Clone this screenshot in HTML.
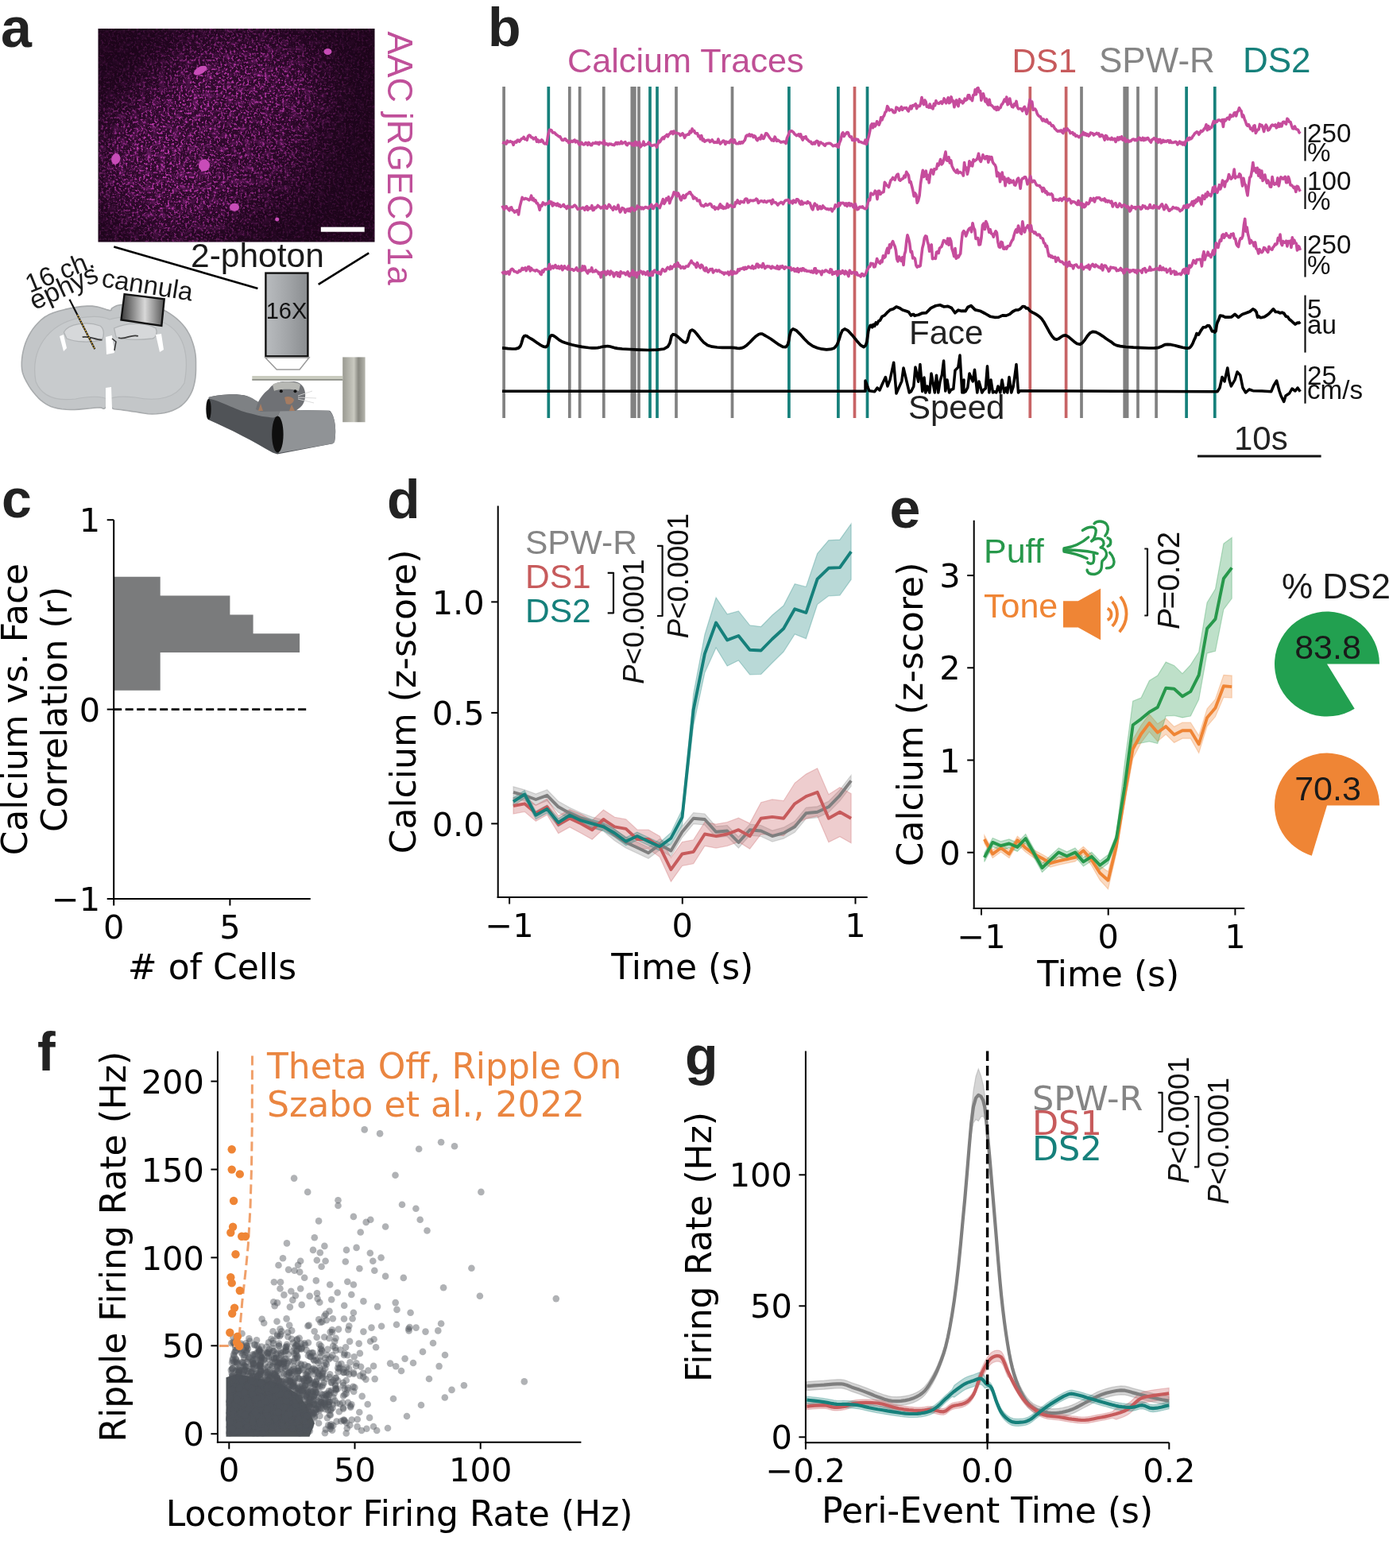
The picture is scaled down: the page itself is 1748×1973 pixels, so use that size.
<!DOCTYPE html>
<html><head><meta charset="utf-8"><meta name="viewport" content="width=1748"><title>Figure</title>
<style>html,body{margin:0;padding:0;background:#fff;width:1748px;height:1973px;overflow:hidden;}svg{display:block;}</style></head>
<body><svg width="1748" height="1973" viewBox="0 0 1748 1973">
<rect width="1748" height="1973" fill="#fff"/>
<text x="1" y="58.8" font-size="70" fill="#222" font-family="'Liberation Sans', Arial, Helvetica, sans-serif" text-anchor="start" font-weight="bold">a</text>
<defs>
<filter id="speck" x="0" y="0" width="100%" height="100%">
<feTurbulence type="fractalNoise" baseFrequency="0.36" numOctaves="3" seed="3" result="n"/>
<feColorMatrix in="n" type="matrix" values="0 0 0 0 0  0 0 0 0 0  0 0 0 0 0  4.5 0 0 0 -2.3" result="a"/>
<feFlood flood-color="#c43cb4" result="c"/>
<feComposite in="c" in2="a" operator="in"/>
</filter>
<filter id="speck2" x="0" y="0" width="100%" height="100%">
<feTurbulence type="fractalNoise" baseFrequency="0.12" numOctaves="2" seed="11" result="n"/>
<feColorMatrix in="n" type="matrix" values="0 0 0 0 0  0 0 0 0 0  0 0 0 0 0  3.0 0 0 0 -1.45" result="a"/>
<feFlood flood-color="#7a2074" result="c"/>
<feComposite in="c" in2="a" operator="in"/>
</filter>
<filter id="mblur" x="-50%" y="-50%" width="200%" height="200%"><feGaussianBlur stdDeviation="28"/></filter>
<clipPath id="imgclip"><rect x="123.5" y="36" width="348" height="268.5"/></clipPath>
<mask id="imgm" maskUnits="userSpaceOnUse" x="123.5" y="36" width="348" height="268.5">
<rect x="123.5" y="36" width="348" height="268.5" fill="#333"/>
<g filter="url(#mblur)"><ellipse cx="225" cy="205" rx="105" ry="95" fill="#fff"/><ellipse cx="300" cy="115" rx="105" ry="70" fill="#fff"/><ellipse cx="330" cy="190" rx="60" ry="60" fill="#ccc"/></g>
</mask>
<linearGradient id="objg" x1="0" x2="1" y1="0" y2="0">
<stop offset="0" stop-color="#b9bcbf"/><stop offset="0.5" stop-color="#a3a6a9"/><stop offset="1" stop-color="#8a8d90"/>
</linearGradient>
<linearGradient id="cang" x1="0" x2="1" y1="0" y2="0">
<stop offset="0" stop-color="#3c3c3c"/><stop offset="0.55" stop-color="#d8d8d8"/><stop offset="1" stop-color="#555"/>
</linearGradient>
<linearGradient id="postg" x1="0" x2="1" y1="0" y2="0">
<stop offset="0" stop-color="#9a9a92"/><stop offset="0.5" stop-color="#c9c9c0"/><stop offset="0.7" stop-color="#888880"/><stop offset="1" stop-color="#b5b5ad"/>
</linearGradient>
</defs>
<rect x="123.5" y="36" width="348" height="268.5" fill="#180316"/>
<g clip-path="url(#imgclip)"><g mask="url(#imgm)"><rect x="123.5" y="36" width="348" height="268.5" fill="#300a2d"/><rect x="123.5" y="36" width="348" height="268.5" filter="url(#speck2)" opacity="0.7"/><rect x="123.5" y="36" width="348" height="268.5" filter="url(#speck)" opacity="0.95"/></g></g>
<ellipse cx="252" cy="88.7" rx="9" ry="4.5" fill="#c84cb8" transform="rotate(-30 252 88.7)"/>
<ellipse cx="145.7" cy="200" rx="5.5" ry="7" fill="#c84cb8" transform="rotate(15 145.7 200)"/>
<ellipse cx="257" cy="208" rx="7" ry="7.5" fill="#c84cb8" transform="rotate(0 257 208)"/>
<ellipse cx="295" cy="260.7" rx="6" ry="5" fill="#c84cb8" transform="rotate(0 295 260.7)"/>
<ellipse cx="412.5" cy="65" rx="5" ry="4" fill="#c84cb8" transform="rotate(0 412.5 65)"/>
<ellipse cx="348.7" cy="276" rx="2.5" ry="2.5" fill="#c84cb8" transform="rotate(0 348.7 276)"/>
<rect x="403.8" y="285.7" width="54.9" height="6" fill="#fff"/>
<text x="0" y="0" font-size="43.5" fill="#c0509a" font-family="'Liberation Sans', Arial, Helvetica, sans-serif" text-anchor="start" font-weight="normal" transform="translate(488,39.5) rotate(90)">AAC jRGECO1a</text>
<line x1="143.3" y1="310.6" x2="324.4" y2="362.9" stroke="#000" stroke-width="2.6"/>
<line x1="464.2" y1="318.3" x2="400.7" y2="357.8" stroke="#000" stroke-width="2.6"/>
<text x="240" y="336.3" font-size="42.5" fill="#1a1a1a" font-family="'Liberation Sans', Arial, Helvetica, sans-serif" text-anchor="start" font-weight="normal">2-photon</text>
<rect x="334.4" y="343.6" width="53" height="104.7" fill="url(#objg)" stroke="#111" stroke-width="2.4"/>
<polygon points="333.9,450 389,450 377.1,465 348.2,465" fill="#fff" stroke="#9a9a9a" stroke-width="1.5"/>
<text x="360.5" y="400.8" font-size="29" fill="#111" font-family="'Liberation Sans', Arial, Helvetica, sans-serif" text-anchor="middle" font-weight="normal">16X</text>
<path d="M138,390.6 L134,389.6 L128.6,387.8 L122.4,386.1 L116.1,385.1 L109.6,385.1 L102.7,385.6 L95.7,386.6 L88.7,387.9 L81.6,389.4 L74.3,391.3 L67.3,393.5 L61.2,396.1 L56.2,399 L51.9,402.3 L48.2,406 L44.7,409.8 L41.4,413.9 L38.5,418.4 L35.9,423 L33.7,427.7 L31.8,432.4 L30.3,437.3 L29.1,442.2 L28.2,446.9 L27.6,451.5 L27.3,456.1 L27.3,460.6 L27.6,464.7 L28.3,468.4 L29.4,471.8 L30.7,475.1 L32.4,478.5 L34.4,482.2 L36.7,486.1 L39.3,490 L42,493.6 L44.9,497 L47.9,500.3 L51.1,503.3 L54.3,505.9 L57.5,508.1 L60.6,509.9 L64,511.5 L68,512.8 L72.7,513.9 L77.9,514.7 L83.4,515.2 L88.7,515.5 L93.9,515.5 L99.2,515.1 L104.4,514.6 L109.2,514.2 L113.9,513.8 L118.4,513.3 L122.4,513 L125.7,512.8 L127.8,513.1 L129.1,513.8 L130.1,514.3 L131.2,514.2 L132.6,513.1 L133.9,511.2 L135.3,509.5 L136.7,508.7 L138,509.4 L139.2,511 L140.5,512.9 L142.2,514.2 L144.1,514.8 L146.1,515 L148.6,515.2 L151.8,515.5 L155.9,516.1 L160.7,516.8 L165.9,517.6 L171,518.3 L176.1,519.1 L181.2,520 L186.4,520.7 L191.6,521 L196.8,520.8 L202.2,520.3 L207.3,519.5 L212.2,518.3 L216.7,516.7 L221,514.8 L225.1,512.6 L228.7,510 L232,507 L234.9,503.7 L237.5,500 L239.7,496.3 L241.6,492.4 L243.1,488.4 L244.2,484.2 L245.2,479.8 L245.9,475.2 L246.3,470.4 L246.5,465.5 L246.5,460.6 L246.5,455.8 L246.4,451.1 L246,446.3 L245.2,441.4 L244,436.3 L242.4,430.9 L240.5,425.7 L238.3,420.8 L235.7,416.3 L232.8,412 L229.5,408 L226,404.3 L222.2,400.8 L218.1,397.6 L213.8,394.6 L209.5,392 L205.2,389.8 L200.8,387.9 L196.3,386.4 L191.6,385.1 L186.6,384.2 L181.5,383.6 L176.2,383.2 L171,383 L165.6,382.9 L160,383 L154.8,383.2 L150.4,383.7 L147.1,384.5 L144.5,385.7 L142.5,386.9 L140.8,387.9 L140.1,388.9 L140.2,389.9 L139.9,390.5 Z" fill="#c3c6c8" stroke="#a8abad" stroke-width="1.6" stroke-linejoin="round"/>
<path d="M45,480 C38,440 60,408 100,400 C118,397 130,398 138,402 C150,398 175,397 195,402 C228,410 240,440 232,482 C222,500 200,506 170,500 C150,498 140,500 137,503 C130,499 115,498 95,502 C70,505 52,498 45,480 Z" fill="#c8cbcd" stroke="#b6b9bb" stroke-width="1.2"/>
<path d="M80.4,418 C86,407 110,404 126,410 C132,414 131,424 128,428 C115,431 95,431 84,426 Z" fill="#d6d8da" stroke="#b0b3b5" stroke-width="1.3"/>
<path d="M143.6,413 C160,405 185,406 196,413 C199,419 196,425 192,426 C175,428 158,428 146,424 Z" fill="#d6d8da" stroke="#b0b3b5" stroke-width="1.3"/>
<path d="M103.7,424.2 C112,422 120,428 128.5,427.7 M149,425 C158,428 165,420 173.8,422.9" fill="none" stroke="#3a3a3a" stroke-width="1.8"/>
<path d="M75,423 L80,421 L84,438 L80,442 Z M196,421 L203,420 L206,440 L201,443 Z M133,424 L141,422 L144,444 L134,446 Z M133,488 L140,487 L141,514 L133,514 Z" fill="#ffffff"/>
<path d="M141,426 L146,430 L144,441" fill="none" stroke="#333" stroke-width="1.5"/>
<line x1="87.5" y1="376.7" x2="119.3" y2="439.3" stroke="#111" stroke-width="2.2"/>
<line x1="97.5" y1="396" x2="119.3" y2="439.3" stroke="#c8a040" stroke-width="1.6" stroke-dasharray="2,1.5"/>
<text x="0" y="0" font-size="33" fill="#1a1a1a" font-family="'Liberation Sans', Arial, Helvetica, sans-serif" text-anchor="start" font-weight="normal" transform="translate(37.5,369) rotate(-22)">16 ch.</text>
<text x="0" y="0" font-size="34" fill="#1a1a1a" font-family="'Liberation Sans', Arial, Helvetica, sans-serif" text-anchor="start" font-weight="normal" transform="translate(43.5,390.5) rotate(-24.5)">ephys</text>
<text x="0" y="0" font-size="33" fill="#1a1a1a" font-family="'Liberation Sans', Arial, Helvetica, sans-serif" text-anchor="start" font-weight="normal" transform="translate(126.7,360.5) rotate(9)">cannula</text>
<polygon points="156.6,370.1 206.7,376.3 203.3,410 152.5,402.4" fill="url(#cang)" stroke="#111" stroke-width="2.4"/>
<path d="M262.6,500 C275,496 300,495 310,498 C322,503 330,511 345,515.5 L415,516.8 C421,522 424,540 421,556 L418.7,558.3 L349,571.5 L343,569.6 C320,556 290,540 262,528 Z" fill="#505357"/>
<path d="M262.6,499.8 C275,496 298,496 306.6,497.3 C314,499 318,501 320.5,503 C327,507 333,511 338,513 L345.6,515.5 L353,515.5 L349.4,523.7 C346,525 344,525.6 343,525.6 C335,524.5 330,524 325.5,523 C318,521 312,519.5 306.6,518 C298,515 292,512 287.8,510.5 C278,506 270,503 263.8,501.7 Z" fill="#7e8184"/>
<path d="M349.4,523.7 L353,515.5 L413.6,516.8 C421,520 424,540 421,556 L418.7,558.3 L351,570 Z" fill="#909396"/>
<ellipse cx="349.4" cy="546.6" rx="7.2" ry="23" fill="#0e0e0e"/>
<ellipse cx="262.5" cy="515" rx="3.2" ry="13" fill="#0e0e0e"/>
<rect x="431.2" y="449.4" width="28.4" height="81.8" fill="url(#postg)"/>
<path d="M322,515 C324,505 330,496 338,490 C342,484 348,481 356,480 L370,480 C378,481 383,486 384,494 C385,503 382,510 376,514 L372,517 L328,518 Z" fill="#6f7175"/>
<path d="M343,484 C350,479 372,479 378,484 L376,492 C370,489 350,489 345,492 Z" fill="#b7b8b4"/>
<circle cx="353.8" cy="492.2" r="2" fill="#111"/><circle cx="371.5" cy="492.2" r="2" fill="#111"/>
<path d="M358,500 C362,498 368,499 370,503 C369,508 364,510 360,508 Z" fill="#a57c62"/>
<path d="M325,517 L328,508 L331,517 Z M364,517 L367,509 L371,517 Z" fill="#a57c62"/>
<path d="M375,498 L393,492 M375,500 L398,501 M375,502 L395,507" stroke="#d8d8d8" stroke-width="0.9"/>
<rect x="317.3" y="473" width="113.9" height="5.4" fill="#c9cbbf"/>
<rect x="317.3" y="477.2" width="113.9" height="1.4" fill="#7d7f78"/>
<text x="614" y="58" font-size="68" fill="#222" font-family="'Liberation Sans', Arial, Helvetica, sans-serif" text-anchor="start" font-weight="bold">b</text>
<text x="714" y="90.5" font-size="43.2" fill="#bf4f95" font-family="'Liberation Sans', Arial, Helvetica, sans-serif" text-anchor="start" font-weight="normal">Calcium Traces</text>
<text x="1273.5" y="91" font-size="42" fill="#c75a5c" font-family="'Liberation Sans', Arial, Helvetica, sans-serif" text-anchor="start" font-weight="normal">DS1</text>
<text x="1383" y="91" font-size="44" fill="#858585" font-family="'Liberation Sans', Arial, Helvetica, sans-serif" text-anchor="start" font-weight="normal">SPW-R</text>
<text x="1564" y="91" font-size="44" fill="#16807b" font-family="'Liberation Sans', Arial, Helvetica, sans-serif" text-anchor="start" font-weight="normal">DS2</text>
<line x1="634.1" y1="109" x2="634.1" y2="526" stroke="#818181" stroke-width="3.7"/>
<line x1="716.8" y1="109" x2="716.8" y2="526" stroke="#818181" stroke-width="3.7"/>
<line x1="729.6" y1="109" x2="729.6" y2="526" stroke="#818181" stroke-width="3.7"/>
<line x1="759.8" y1="109" x2="759.8" y2="526" stroke="#818181" stroke-width="3.7"/>
<line x1="795.3" y1="109" x2="795.3" y2="526" stroke="#818181" stroke-width="3.7"/>
<line x1="798.8" y1="109" x2="798.8" y2="526" stroke="#818181" stroke-width="3.7"/>
<line x1="804" y1="109" x2="804" y2="526" stroke="#818181" stroke-width="3.7"/>
<line x1="851" y1="109" x2="851" y2="526" stroke="#818181" stroke-width="3.7"/>
<line x1="921.5" y1="109" x2="921.5" y2="526" stroke="#818181" stroke-width="3.7"/>
<line x1="1361" y1="109" x2="1361" y2="526" stroke="#818181" stroke-width="3.7"/>
<line x1="1415.2" y1="109" x2="1415.2" y2="526" stroke="#818181" stroke-width="3.7"/>
<line x1="1418.6" y1="109" x2="1418.6" y2="526" stroke="#818181" stroke-width="3.7"/>
<line x1="1432" y1="109" x2="1432" y2="526" stroke="#818181" stroke-width="3.7"/>
<line x1="1455.1" y1="109" x2="1455.1" y2="526" stroke="#818181" stroke-width="3.7"/>
<line x1="690.3" y1="109" x2="690.3" y2="526" stroke="#16807b" stroke-width="3.7"/>
<line x1="818" y1="109" x2="818" y2="526" stroke="#16807b" stroke-width="3.7"/>
<line x1="827" y1="109" x2="827" y2="526" stroke="#16807b" stroke-width="3.7"/>
<line x1="992.9" y1="109" x2="992.9" y2="526" stroke="#16807b" stroke-width="3.7"/>
<line x1="1054.9" y1="109" x2="1054.9" y2="526" stroke="#16807b" stroke-width="3.7"/>
<line x1="1091.5" y1="109" x2="1091.5" y2="526" stroke="#16807b" stroke-width="3.7"/>
<line x1="1493.1" y1="109" x2="1493.1" y2="526" stroke="#16807b" stroke-width="3.7"/>
<line x1="1528.8" y1="109" x2="1528.8" y2="526" stroke="#16807b" stroke-width="3.7"/>
<line x1="1075.5" y1="109" x2="1075.5" y2="526" stroke="#c86466" stroke-width="3.7"/>
<line x1="1296.3" y1="109" x2="1296.3" y2="526" stroke="#c86466" stroke-width="3.7"/>
<line x1="1341.6" y1="109" x2="1341.6" y2="526" stroke="#c86466" stroke-width="3.7"/>
<polyline points="632,179.3 633.3,179.7 634.6,179.4 635.8,179.6 637.1,181 638.4,177.2 639.7,178.8 640.9,178.5 642.2,177.7 643.5,178.6 644.8,178.7 646.1,182.3 647.3,179.1 648.6,178.1 649.9,179.2 651.2,176.2 652.4,176.4 653.7,178 655,176.3 656.4,174.6 657.8,174.3 659.1,172.4 660.5,175.3 661.9,175 663.2,176.3 664.6,171.3 666,170.1 667.4,170.9 668.7,172.9 670.1,173 671.4,174.9 672.8,174.1 674.1,173 675.5,178.2 676.8,176 678,178.7 679.2,177.2 680.5,178.2 681.8,176 683,177.3 684.2,179.9 685.5,181 686.8,180.2 688,181.2 689.8,169.5 691.5,163.4 692.8,163.5 694.1,163.9 695.4,166.9 696.8,166.9 698.1,167.1 699.4,168.8 700.7,169.8 702.1,170.7 703.4,171.9 704.8,171.9 706.2,174.5 707.5,176.4 708.9,176.4 710.3,174.9 711.7,174.9 713,177.1 714.4,177 715.7,179.6 716.9,178.2 718.2,178.6 719.4,177.3 720.7,178.4 721.9,176.8 723.2,176.2 724.4,178.9 725.7,177.3 727,178.1 728.2,180.7 729.5,182.2 730.7,180.2 732,179.4 733.2,181.3 734.5,182 735.7,181.6 737,179.6 738.3,179.9 739.6,182.3 740.8,179.3 742.1,180.7 743.4,182.7 744.7,182.6 746,180 747.3,180.3 748.5,180.4 749.8,179.1 751.1,180.7 752.4,179.5 753.7,181.6 754.9,179.2 756.2,179.7 757.5,179.8 758.8,180.8 760.1,177 761.3,181.9 762.6,180.6 763.9,181 765.2,182.7 766.5,181 767.8,181.5 769,181.1 770.3,182.1 771.6,182 772.9,182.7 774.1,181 775.4,179.4 776.7,181.3 778,179.5 779.2,181 780.5,180.8 781.8,178.1 783,180.6 784.3,179.9 785.6,179.4 786.9,178.7 788.1,182 789.4,182.7 790.7,180.2 792,180.1 793.2,180.5 794.5,180.3 795.8,182.7 797.1,180.5 798.3,183.2 799.6,178.5 800.9,178.9 802.2,182.9 803.5,181.5 804.7,178.8 806,184.9 807.3,183.3 808.6,182.5 809.9,178.2 811.1,182.9 812.4,181.9 813.7,181.6 815,181.2 816.3,179.1 817.5,179.8 818.8,182.3 820.1,183.4 821.4,183 822.7,182.6 823.9,182.2 825.2,182.7 826.5,185.3 827.8,181.2 829.1,177.3 830.3,178.9 831.6,176.8 832.9,174.4 834.2,172.9 835.4,174.7 836.7,171.7 838,171.1 839.3,169.5 840.5,171.8 841.8,169.1 843.1,168.3 844.3,166 845.6,165.6 846.9,168.6 848.1,165.1 849.4,167.3 850.8,167.4 852.1,167.6 853.5,168 854.8,168.2 856.2,170.5 857.6,169.7 858.9,167.8 860.3,169.8 861.6,173.3 863,170 864.3,170 865.7,168.8 867,169.2 868.3,165.1 869.7,166.9 871,162.1 872.3,164.9 873.6,164.5 874.9,167.6 876.2,167.9 877.6,167.7 878.9,171.7 880.2,171.2 881.5,174.9 882.8,170.7 884.2,176.8 885.5,175.2 886.8,178.2 888.2,177.3 889.5,176.5 890.8,176.4 892.2,176.3 893.5,178.5 894.8,177.7 896.2,176 897.5,178.1 898.8,179.4 900,178.9 901.3,179.1 902.6,179.5 903.9,175.1 905.1,178.6 906.4,181 907.7,179.7 909,178.3 910.2,177 911.5,177.6 912.8,181.5 914,178.3 915.3,179.5 916.6,178.7 917.9,179.7 919.1,177 920.4,175.6 921.7,178.2 922.9,179.5 924.2,175.9 925.5,179.5 926.7,180.8 928,180.7 929.3,180.7 930.5,178.8 931.8,180.5 933.2,178.6 934.6,179.8 936,177.7 937.4,176.3 938.8,171.6 940.2,170.1 941.6,170.8 943,169 944.3,171.2 945.5,169.6 946.8,169.9 948.1,172.7 949.4,171 950.6,172 951.9,175.2 953.2,176.7 954.5,174.4 955.7,173.3 957,175 958.4,170.1 959.7,174 961.1,174.4 962.4,171.3 963.8,167.8 965.1,168.1 966.3,169.7 967.6,171.7 968.8,173.6 970.1,175 971.3,176.7 972.6,175.4 973.8,177.2 975.1,172.2 976.3,174.4 977.6,177.5 978.9,176.1 980.1,177.1 981.4,178 982.7,179.1 983.9,178.5 985.2,178.6 986.5,178.1 987.7,179.3 989,180.5 990.5,173.5 992.1,170 993.6,165.2 994.9,165.3 996.2,164.7 997.4,165.6 998.7,166.7 1000,168.8 1001.3,169.5 1002.5,170.7 1003.8,170.1 1005.1,168.9 1006.4,171.6 1007.6,168.8 1008.9,173.7 1010.2,176.1 1011.5,172.7 1012.7,173.6 1014,171.8 1015.3,175.1 1016.5,175.8 1017.8,177.4 1019.1,178.4 1020.4,178.2 1021.6,180.9 1022.9,181.3 1024.2,179.4 1025.4,181 1026.7,178.2 1028,177.4 1029.3,178.1 1030.5,182.9 1031.8,179.3 1033.1,179.1 1034.3,180.4 1035.6,180.8 1036.9,182.3 1038.2,183.3 1039.4,181.3 1040.7,180.8 1042,180.4 1043.3,180.3 1044.5,180.4 1045.8,181.1 1047.1,182.3 1048.4,183.7 1049.7,183.5 1051.1,182.5 1052.4,183.9 1053.7,181.5 1055,185.4 1056.5,179.6 1058,176.2 1059.5,168.8 1060.8,166.8 1062.1,171.6 1063.4,169.3 1064.7,168.1 1066,166.5 1067.3,166.7 1068.6,170.6 1070,172.5 1071.4,172.1 1072.7,176.5 1074.1,175.2 1075.5,177.2 1076.9,175 1078.2,175.4 1079.6,175.5 1080.9,178.5 1082.3,178.4 1083.6,178.7 1085,179.6 1086.3,179.6 1087.7,180.5 1089,176.2 1090.4,181.5 1091.8,176.7 1093.2,172.1 1094.6,165.5 1096,158 1097.3,155.8 1098.5,160.8 1099.8,155.8 1101.1,159 1102.4,157 1103.6,152.8 1104.9,154.7 1106.2,157.2 1107.5,153.8 1108.7,147.7 1110,150.9 1111.3,147.1 1112.7,145.3 1114,141.3 1115.4,139.9 1116.7,133.7 1118,135.8 1119.2,138.9 1120.5,138.4 1121.7,138 1123,138.6 1124.2,141.2 1125.5,141.8 1126.7,141.1 1128,135.2 1129.3,135.6 1130.5,137.2 1131.8,139.1 1133.1,136.3 1134.4,134.5 1135.6,138.2 1136.9,136.3 1138.2,135.7 1139.5,136.3 1140.7,135.6 1142,138.6 1143.3,139.9 1144.6,136.1 1145.9,133.5 1147.1,136.8 1148.4,132.8 1149.7,133.1 1151,131.9 1152.3,130.7 1153.6,136.6 1154.9,133.2 1156.1,133.8 1157.4,133.5 1158.7,129.8 1160,122.6 1161.3,129.8 1162.5,131.5 1163.8,126 1165.1,128 1166.4,134.3 1167.6,133.9 1168.9,135.3 1170.2,131 1171.5,135.5 1172.7,134.3 1174,136.8 1175.3,130.6 1176.6,132.8 1177.9,126.8 1179.1,129.2 1180.4,130 1181.7,130.4 1183,128.9 1184.3,127.8 1185.6,130.3 1186.9,128.1 1188.1,123.9 1189.4,127.9 1190.7,129.8 1192,125.6 1193.3,122.9 1194.5,129.6 1195.8,128.8 1197.1,121.9 1198.4,127.1 1199.6,126.9 1200.9,134.8 1202.2,129.4 1203.5,126 1204.7,131.2 1206,133.6 1207.4,124.8 1208.7,128.4 1210.1,127.1 1211.5,129.9 1212.8,128.3 1214.2,124.2 1215.6,126.1 1217,125 1218.3,119.7 1219.7,119.8 1221,124.5 1222.2,123.9 1223.5,126.6 1224.7,119.8 1226,119.5 1227.2,112.9 1228.5,118.8 1229.7,111.4 1231,110.6 1232.3,115.9 1233.6,114.6 1234.9,126.2 1236.1,119.2 1237.4,117.8 1238.7,122.7 1240,127.9 1241.3,124.3 1242.5,130.4 1243.8,132.1 1245.1,125.3 1246.4,132.1 1247.6,132.3 1248.9,133.6 1250.2,134.9 1251.5,136.8 1252.7,135 1254,138.4 1255.3,134.5 1256.5,138 1257.8,135.9 1259.1,135.5 1260.3,131.7 1261.6,130.7 1262.9,127.9 1264.1,125.2 1265.4,127.6 1266.8,122.2 1268.1,131.7 1269.5,130.3 1270.8,124.1 1272.2,130.7 1273.6,134.4 1274.9,134.8 1276.3,130.9 1277.6,132.6 1279,127.4 1280.3,134.4 1281.6,136.9 1282.9,136.8 1284.2,136.7 1285.4,137.3 1286.7,139.6 1288,136.1 1289.3,134.3 1290.6,137.7 1292,143.4 1293.4,139.5 1294.7,133.6 1296.1,125.3 1297.5,128.6 1298.8,128.2 1300.1,138.3 1301.4,137.2 1302.7,137.1 1304,139.3 1305.3,143.2 1306.6,145.2 1307.9,146.4 1309.3,146.8 1310.6,149.3 1312,151.9 1313.3,150 1314.6,152.1 1316,152.9 1317.3,150.4 1318.7,154.1 1320,155.3 1321.3,154.3 1322.5,156.5 1323.8,158.5 1325.1,157.8 1326.4,159.8 1327.6,162.1 1328.9,163 1330.2,164.7 1331.5,165.3 1332.7,164.5 1334,165.1 1335.3,164 1336.6,166.2 1337.9,167.6 1339.1,162.3 1340.4,164.7 1341.7,163.7 1343,161.8 1344.3,163.8 1345.7,164.4 1347,167.6 1348.4,167 1349.7,166.6 1351.1,169.5 1352.4,168.5 1353.8,171.4 1355.1,170.5 1356.5,171.4 1357.8,172.7 1359.2,171.3 1360.6,170 1361.9,169.5 1363.3,166.4 1364.6,169.7 1366,167.8 1367.3,170.4 1368.6,168.9 1369.9,171.2 1371.2,170 1372.5,167 1373.8,167.7 1375.1,167.8 1376.4,170 1377.7,169 1379,168.4 1380.2,167.5 1381.5,168.9 1382.7,167.9 1384,171.7 1385.2,171.4 1386.5,169.6 1387.7,170.6 1389,172.8 1390.2,176.2 1391.5,170.5 1392.7,171.1 1394,175.2 1395.2,174.2 1396.5,174.7 1397.7,175.6 1399,173.3 1400.2,175.6 1401.5,175.5 1402.7,174.5 1404,178.5 1405.2,175.5 1406.5,173 1407.7,176 1409,172.9 1410.3,174.8 1411.6,171.9 1412.8,176.1 1414.1,176.1 1415.4,173.9 1416.6,178.3 1417.9,176.3 1419.2,176.3 1420.4,178.4 1421.7,177.2 1423,177.7 1424.3,176.1 1425.5,175.2 1426.8,175.1 1428.1,176.6 1429.3,175.3 1430.6,176.7 1431.9,175.4 1433.1,173.3 1434.4,173.5 1435.7,176.2 1437,176.3 1438.2,173.4 1439.5,176.6 1440.8,174.2 1442,175.9 1443.3,173.9 1444.6,173.5 1445.9,175.8 1447.1,177.4 1448.4,179 1449.7,175.7 1451,175.2 1452.2,173.9 1453.5,174.5 1454.8,177.3 1456,174.8 1457.3,179.3 1458.6,175.5 1459.9,175.6 1461.1,179.8 1462.4,179.1 1463.7,176.3 1465,178.4 1466.3,177.4 1467.6,178.3 1468.9,177 1470.2,176.7 1471.5,179.3 1472.8,177 1474.1,179.4 1475.4,179.4 1476.7,179.4 1478,179 1479.3,178.2 1480.6,179 1481.9,182 1483.2,180.2 1484.5,178.1 1485.8,180.6 1487.1,179.1 1488.4,182 1489.7,179.4 1491,182.3 1492.2,177.5 1493.5,177.2 1494.8,173.9 1496,175.9 1497.2,173.3 1498.5,174.9 1499.8,173.9 1501,171.5 1502.2,170.2 1503.5,168 1504.8,167.1 1506,165.9 1507.3,166.5 1508.7,169.3 1510,167.4 1511.3,164.7 1512.7,165.6 1514,164.3 1515.3,162.3 1516.7,160.8 1518,156.8 1519.3,163.8 1520.7,158.5 1522,162.5 1523.4,160.4 1524.7,160.5 1526.1,155.9 1527.4,152.4 1528.8,154.7 1530.2,152.9 1531.5,153.1 1532.9,151.1 1534.2,151.1 1535.6,151.5 1536.9,152.5 1538.1,150.7 1539.4,159.4 1540.6,150.3 1541.9,152 1543.1,150.6 1544.4,148.6 1545.6,148 1546.9,150.2 1548.1,144.6 1549.4,146.9 1550.7,145.3 1551.9,146 1553.2,142 1554.5,141.7 1555.7,145.9 1557,140.9 1558.3,139.6 1559.5,135.8 1560.8,138.2 1562.1,139.6 1563.4,147 1564.7,145 1566.1,149.6 1567.4,152.7 1568.7,156.8 1570,158.4 1571.3,156.6 1572.6,159.1 1573.9,162.3 1575.1,161.4 1576.4,164.6 1577.7,158.8 1579,157.8 1580.3,167.4 1581.6,165 1582.9,163.1 1584.1,163 1585.4,156.4 1586.7,158.1 1588,157.5 1589.3,160.8 1590.6,165.6 1591.9,159.6 1593.2,157.2 1594.5,159.5 1595.8,164 1597.1,163.2 1598.5,160.9 1599.8,158.2 1601.1,157 1602.4,158 1603.7,158.1 1605,156.9 1606.3,160.9 1607.6,159.9 1608.9,155.1 1610.3,159.4 1611.6,155.9 1613,158.9 1614.4,153.7 1615.8,153.2 1617.1,154.6 1618.5,156.1 1619.9,149.3 1621.2,150.6 1622.6,153.5 1624,153.6 1625.3,157.8 1626.7,161.7 1628.1,161.9 1629.4,159 1630.8,162.3 1632.2,162.8 1633.6,163.4 1634.9,166.6 1636.3,168" fill="none" stroke="#c64c9c" stroke-width="3.6" stroke-linejoin="round"/>
<polyline points="632,258.7 633.3,261.6 634.6,263.3 635.9,261 637.1,259.6 638.4,261.9 639.7,263.4 641,264.9 642.3,261.2 643.6,260.9 644.9,264.7 646.2,264.9 647.5,267.1 648.7,266.6 650,264.9 651.3,264.6 652.6,270 654.1,260.4 655.7,254.1 657.2,248.4 658.5,250.4 659.7,250.6 661,249.6 662.3,249.9 663.5,250.4 664.8,251.1 666.1,251.8 667.3,250.1 668.6,246.2 669.9,251.7 671.2,249.6 672.5,252.8 673.9,251.9 675.2,255.7 676.5,255.9 677.8,258.8 679.2,264.2 680.5,258.4 681.9,259.1 683.3,254.9 684.6,256.1 686,257.6 687.4,256 688.8,256.4 690.1,255.6 691.5,253.2 692.8,256.1 694,254.1 695.3,259 696.6,255.5 697.9,257.5 699.1,256.7 700.4,258.6 701.7,256.2 703,259.1 704.2,257.6 705.5,260.1 706.8,259.5 708,258.8 709.3,257.3 710.6,260.2 711.9,260.1 713.1,262.5 714.4,259.3 715.7,260.7 716.9,260.8 718.2,260.5 719.5,260.4 720.8,260.4 722,259.1 723.3,258.2 724.6,259.3 725.8,261.3 727.1,263.2 728.4,262.5 729.7,262.6 730.9,262.2 732.2,262.1 733.5,261.2 734.8,262.2 736,264.2 737.3,260.6 738.6,259.6 739.8,264.2 741.1,261.5 742.3,262.5 743.6,262.3 744.9,258.6 746.1,264.6 747.4,264 748.6,261 749.9,261.7 751.2,260.5 752.4,258.5 753.7,259.7 755,260.6 756.2,262 757.5,261.3 758.7,260 760,262.2 761.3,258.8 762.6,261.4 763.8,262.4 765.1,260.1 766.4,257.4 767.7,258.8 768.9,261.2 770.2,262.1 771.5,264.2 772.8,260 774.1,261.6 775.3,263.1 776.6,261.9 777.9,258 779.2,263.5 780.4,266.9 781.7,265.1 783,261.6 784.3,262.1 785.6,263.2 786.8,267.3 788.1,264.3 789.4,263.1 790.7,265.5 791.9,262.7 793.2,265.9 794.5,261.6 795.8,261.5 797.1,263.6 798.3,265 799.6,263.7 800.9,262.9 802.2,259 803.4,260.5 804.7,260.8 806,260.9 807.3,262.8 808.5,261.1 809.8,262.8 811.1,261.5 812.3,260.5 813.6,261 814.9,261.5 816.1,262.1 817.4,259.6 818.7,259.6 819.9,257.4 821.2,262.4 822.5,262.4 823.7,259.3 825,258.3 826.3,256.7 827.5,258.9 828.8,259 830.2,261.7 831.6,257.7 833,254.7 834.4,250.6 835.8,256.4 837.2,254 838.6,249.7 840,251.7 841.3,247.8 842.7,255.7 844,251.4 845.4,249 846.7,246.6 848.1,241.9 849.4,244.2 850.7,242.6 852,246.9 853.3,243 854.7,245.4 856,250.1 857.3,251.9 858.6,247.6 859.9,245.7 861.1,249.2 862.4,248.8 863.7,244.8 864.9,244.2 866.2,243.5 867.5,241.8 868.7,241.9 870,244.7 871.3,245.8 872.6,250 873.9,248.1 875.1,249.5 876.4,249.7 877.7,252.8 879,252.6 880.3,252 881.6,256.8 883,258.9 884.3,258.5 885.6,259.7 886.9,258.2 888.2,256.7 889.6,258.4 890.9,258.1 892.2,257.1 893.5,256.4 894.9,257.1 896.2,260.2 897.5,261.1 898.8,260 900,263.3 901.3,261.3 902.6,261.7 903.9,262.9 905.1,259.3 906.4,256.8 907.7,261.4 909,259.2 910.2,262.5 911.5,261 912.8,262 914,261.6 915.3,256.4 916.6,260.8 917.9,258.7 919.1,258.3 920.4,258.8 921.7,260.4 923,260.3 924.3,260 925.6,254.6 926.9,255.5 928.2,251.9 929.5,255.1 930.9,256.1 932.2,253.3 933.5,254.3 934.8,253.9 936.1,254.7 937.4,251 938.7,250.1 940,250.2 941.3,254.9 942.6,254.2 943.9,252 945.2,252.5 946.5,252.4 947.9,252.6 949.2,252 950.5,251.8 951.8,250.2 953.1,251.2 954.4,255.5 955.7,254 957,253 958.3,252.7 959.6,253.3 960.9,254.1 962.1,252.6 963.4,254.1 964.7,254.6 966,253 967.3,253 968.6,252.8 969.9,252.9 971.2,256.6 972.5,251.3 973.7,254.8 975,254.7 976.3,254.8 977.6,256.4 978.9,258.1 980.2,256.2 981.6,255.5 982.9,254.4 984.2,254.9 985.5,256.7 986.8,254.3 988.1,252.5 989.5,252 990.8,252 992.1,251.3 993.4,255.5 994.7,254.4 996,253.1 997.4,255.8 998.7,252.1 1000,254.1 1001.3,254.7 1002.5,250.8 1003.8,250.7 1005.1,252.1 1006.4,255.8 1007.6,257.2 1008.9,253.1 1010.2,257 1011.5,255.2 1012.7,255.2 1014,255.2 1015.3,255.9 1016.5,253.6 1017.8,255.1 1019.1,255.2 1020.4,258.6 1021.6,262.1 1022.9,263.8 1024.2,258.8 1025.4,256.1 1026.7,258.5 1028,258 1029.3,263.5 1030.5,261.8 1031.8,259.6 1033.1,262.7 1034.3,262.5 1035.6,258.9 1036.9,260.8 1038.2,261.8 1039.4,262.7 1040.7,263.3 1042,262.8 1043.3,263.9 1044.5,263 1045.8,262.6 1047.2,265.9 1048.5,263.3 1049.9,262.4 1051.3,257.8 1052.7,259.1 1054,260.1 1055.4,255.6 1056.8,258.6 1058.1,255.4 1059.5,255.7 1060.8,255.2 1062.1,256.1 1063.4,258.2 1064.7,255.9 1066,259.5 1067.2,256 1068.5,255.6 1069.8,258.9 1071.1,256.3 1072.4,257.6 1073.7,260.4 1075,261.5 1076.3,256.6 1077.6,260.5 1078.9,263.7 1080.2,263.1 1081.5,260.7 1082.7,260.2 1084,261 1085.3,259.8 1086.6,261.6 1087.9,262.2 1089.2,262.7 1090.6,261.9 1091.9,256.4 1093.3,250.8 1094.6,251.8 1096,243.1 1097.3,244.2 1098.7,244.8 1100,243.4 1101.3,240.1 1102.7,241.9 1104,250.6 1105.3,240.3 1106.7,240.3 1108,244.4 1109.3,242.7 1110.7,242 1112,241.6 1113.3,229.4 1114.6,231 1115.9,233.5 1117.2,233.8 1118.4,235.5 1119.7,231.1 1121,226.7 1122.3,225.9 1123.6,223.5 1124.9,224.8 1126.2,226.3 1127.5,222.3 1128.9,219.8 1130.2,219.1 1131.5,226.1 1132.8,227.2 1134.1,225.9 1135.4,225 1136.7,224.5 1138.1,221 1139.4,222.9 1140.7,216.3 1142,218.6 1143.4,220.5 1144.7,229.5 1146.1,228.7 1147.4,233.7 1148.8,239.5 1150.2,246.9 1151.5,242.9 1152.9,245.2 1154.2,255.3 1155.6,252.4 1157.1,246.2 1158.5,231.4 1160,221.4 1161.3,214.2 1162.6,222.4 1164,217.8 1165.3,215.1 1166.6,225.4 1167.9,220.5 1169.2,229.9 1170.6,218.3 1171.9,213.6 1173.2,214.1 1174.5,219.1 1175.9,212.7 1177.2,213.1 1178.5,212.6 1179.8,206 1181.1,208.1 1182.3,204.8 1183.6,200.5 1184.9,206.9 1186.2,205.6 1187.4,202.1 1188.7,196.9 1190,191.1 1191.3,201.8 1192.7,202.2 1194,197.8 1195.3,205 1196.7,201.8 1198,208.7 1199.3,211.5 1200.7,214.2 1202,215.5 1203.3,217 1204.7,213.7 1206,217.8 1207.3,216.6 1208.5,216.6 1209.8,217.6 1211.1,218.1 1212.3,221 1213.6,204.5 1214.9,213.2 1216.1,210.9 1217.4,219.1 1218.7,213.9 1219.9,202.7 1221.2,208.4 1222.5,204.6 1223.7,209 1225,200.8 1226.3,202.7 1227.5,201.8 1228.8,201 1230.2,198.7 1231.5,193.3 1232.9,201 1234.3,203.4 1235.7,199.2 1237,194.8 1238.4,198.6 1239.8,199.9 1241.1,196.8 1242.5,196.7 1243.8,204.2 1245.2,197.2 1246.5,200.5 1247.9,197.6 1249.2,203.7 1250.6,206 1252,207.3 1253.3,210.3 1254.7,221.8 1256,217.3 1257.3,218.5 1258.6,228.7 1259.9,222.5 1261.2,217 1262.5,225.8 1263.8,223 1265.1,233.8 1266.4,225.4 1267.7,228.4 1269,224.4 1270.2,230.3 1271.5,226.5 1272.8,229.5 1274,228.4 1275.3,227.2 1276.6,232.7 1277.8,233.1 1279.1,229.6 1280.3,225.4 1281.6,224.1 1282.9,228.9 1284.1,237.2 1285.4,227 1286.7,224.6 1287.9,224.5 1289.2,222.7 1290.5,222.8 1291.7,225.5 1293,231.8 1294.3,227.5 1295.5,225.6 1296.8,221.7 1298.1,228.7 1299.3,228.9 1300.6,227.3 1301.9,227.8 1303.1,230.2 1304.4,232.8 1305.7,233.3 1306.9,233.5 1308.2,233.5 1309.4,235.6 1310.7,236.1 1311.9,241 1313.2,236.5 1314.4,238.4 1315.7,242.4 1317,241 1318.2,244.8 1319.5,243.4 1320.7,244.6 1322,244.7 1323.2,243.8 1324.5,245.4 1325.7,252.2 1327,250.9 1328.3,250.8 1329.7,251.6 1331,251.2 1332.3,252.1 1333.7,250.1 1335,250.1 1336.3,252.5 1337.7,250.5 1339,248.7 1340.3,250.7 1341.7,250.5 1343,252.7 1344.3,250.8 1345.6,250.3 1346.8,251.8 1348.1,255.7 1349.4,253.5 1350.7,253.9 1351.9,254 1353.2,254.8 1354.5,256.3 1355.8,257.6 1357.1,252.5 1358.3,257.7 1359.6,256 1360.9,255.6 1362.2,260.7 1363.4,256.9 1364.7,260.6 1366,259.5 1367.3,255 1368.5,256.7 1369.8,256.6 1371.1,254.4 1372.4,249.6 1373.6,252 1374.9,251.9 1376.2,249.5 1377.5,253.9 1378.7,250 1380,248.7 1381.3,249.2 1382.5,248.7 1383.8,249 1385,251 1386.3,251.9 1387.6,250.9 1388.8,251.9 1390.1,250 1391.4,253.7 1392.6,252.1 1393.9,254 1395.1,252.6 1396.4,253.5 1397.7,255.2 1398.9,253.2 1400.2,260 1401.5,256.5 1402.7,256.4 1404,255.6 1405.2,260.1 1406.5,260.5 1407.8,258.9 1409,256.1 1410.3,257.8 1411.6,260.3 1412.8,258.9 1414.1,257.9 1415.3,258.1 1416.6,259.3 1417.9,260.8 1419.1,259.7 1420.4,260.8 1421.7,265.9 1423,264.6 1424.2,259.4 1425.5,261.4 1426.8,261.1 1428.1,260.7 1429.3,262.8 1430.6,260.5 1431.9,260.3 1433.2,260.2 1434.4,260.6 1435.7,263.2 1437,262.5 1438.3,258.6 1439.5,259.9 1440.8,259.4 1442.1,262.2 1443.4,261.4 1444.6,262.6 1445.9,261 1447.2,257.5 1448.5,261.4 1449.7,261.4 1451,261.9 1452.3,258.7 1453.5,261 1454.8,259.9 1456,259.9 1457.3,261.8 1458.6,262.1 1459.8,259.9 1461.1,258.3 1462.4,256.8 1463.6,260.2 1464.9,263.6 1466.1,261.9 1467.4,257.9 1468.7,260.1 1469.9,262.7 1471.2,265.2 1472.5,264.7 1473.7,263.2 1475,262.9 1476.2,260.6 1477.5,261.6 1478.8,261.9 1480,261.3 1481.3,262.8 1482.6,262.2 1483.8,263.5 1485.1,265.7 1486.3,264.7 1487.6,264.1 1488.9,262.1 1490.1,259 1491.4,260.6 1492.7,261.3 1494,257.9 1495.2,261 1496.5,257.8 1497.8,258.1 1499.1,256.2 1500.3,253.7 1501.6,258.8 1502.9,252.8 1504.2,255.3 1505.5,251.2 1506.7,253.3 1508,248.7 1509.3,249 1510.6,253.4 1512,256.9 1513.3,246 1514.6,247.4 1515.9,250.4 1517.2,244 1518.6,247.7 1519.9,241.7 1521.2,245.6 1522.5,244.6 1523.9,246.7 1525.2,243 1526.5,236 1527.8,241.4 1529.2,234.4 1530.5,239.9 1531.8,242.4 1533.2,238.4 1534.5,232.7 1535.8,237.9 1537.2,233.7 1538.5,227.1 1539.8,228.9 1541.2,234.9 1542.5,228.2 1543.8,228.2 1545.2,225.6 1546.5,219.5 1547.8,222.4 1549.2,225.1 1550.5,224 1551.8,221.6 1553.2,213.1 1554.5,224.1 1555.8,222.4 1557.2,222.5 1558.5,222.7 1559.8,218.8 1561.1,220.1 1562.3,226 1563.6,234 1564.9,224.4 1566.2,231.2 1567.4,232.4 1568.7,239.6 1570,246 1571.4,233.8 1572.7,223.6 1574.1,222.1 1575.4,215.4 1576.8,204.6 1578.2,214.6 1579.5,211.6 1580.9,217.1 1582.3,211.3 1583.7,221.1 1585,213.7 1586.4,223.6 1587.8,215 1589.1,227.5 1590.5,223.3 1591.8,220 1593.1,226.1 1594.4,230.3 1595.8,227.2 1597.1,230.2 1598.4,234.9 1599.7,235.1 1601.1,222.5 1602.4,229.7 1603.8,232.2 1605.2,230.6 1606.6,231.6 1607.9,223.9 1609.3,233.9 1610.7,226.9 1612,222.9 1613.4,224 1614.7,225.3 1616,223.7 1617.3,222.3 1618.7,229.8 1620,229.7 1621.3,222.4 1622.6,226.1 1624,233 1625.3,232.9 1626.7,234.2 1628.1,236.3 1629.4,235.3 1630.8,241.3 1632.2,234.3 1633.6,234.9 1634.9,238.4 1636.3,240.9" fill="none" stroke="#c64c9c" stroke-width="3.6" stroke-linejoin="round"/>
<polyline points="632,341.4 633.3,343.9 634.5,342.9 635.8,342.2 637,344.5 638.3,342.8 639.6,341.8 640.8,345.1 642.1,341.1 643.3,339 644.6,338.3 645.9,339.5 647.1,341.5 648.4,341.8 649.6,342.1 650.9,343.1 652.1,342.7 653.4,340.5 654.7,341.3 655.9,339.9 657.2,337.3 658.4,339.3 659.7,337.8 661,336.9 662.2,340.6 663.5,338.5 664.7,335.7 666,335.9 667.3,341 668.5,337.4 669.8,339.4 671.1,339.9 672.4,340.3 673.6,341.1 674.9,339.8 676.2,340.3 677.5,341.5 678.7,341.8 680,344.5 681.3,345.4 682.5,340.5 683.8,342.1 685.1,338.9 686.4,338.5 687.6,338.7 688.9,338.8 690.2,337.2 691.5,332.5 692.7,338.8 694,335.8 695.3,335 696.5,337.3 697.8,335.3 699,333.6 700.3,337 701.6,337.3 702.8,335.1 704.1,337.9 705.4,337.4 706.6,334.7 707.9,339.7 709.1,337.6 710.4,334.8 711.7,337.5 712.9,337.2 714.2,338.8 715.4,334.8 716.7,338.8 718,339.2 719.2,338.9 720.5,338.9 721.8,340.3 723.1,339.6 724.3,338.6 725.6,336.9 726.9,340.4 728.2,340.7 729.4,339.6 730.7,339.4 732,340.6 733.3,334.9 734.5,339.7 735.8,335.2 737.1,339.9 738.4,342 739.6,343.9 740.9,340 742.2,341.4 743.4,340.8 744.7,336.9 746,342.1 747.3,341.4 748.5,341.6 749.8,340 751.1,341.6 752.4,342.2 753.6,344.6 754.9,343.2 756.2,349 757.5,342.6 758.7,342.4 760,343 761.2,341.7 762.5,345.8 763.8,344.7 765,341.2 766.2,343.4 767.5,345.6 768.8,341.2 770,343.6 771.2,343.2 772.5,347.9 773.8,345 775,343.2 776.2,342.8 777.5,347.3 778.8,343.5 780,348.2 781.2,341.7 782.5,343.6 783.8,343.8 785,343 786.2,343.9 787.5,345.7 788.8,343.4 790,341.9 791.2,346.8 792.5,347.6 793.8,343.8 795,345.3 796.2,340.3 797.5,346.4 798.8,342.7 800,343.9 801.2,348.8 802.5,343 803.8,344.7 805,342.8 806.2,341.1 807.5,342.1 808.8,344.8 810,342.1 811.2,343 812.5,345.5 813.8,344 815,341.7 816.2,346.5 817.5,344.4 818.8,346.5 820,342.1 821.2,346.6 822.5,341.4 823.8,340.1 825,342.3 826.2,342.6 827.5,343.7 828.8,342.2 830,344.2 831.3,345 832.6,340.9 833.8,338.7 835.1,339.7 836.4,341.4 837.7,341 838.9,338.3 840.2,336.4 841.5,337.4 842.8,338.7 844,335.2 845.3,338 846.6,335.8 847.9,335.1 849.1,332.8 850.4,335.7 851.7,333 853,330.7 854.3,335.3 855.6,334.1 856.9,337.3 858.1,336.6 859.4,335.6 860.7,337.6 862,337.2 863.3,335 864.7,335 866,335.1 867.3,332.4 868.7,330.5 870,328.1 871.2,330.7 872.5,331.1 873.8,333 875,332.7 876.2,336.5 877.5,330.7 878.8,333.6 880,335.5 881.2,337 882.5,333.3 883.8,334.2 885,337 886.2,339.9 887.5,340.9 888.8,336.9 890,340.1 891.2,342.4 892.5,340.7 893.8,338.7 895,339.3 896.2,338.3 897.5,343 898.8,341 900,340.6 901.2,339.9 902.5,341.3 903.8,340.2 905,340.1 906.2,342 907.5,342 908.8,343.4 910,343.1 911.2,345.1 912.5,343.2 913.8,343.7 915,343.9 916.2,342.2 917.5,345.8 918.8,343.1 920,341.1 921.3,345.6 922.5,344.6 923.8,341.8 925.1,343.9 926.4,343.8 927.6,342.9 928.9,338.9 930.2,340.6 931.5,338.2 932.8,338.3 934,338 935.3,337 936.6,339 937.9,336.4 939.1,338.3 940.4,337.3 941.7,335.4 943,336.2 944.2,336.8 945.5,337.3 946.8,334.7 948.2,338 949.5,336.1 950.8,337.1 952.2,332.4 953.5,332.3 954.8,336.4 956.2,334.1 957.5,335 958.8,336.3 960.2,331.6 961.5,334.5 962.8,337.7 964.1,336.1 965.4,334.8 966.6,335.7 967.9,335 969.2,336.4 970.5,337.7 971.8,335.2 973,336.6 974.3,336.4 975.6,337.4 976.9,337.8 978.2,334.6 979.5,338.5 980.8,338.5 982,335.1 983.3,336.4 984.6,334.6 985.9,336.7 987.2,338.2 988.5,335.8 989.7,336.5 991,336.5 992.3,337 993.6,337.1 994.9,336.7 996.1,339.8 997.4,338.9 998.7,337.9 1000,341.2 1001.2,338.8 1002.5,341.3 1003.8,337.7 1005,342.2 1006.2,339.4 1007.5,338.3 1008.8,340.7 1010,337.8 1011.2,338.1 1012.5,340.6 1013.8,339.6 1015,341.2 1016.2,340.9 1017.5,341.2 1018.8,341 1020,342.1 1021.2,341 1022.5,343 1023.8,343 1025,337.8 1026.2,337.7 1027.5,343.8 1028.8,340.8 1030,341.7 1031.2,341.4 1032.5,342.1 1033.8,345.7 1035,340.9 1036.2,341.9 1037.5,341.9 1038.8,340 1040,340.3 1041.3,341.5 1042.5,342.2 1043.8,343 1045.1,338.9 1046.4,339.3 1047.6,345.3 1048.9,342.6 1050.2,344.3 1051.4,342.2 1052.7,341.6 1054,346.7 1055.2,341.3 1056.5,341.4 1057.8,344.3 1059.1,343.5 1060.3,340.5 1061.6,343.5 1062.9,344.9 1064.1,341.1 1065.4,342.5 1066.7,345.2 1067.9,347.6 1069.2,340.2 1070.5,342.5 1071.8,344.1 1073,342.7 1074.3,342.6 1075.6,343.4 1076.8,345.4 1078.1,342.8 1079.4,346.1 1080.6,346.5 1081.9,346.6 1083.2,348 1084.5,344.5 1085.7,345 1087,347.1 1088.3,346.3 1089.6,344.3 1090.9,340.3 1092.1,338.5 1093.4,335.5 1094.7,335.5 1096,331.3 1097.3,331.9 1098.5,331.7 1099.8,336 1101.1,335.8 1102.4,331.3 1103.6,325.5 1104.9,328.7 1106.2,330.3 1107.5,331.5 1108.7,328.2 1110,329.6 1111.4,321.7 1112.7,324.4 1114.1,323.2 1115.4,316.6 1116.8,312.4 1118.2,318.4 1119.5,307.8 1120.9,311.9 1122.2,306.4 1123.6,303.6 1124.9,307.4 1126.2,310 1127.4,315 1128.7,326.1 1130,328.9 1131.4,323 1132.8,325.7 1134.2,328.4 1135.6,323.8 1137,333.5 1138.2,320.6 1139.5,316 1140.8,303.4 1142,295.8 1143.4,300.2 1144.7,305.9 1146.1,317.1 1147.4,316.3 1148.8,324.9 1150.2,324.1 1151.5,325.5 1152.9,334 1154.2,336.2 1155.6,334.9 1156.9,335.2 1158.2,334.4 1159.5,322.9 1160.8,312.1 1162.1,307.2 1163.4,299.3 1164.7,296.9 1166,297.4 1167.2,303.7 1168.5,308.3 1169.7,316.2 1171,309.5 1172.2,307.9 1173.5,325.7 1174.7,325.3 1176,324.7 1177.3,325.4 1178.5,317.3 1179.8,316.7 1181.1,318.6 1182.4,312.4 1183.6,311.4 1184.9,310.3 1186.2,306.6 1187.5,302.5 1188.7,303 1190,304.2 1191.3,306.6 1192.7,300 1194,308.2 1195.3,300 1196.7,303.3 1198,313.2 1199.3,316.8 1200.7,322.7 1202,312.5 1203.3,325.2 1204.7,321.8 1206,323.8 1207.4,321.2 1208.7,319.1 1210.1,303.4 1211.4,292.9 1212.8,290.6 1214.2,292.2 1215.6,297.1 1217,293.3 1218.4,289.5 1219.8,287.5 1221.2,286.7 1222.6,291.8 1224,280.7 1225.3,286.6 1226.7,289.2 1228,300.4 1229.3,300.1 1230.7,299.5 1232,308 1233.5,307.8 1235,298.9 1236.5,283.2 1238,281.1 1239.4,288.6 1240.7,278.6 1242.1,281.5 1243.5,286.5 1244.8,292.4 1246.2,288.8 1247.6,293.9 1249,294.6 1250.3,298.1 1251.7,293.6 1253.1,290.8 1254.4,292.7 1255.8,304.3 1257.2,310.7 1258.6,311.2 1259.9,304.4 1261.3,305.1 1262.7,313 1264,313.1 1265.4,311.1 1266.7,313 1268.1,309.8 1269.4,309.7 1270.8,309.1 1272.1,305.7 1273.5,302.8 1274.8,301.3 1276.1,296 1277.5,291.4 1278.8,288.8 1280.2,292.3 1281.5,284 1282.8,288.5 1284.2,293 1285.5,294.3 1286.8,278.9 1288.2,287.3 1289.5,292.1 1290.8,287.2 1292.2,286.1 1293.5,283.6 1294.8,286.9 1296.2,290.6 1297.5,283.7 1298.8,291.3 1300.2,291.2 1301.5,293.4 1302.9,292.2 1304.2,294.8 1305.6,295.9 1307,295 1308.3,295.6 1309.7,299.2 1311,299.6 1312.3,300.3 1313.6,305.5 1314.9,306.1 1316.1,310.3 1317.4,309.3 1318.7,316.4 1320,322.3 1321.3,321.1 1322.6,323.5 1323.8,322.1 1325.1,324.2 1326.4,324.2 1327.7,323.3 1328.9,329.3 1330.2,325.1 1331.5,324.4 1332.8,327.5 1334.1,329 1335.3,329.5 1336.6,329.3 1337.9,330.9 1339.2,332.5 1340.4,332.7 1341.7,329.6 1343,335.5 1344.3,333.1 1345.6,329.5 1346.8,334.5 1348.1,333.5 1349.4,334.4 1350.7,337.8 1351.9,333.8 1353.2,333.5 1354.5,333 1355.8,335.3 1357.1,336.6 1358.3,336.5 1359.6,336.3 1360.9,332.4 1362.2,336.6 1363.4,338.7 1364.7,336.2 1366,336.2 1367.3,334.9 1368.6,336.7 1369.9,333.3 1371.2,338.9 1372.5,335.3 1373.8,333.9 1375.1,332.3 1376.4,334.9 1377.7,335.7 1379,333.2 1380.2,334.5 1381.5,335 1382.7,336.5 1384,336.2 1385.2,337.5 1386.5,333.1 1387.7,340 1389,335.3 1390.2,334 1391.5,334.4 1392.8,337 1394,338.1 1395.3,341.4 1396.5,339.8 1397.8,336.2 1399,336.8 1400.3,336.9 1401.5,336.8 1402.8,337.8 1404.1,337.3 1405.3,340.7 1406.6,339.7 1407.8,340.3 1409.1,339.2 1410.3,337.4 1411.6,340.3 1412.8,339.3 1414.1,343.7 1415.3,343 1416.6,338.7 1417.9,338.6 1419.1,339.3 1420.4,339.9 1421.7,342.4 1423,340.2 1424.2,341.1 1425.5,339.7 1426.8,339.7 1428,342.2 1429.3,340.2 1430.6,343.5 1431.9,340.1 1433.1,340.5 1434.4,340.5 1435.7,340.9 1437,343.2 1438.2,338.7 1439.5,338.4 1440.8,337.6 1442,342.4 1443.3,340.4 1444.6,340.2 1445.9,340.1 1447.1,335.9 1448.4,340.1 1449.7,339.3 1451,339.5 1452.2,339.1 1453.5,338.6 1454.8,338.6 1456,337.6 1457.3,338.1 1458.6,339.6 1459.9,334.8 1461.1,339.5 1462.4,339.6 1463.7,336.8 1464.9,339.6 1466.2,339.7 1467.4,338.5 1468.7,342.6 1469.9,340.5 1471.2,340 1472.4,338.1 1473.7,344.3 1474.9,341.7 1476.2,341.8 1477.5,341.1 1478.7,345.4 1480,342.1 1481.2,345.1 1482.5,344.7 1483.7,344.7 1485,344.3 1486.2,345.5 1487.5,343.5 1488.7,340.1 1490,338.8 1491.3,344.1 1492.7,337.7 1494,341.8 1495.3,344.1 1496.7,334.1 1498,336.4 1499.3,335.1 1500.7,331.5 1502,327.6 1503.3,329.3 1504.7,331.4 1506,326.9 1507.3,326.7 1508.6,326.7 1509.8,326.2 1511.1,326.9 1512.4,334.9 1513.7,322.2 1515,316.7 1516.2,326.9 1517.5,321.9 1518.8,321.2 1520.1,317.1 1521.4,321.4 1522.7,320.5 1523.9,323.6 1525.2,320.2 1526.5,315.1 1527.8,320.2 1529.1,316 1530.3,305.8 1531.6,308.9 1532.9,311.5 1534.2,306.1 1535.4,302.1 1536.7,303.2 1538,296 1539.3,294.8 1540.5,299.2 1541.8,296.4 1543.1,293.7 1544.3,296.5 1545.6,296.5 1546.9,298.8 1548.1,298.9 1549.4,294.6 1550.7,295.7 1552,293.9 1553.3,300.1 1554.6,300.2 1555.9,307 1557.2,309.3 1558.5,310.6 1559.9,303.1 1561.3,299.8 1562.6,300.2 1564,296.9 1565.4,283 1566.7,275.4 1567.9,291.2 1569.2,286.1 1570.5,294.5 1571.7,299.3 1573,306.3 1574.3,302.4 1575.5,304.6 1576.8,305.2 1578.2,309.7 1579.6,304.9 1581,312.9 1582.4,313.7 1583.8,319 1585.2,313.7 1586.6,316.8 1588,317.7 1589.3,316.1 1590.6,311.5 1591.8,312.1 1593.1,314.1 1594.4,315.6 1595.7,317.4 1596.9,310.2 1598.2,312.5 1599.5,313.6 1600.8,314.2 1602.1,311.1 1603.3,310.1 1604.6,307.2 1605.9,307.8 1607.2,306.4 1608.4,299.4 1609.7,302.3 1611,295.1 1612.3,306.2 1613.5,308.7 1614.8,303.6 1616.1,305.1 1617.4,305 1618.6,303.2 1619.9,309.9 1621.2,303.5 1622.5,304.8 1623.7,303.2 1625,311.4 1626.3,298.7 1627.5,306.4 1628.8,302.2 1630,305.7 1631.3,306.4 1632.5,314.9 1633.8,309.5 1635,310.7 1636.3,314.9" fill="none" stroke="#c64c9c" stroke-width="3.6" stroke-linejoin="round"/>
<polyline points="632,437.9 635,438.1 639.4,438.6 644.4,439 649,438.9 652.6,437.9 654.8,435.6 656.2,432.1 657.2,428.4 658.2,425 659.5,423 661,422.4 662.5,422.7 664.2,423.7 666.1,425 668.6,426.4 671.9,428.4 675.8,431.2 680,434.1 683.9,436.1 687,436.7 689,435 690.2,431.5 691.1,427.4 692.2,423.8 693.8,421.9 696,422.1 698.5,423.6 701.2,425.8 704.2,428.1 707.5,429.9 711.2,431.2 715.2,432.5 719.5,433.7 723.8,434.7 728,435.6 732.2,436.4 736.5,437 740.7,437.5 744.9,437.8 748.7,437.9 752.2,437.6 755.3,437 758.4,436.3 761.4,435.8 764.7,435.6 767.7,436 770.2,436.7 773.1,437.6 777.1,438.4 783,439 792,439.5 803.6,440.1 815.9,440.5 827.3,440.2 835.7,439 840.5,436.1 843,431.6 844.1,426.8 845.1,422.8 847,420.7 850,421.4 853.4,424 857,427.4 860.2,430.2 863,431 864.9,428.9 866.2,424.8 867.3,420.1 868.8,416.3 871,415 874,416.9 877.5,421 881.5,426.2 885.8,431.1 890.6,434.5 896.1,436.2 902.4,437 909,437.3 915.2,437.3 920.4,437.4 924.4,437.7 927.7,438.1 930.5,438.3 933.3,437.9 936.4,436.7 940,434.2 943.9,430.5 947.8,426.4 951.5,422.9 954.7,420.7 957.2,420 959.2,420.2 961,421.1 963.1,422.4 966,424 970.1,426.5 975,430.1 980.2,433.7 985.1,436.3 989,436.7 991.4,433.7 992.8,428 993.9,421.5 995.4,416.2 998,413.9 1001.9,415.7 1006.7,420.3 1012,426.2 1017.5,431.8 1022.9,435.6 1028.4,437.7 1034.3,439.2 1040.1,439.8 1045.4,439.4 1050,437.9 1053.3,434 1055.7,427.9 1057.7,421.4 1059.9,416.1 1063,413.9 1067.4,416.2 1072.6,421.9 1078.1,428.7 1083.1,434.4 1087,436.7 1089.5,434.5 1091,429.4 1091.9,423 1092.7,416.9 1093.8,412.7 1095.1,409.6 1096.4,409.3 1097.8,411.7 1099.2,408.3 1100.7,410.2 1102.3,406 1103.8,407.8 1105.5,404.2 1107.5,403.1 1110,398.4 1113,396.9 1116.5,393.2 1120.3,389.9 1124.2,388.8 1128,386 1131.8,387.4 1135.8,390 1139.8,391.2 1143.4,392.5 1146.5,397 1148.6,395.5 1149.9,395.7 1151.1,397.3 1152.8,396.7 1155.6,396.2 1160,394.2 1165.5,393.7 1171.5,387.6 1177.5,384.8 1183,383.8 1188,386 1192.9,385.3 1197.5,387.5 1201.9,393.7 1206,390.2 1209.4,391.3 1212.2,391.2 1214.9,391.5 1218,386.5 1222,384.6 1227.2,389.9 1233.2,391.2 1239.7,394.5 1246,398.2 1251.7,399.3 1256.8,399.1 1261.7,396.9 1266.3,397.1 1270.6,395.4 1274.6,392 1278.2,390.1 1281.5,390 1284.4,388.3 1287.1,385.5 1289.5,385.8 1291.5,388 1292.9,387.5 1294.2,388.6 1295.7,390.7 1297.5,392 1299.8,393.4 1302.4,394.7 1305.2,396.3 1308.1,398.4 1311,401.3 1314.1,405.8 1317.3,411.6 1320.6,417.7 1323.9,423 1327,426.4 1329.9,427.1 1332.6,426 1335.2,424 1338,422.3 1341,421.9 1344.4,423.6 1348,426.6 1351.8,429.9 1355.5,432.5 1359,433.3 1362.2,431.4 1365.3,427.6 1368.3,423 1371.5,419.2 1375,417.3 1379,417.9 1383.4,420.1 1387.9,423.1 1392.2,426.3 1396,428.7 1398.7,430.4 1400.6,432 1402.5,433.4 1405.3,434.6 1409.8,435.6 1417,436.5 1426.4,437.2 1436.5,437.7 1445.9,438 1453.3,437.9 1458.2,437.3 1461.4,436.1 1463.7,434.8 1466.1,433.7 1469.3,433.3 1473.7,433.7 1478.7,434.8 1483.7,436.1 1488.4,437.3 1492,437.9 1494.4,438.1 1495.9,438 1497,437.7 1497.9,436.9 1499,435.6 1500.3,433.6 1501.5,430.9 1502.7,427.8 1504.2,424.8 1506,419.6 1508.4,421.1 1511.2,416.1 1514.2,411.8 1517.1,411.7 1519.6,409.7 1521.8,409.8 1523.7,413.1 1525.5,417 1527.2,416.7 1528.8,418.1 1530.1,416.6 1531.1,409.1 1532.2,405.3 1533.5,402.7 1535.6,397 1538.5,397.5 1541.9,399.2 1545.8,399.2 1549.9,398.8 1554,395.5 1558.5,399.4 1563.5,395.4 1568.4,393.8 1573,392 1576.8,388.9 1579.4,390.3 1581.2,392.8 1582.6,399.1 1584.1,398 1586,399.7 1588.5,399.3 1591.2,398.8 1594,396.9 1596.9,394.8 1599.7,391.8 1602.5,388.9 1605.3,392.5 1608.1,392.5 1610.8,393.9 1613.4,393.2 1615.8,394.3 1618.2,398.1 1620.4,398.5 1622.6,401.7 1624.9,403.5 1627.4,405.8 1630,408 1632.6,406.2 1634.8,406.3 1636.3,405" fill="none" stroke="#000" stroke-width="3.7" stroke-linejoin="round"/>
<polyline points="632,492.3 1089,492.3 1089,479 1093.8,491.7 1100.7,492.8 1104,488 1107,491 1110,484 1114.4,474.5 1117,486 1120,478 1124.7,456.2 1128,495 1134.8,479.6 1137,463 1144.3,494 1146.5,492.8 1149.8,486.2 1152,462 1155.7,480.2 1157.9,458.5 1160.8,492.5 1163,475 1164.8,494 1167,486 1169.8,494 1172,470 1176.3,494 1178.5,472.2 1180.8,494 1183,480 1185.4,471.8 1187.6,454 1189.8,492.1 1192,478 1194.6,494 1196.8,490.5 1199.8,489.4 1202,466 1205.8,462.1 1208,447 1210.8,494 1213,478 1212.8,494 1215,492.8 1217.8,487.7 1220,470 1224.3,480 1226.5,465.3 1229.8,494 1232,480 1235.8,494 1238,490.5 1240.3,488.8 1242.5,460.8 1244.8,494 1247,478 1249.5,494 1251.7,492.8 1253.8,494 1256,486 1258.8,494 1261,478 1263.8,494 1266,488 1267.8,494 1270,474.5 1272.8,494 1275,487 1276.8,475 1279,458.5 1281.5,494 1283.7,491.7 1532,492.8 1535,488 1538,474.5 1541,480 1544.8,463 1547,478 1549.4,486 1554,478 1557,468 1560.8,472.2 1564,488 1567.7,494 1572,490 1576.8,491.7 1588,492 1599.7,492.8 1603,485 1606.6,479 1610,492 1612,498 1615.7,505.4 1618,498 1622.6,495 1626,489 1630,492 1633,488 1636.3,492.8" fill="none" stroke="#000" stroke-width="3.5" stroke-linejoin="round"/>
<text x="1144" y="433" font-size="42" fill="#222" font-family="'Liberation Sans', Arial, Helvetica, sans-serif" text-anchor="start" font-weight="normal">Face</text>
<text x="1143" y="527" font-size="42" fill="#222" font-family="'Liberation Sans', Arial, Helvetica, sans-serif" text-anchor="start" font-weight="normal">Speed</text>
<line x1="1642.5" y1="160" x2="1642.5" y2="202.5" stroke="#111" stroke-width="2.2"/>
<text x="1645" y="178.5" font-size="33.2" fill="#111" font-family="'Liberation Sans', Arial, Helvetica, sans-serif" text-anchor="start" font-weight="normal">250</text>
<text x="1645" y="203" font-size="33.2" fill="#111" font-family="'Liberation Sans', Arial, Helvetica, sans-serif" text-anchor="start" font-weight="normal">%</text>
<line x1="1642.5" y1="223" x2="1642.5" y2="263" stroke="#111" stroke-width="2.2"/>
<text x="1645" y="239" font-size="33.2" fill="#111" font-family="'Liberation Sans', Arial, Helvetica, sans-serif" text-anchor="start" font-weight="normal">100</text>
<text x="1645" y="264" font-size="33.2" fill="#111" font-family="'Liberation Sans', Arial, Helvetica, sans-serif" text-anchor="start" font-weight="normal">%</text>
<line x1="1642.5" y1="297" x2="1642.5" y2="348.6" stroke="#111" stroke-width="2.2"/>
<text x="1645" y="319" font-size="33.2" fill="#111" font-family="'Liberation Sans', Arial, Helvetica, sans-serif" text-anchor="start" font-weight="normal">250</text>
<text x="1645" y="345" font-size="33.2" fill="#111" font-family="'Liberation Sans', Arial, Helvetica, sans-serif" text-anchor="start" font-weight="normal">%</text>
<line x1="1642.5" y1="371.5" x2="1642.5" y2="443.6" stroke="#111" stroke-width="2.2"/>
<text x="1645" y="400" font-size="33.2" fill="#111" font-family="'Liberation Sans', Arial, Helvetica, sans-serif" text-anchor="start" font-weight="normal">5</text>
<text x="1645" y="419.6" font-size="33.2" fill="#111" font-family="'Liberation Sans', Arial, Helvetica, sans-serif" text-anchor="start" font-weight="normal">au</text>
<line x1="1642.5" y1="459.6" x2="1642.5" y2="507.7" stroke="#111" stroke-width="2.2"/>
<text x="1645" y="483.7" font-size="33.2" fill="#111" font-family="'Liberation Sans', Arial, Helvetica, sans-serif" text-anchor="start" font-weight="normal">25</text>
<text x="1645" y="502" font-size="33.2" fill="#111" font-family="'Liberation Sans', Arial, Helvetica, sans-serif" text-anchor="start" font-weight="normal">cm/s</text>
<line x1="1507" y1="574" x2="1662.6" y2="574" stroke="#111" stroke-width="2.8"/>
<text x="1553" y="566" font-size="42" fill="#222" font-family="'Liberation Sans', Arial, Helvetica, sans-serif" text-anchor="start" font-weight="normal">10s</text>
<text x="2" y="651" font-size="68" fill="#222" font-family="'Liberation Sans', Arial, Helvetica, sans-serif" text-anchor="start" font-weight="bold">c</text>
<polygon points="143.2,725.7 201.7,725.7 201.7,749.6 289.4,749.6 289.4,773.4 318.6,773.4 318.6,797.2 377.1,797.2 377.1,821.1 201.7,821.1 201.7,844.9 201.7,844.9 201.7,868.8 143.2,868.8" fill="#7a7b7c"/>
<line x1="143.2" y1="892.6" x2="388" y2="892.6" stroke="#000" stroke-width="2.7" stroke-dasharray="10,4.5"/>
<line x1="143.2" y1="654.2" x2="143.2" y2="1132" stroke="#000" stroke-width="2"/>
<line x1="142.2" y1="1131" x2="390.8" y2="1131" stroke="#000" stroke-width="2"/>
<line x1="134.7" y1="654.2" x2="143.2" y2="654.2" stroke="#000" stroke-width="2"/>
<text x="126.2" y="669.3" font-size="41.5" fill="#000" font-family="'DejaVu Sans', 'Liberation Sans', sans-serif" text-anchor="end" font-weight="normal">1</text>
<line x1="134.7" y1="892.6" x2="143.2" y2="892.6" stroke="#000" stroke-width="2"/>
<text x="126.2" y="907.7" font-size="41.5" fill="#000" font-family="'DejaVu Sans', 'Liberation Sans', sans-serif" text-anchor="end" font-weight="normal">0</text>
<line x1="134.7" y1="1131" x2="143.2" y2="1131" stroke="#000" stroke-width="2"/>
<text x="126.2" y="1146.1" font-size="41.5" fill="#000" font-family="'DejaVu Sans', 'Liberation Sans', sans-serif" text-anchor="end" font-weight="normal">−1</text>
<line x1="143.2" y1="1131" x2="143.2" y2="1139.5" stroke="#000" stroke-width="2"/>
<text x="143.2" y="1180.5" font-size="41.5" fill="#000" font-family="'DejaVu Sans', 'Liberation Sans', sans-serif" text-anchor="middle" font-weight="normal">0</text>
<line x1="289.4" y1="1131" x2="289.4" y2="1139.5" stroke="#000" stroke-width="2"/>
<text x="289.4" y="1180.5" font-size="41.5" fill="#000" font-family="'DejaVu Sans', 'Liberation Sans', sans-serif" text-anchor="middle" font-weight="normal">5</text>
<text x="0" y="0" font-size="44" fill="#000" font-family="'DejaVu Sans', 'Liberation Sans', sans-serif" text-anchor="middle" font-weight="normal" transform="translate(33.5,892.6) rotate(-90)">Calcium vs. Face</text>
<text x="0" y="0" font-size="44" fill="#000" font-family="'DejaVu Sans', 'Liberation Sans', sans-serif" text-anchor="middle" font-weight="normal" transform="translate(83.6,892.6) rotate(-90)">Correlation (r)</text>
<text x="267" y="1232" font-size="44" fill="#000" font-family="'DejaVu Sans', 'Liberation Sans', sans-serif" text-anchor="middle" font-weight="normal"># of Cells</text>
<text x="487" y="651.5" font-size="68" fill="#222" font-family="'Liberation Sans', Arial, Helvetica, sans-serif" text-anchor="start" font-weight="bold">d</text>
<polygon points="646,989.8 660.2,993.8 674.3,999 688.5,993.8 702.7,1008.3 716.9,1016.2 731,1022.7 745.2,1028 759.4,1031.9 773.5,1043.8 787.7,1053 801.9,1059.6 816,1066.2 830.2,1055.6 844.4,1063.5 858.5,1039.8 872.7,1022.7 886.9,1024 901.1,1039.8 915.2,1038.5 929.4,1053 943.6,1037.2 957.7,1038.5 971.9,1045.1 986.1,1041.2 1000.2,1033.3 1014.4,1016.2 1028.6,1014.8 1042.8,1008.3 1056.9,993.8 1071.1,975.4 1071.1,989.4 1056.9,1007.8 1042.8,1022.3 1028.6,1028.8 1014.4,1030.2 1000.2,1047.3 986.1,1055.2 971.9,1059.1 957.7,1052.5 943.6,1051.2 929.4,1067 915.2,1052.5 901.1,1053.8 886.9,1038 872.7,1036.7 858.5,1053.8 844.4,1077.5 830.2,1069.6 816,1080.2 801.9,1073.6 787.7,1067 773.5,1057.8 759.4,1045.9 745.2,1042 731,1036.7 716.9,1030.2 702.7,1022.3 688.5,1007.8 674.3,1013 660.2,1007.8 646,1003.8" fill="#888888" fill-opacity="0.3" stroke="#888888" stroke-opacity="0.3" stroke-width="1.2"/>
<polygon points="646,1004 660.2,1001.3 674.3,1013.2 688.5,1005.3 702.7,1026.6 716.9,1018.7 731,1024.3 745.2,1032.2 759.4,1019 773.5,1028.3 787.7,1030.9 801.9,1044 816,1044 830.2,1052.3 844.4,1079.2 858.5,1059.5 872.7,1056.8 886.9,1034.5 901.1,1037.1 915.2,1034.5 929.4,1029.2 943.6,1036.1 957.7,1009.7 971.9,1005.9 986.1,1007.7 1000.2,985.3 1014.4,974.1 1028.6,966.8 1042.8,999.7 1056.9,990.8 1071.1,998.7 1071.1,1060.7 1056.9,1052.8 1042.8,1059.7 1028.6,1026.8 1014.4,1030.1 1000.2,1037.3 986.1,1051.7 971.9,1049.9 957.7,1049.7 943.6,1068.1 929.4,1059.2 915.2,1064.5 901.1,1067.1 886.9,1064.5 872.7,1086.8 858.5,1089.5 844.4,1109.2 830.2,1078.3 816,1068 801.9,1068 787.7,1054.9 773.5,1052.3 759.4,1043 745.2,1056.2 731,1048.3 716.9,1040.7 702.7,1048.6 688.5,1025.3 674.3,1033.2 660.2,1021.3 646,1024" fill="#c75b5c" fill-opacity="0.3" stroke="#c75b5c" stroke-opacity="0.3" stroke-width="1.2"/>
<polygon points="646,1003.7 660.2,994.5 674.3,1020.8 688.5,1012.9 702.7,1030 716.9,1020.8 731,1027.4 745.2,1031.3 759.4,1035.3 773.5,1043.2 787.7,1053.7 801.9,1047.1 816,1053.7 830.2,1060.3 844.4,1047.7 858.5,1018.4 872.7,873 886.9,798.6 901.1,752 915.2,772.8 929.4,769 943.6,786.8 957.7,788.5 971.9,774 986.1,762 1000.2,734.7 1014.4,738.4 1028.6,696.6 1042.8,679.8 1056.9,679.1 1071.1,659.2 1071.1,729.2 1056.9,749.1 1042.8,749.8 1028.6,760.6 1014.4,803.6 1000.2,797.9 986.1,820 971.9,834 957.7,848.5 943.6,848.8 929.4,831 915.2,838 901.1,815 886.9,846.6 872.7,913 858.5,1038.4 844.4,1061.7 830.2,1070.3 816,1063.7 801.9,1057.1 787.7,1063.7 773.5,1053.2 759.4,1045.3 745.2,1041.3 731,1037.4 716.9,1030.8 702.7,1040 688.5,1022.9 674.3,1030.8 660.2,1004.5 646,1013.7" fill="#16807b" fill-opacity="0.3" stroke="#16807b" stroke-opacity="0.3" stroke-width="1.2"/>
<polyline points="646,996.8 660.2,1000.8 674.3,1006 688.5,1000.8 702.7,1015.3 716.9,1023.2 731,1029.7 745.2,1035 759.4,1038.9 773.5,1050.8 787.7,1060 801.9,1066.6 816,1073.2 830.2,1062.6 844.4,1070.5 858.5,1046.8 872.7,1029.7 886.9,1031 901.1,1046.8 915.2,1045.5 929.4,1060 943.6,1044.2 957.7,1045.5 971.9,1052.1 986.1,1048.2 1000.2,1040.3 1014.4,1023.2 1028.6,1021.8 1042.8,1015.3 1056.9,1000.8 1071.1,982.4" fill="none" stroke="#7f7f7f" stroke-width="3.9" stroke-linejoin="round"/>
<polyline points="646,1014 660.2,1011.3 674.3,1023.2 688.5,1015.3 702.7,1037.6 716.9,1029.7 731,1036.3 745.2,1044.2 759.4,1031 773.5,1040.3 787.7,1042.9 801.9,1056 816,1056 830.2,1065.3 844.4,1094.2 858.5,1074.5 872.7,1071.8 886.9,1049.5 901.1,1052.1 915.2,1049.5 929.4,1044.2 943.6,1052.1 957.7,1029.7 971.9,1027.9 986.1,1029.7 1000.2,1011.3 1014.4,1002.1 1028.6,996.8 1042.8,1029.7 1056.9,1021.8 1071.1,1029.7" fill="none" stroke="#c75b5c" stroke-width="3.9" stroke-linejoin="round"/>
<polyline points="646,1008.7 660.2,999.5 674.3,1025.8 688.5,1017.9 702.7,1035 716.9,1025.8 731,1032.4 745.2,1036.3 759.4,1040.3 773.5,1048.2 787.7,1058.7 801.9,1052.1 816,1058.7 830.2,1065.3 844.4,1054.7 858.5,1028.4 872.7,893 886.9,822.6 901.1,783.5 915.2,805.4 929.4,800 943.6,817.8 957.7,818.5 971.9,804 986.1,791 1000.2,766.3 1014.4,771 1028.6,728.6 1042.8,714.8 1056.9,714.1 1071.1,694.2" fill="none" stroke="#16807b" stroke-width="3.9" stroke-linejoin="round"/>
<line x1="626.7" y1="636.6" x2="626.7" y2="1130" stroke="#000" stroke-width="2"/>
<line x1="625.7" y1="1129" x2="1091.7" y2="1129" stroke="#000" stroke-width="2"/>
<line x1="618.2" y1="757.4" x2="626.7" y2="757.4" stroke="#000" stroke-width="2"/>
<text x="609.7" y="772.5" font-size="41.5" fill="#000" font-family="'DejaVu Sans', 'Liberation Sans', sans-serif" text-anchor="end" font-weight="normal">1.0</text>
<line x1="618.2" y1="896.9" x2="626.7" y2="896.9" stroke="#000" stroke-width="2"/>
<text x="609.7" y="912" font-size="41.5" fill="#000" font-family="'DejaVu Sans', 'Liberation Sans', sans-serif" text-anchor="end" font-weight="normal">0.5</text>
<line x1="618.2" y1="1036.4" x2="626.7" y2="1036.4" stroke="#000" stroke-width="2"/>
<text x="609.7" y="1051.5" font-size="41.5" fill="#000" font-family="'DejaVu Sans', 'Liberation Sans', sans-serif" text-anchor="end" font-weight="normal">0.0</text>
<line x1="641.1" y1="1129" x2="641.1" y2="1137.5" stroke="#000" stroke-width="2"/>
<text x="641.1" y="1178.5" font-size="41.5" fill="#000" font-family="'DejaVu Sans', 'Liberation Sans', sans-serif" text-anchor="middle" font-weight="normal">−1</text>
<line x1="858.8" y1="1129" x2="858.8" y2="1137.5" stroke="#000" stroke-width="2"/>
<text x="858.8" y="1178.5" font-size="41.5" fill="#000" font-family="'DejaVu Sans', 'Liberation Sans', sans-serif" text-anchor="middle" font-weight="normal">0</text>
<line x1="1076.5" y1="1129" x2="1076.5" y2="1137.5" stroke="#000" stroke-width="2"/>
<text x="1076.5" y="1178.5" font-size="41.5" fill="#000" font-family="'DejaVu Sans', 'Liberation Sans', sans-serif" text-anchor="middle" font-weight="normal">1</text>
<text x="0" y="0" font-size="44" fill="#000" font-family="'DejaVu Sans', 'Liberation Sans', sans-serif" text-anchor="middle" font-weight="normal" transform="translate(522.8,883) rotate(-90)">Calcium (z-score)</text>
<text x="858.8" y="1231.6" font-size="44" fill="#000" font-family="'DejaVu Sans', 'Liberation Sans', sans-serif" text-anchor="middle" font-weight="normal">Time (s)</text>
<text x="661" y="697" font-size="42.5" fill="#858585" font-family="'Liberation Sans', Arial, Helvetica, sans-serif" text-anchor="start" font-weight="normal">SPW-R</text>
<text x="661" y="740" font-size="42.5" fill="#c75b5c" font-family="'Liberation Sans', Arial, Helvetica, sans-serif" text-anchor="start" font-weight="normal">DS1</text>
<text x="661" y="783" font-size="42.5" fill="#16807b" font-family="'Liberation Sans', Arial, Helvetica, sans-serif" text-anchor="start" font-weight="normal">DS2</text>
<polyline points="764.7,720.8 772,720.8 772,771.3 764.7,771.3" fill="none" stroke="#111" stroke-width="2.2" stroke-linejoin="round"/>
<polyline points="827,686.8 833.6,686.8 833.6,775 827,775" fill="none" stroke="#111" stroke-width="2.2" stroke-linejoin="round"/>
<text x="0" y="0" font-size="36.5" fill="#111" font-family="'Liberation Sans', Arial, Helvetica, sans-serif" text-anchor="middle" font-weight="normal" transform="translate(810,782) rotate(-90)"><tspan font-style="italic">P</tspan>&lt;0.0001</text>
<text x="0" y="0" font-size="36.5" fill="#111" font-family="'Liberation Sans', Arial, Helvetica, sans-serif" text-anchor="middle" font-weight="normal" transform="translate(865.5,724.5) rotate(-90)"><tspan font-style="italic">P</tspan>&lt;0.0001</text>
<text x="1119.5" y="663.8" font-size="70" fill="#222" font-family="'Liberation Sans', Arial, Helvetica, sans-serif" text-anchor="start" font-weight="bold">e</text>
<polygon points="1238.8,1051 1249.2,1069.6 1259.6,1062 1270,1069.6 1280.4,1052.2 1290.7,1062 1301.1,1069.6 1311.5,1075 1321.9,1081 1332.3,1078.3 1342.6,1076.1 1353,1073.9 1363.4,1065.2 1373.8,1075.2 1384.2,1089.5 1394.5,1096.7 1404.9,1055.8 1415.3,988 1425.7,930.5 1436.1,912.5 1446.4,898.8 1456.8,910.8 1467.2,904.1 1477.6,914.4 1488,909.2 1498.3,909.2 1508.7,925.5 1519.1,891.9 1529.5,879.8 1539.9,849.3 1550.2,850.1 1550.2,878.1 1539.9,877.3 1529.5,901.8 1519.1,913.9 1508.7,947.5 1498.3,929.2 1488,929.2 1477.6,934.4 1467.2,924.1 1456.8,932.8 1446.4,920.8 1436.1,934.5 1425.7,954.5 1415.3,1012 1404.9,1073.8 1394.5,1118.7 1384.2,1107.5 1373.8,1089.2 1363.4,1075.2 1353,1083.9 1342.6,1086.1 1332.3,1088.3 1321.9,1091 1311.5,1085 1301.1,1079.6 1290.7,1072 1280.4,1062.2 1270,1079.6 1259.6,1072 1249.2,1079.6 1238.8,1061" fill="#ef8535" fill-opacity="0.3" stroke="#ef8535" stroke-opacity="0.3" stroke-width="1.2"/>
<polygon points="1238.8,1073.4 1249.2,1054.4 1259.6,1058.7 1270,1056 1280.4,1060.4 1290.7,1049.5 1301.1,1068 1311.5,1086.5 1321.9,1076.7 1332.3,1066.9 1342.6,1071.8 1353,1066.9 1363.4,1078.9 1373.8,1072.3 1384.2,1083.2 1394.5,1075.6 1404.9,1049.5 1415.3,960 1425.7,882.2 1436.1,878 1446.4,856.4 1456.8,850 1467.2,833.1 1477.6,837.4 1488,847.7 1498.3,836.6 1508.7,820.2 1519.1,758.2 1529.5,741 1539.9,684.1 1550.2,676.4 1550.2,753 1539.9,766.8 1529.5,819.3 1519.1,821.9 1508.7,880 1498.3,901 1488,902.9 1477.6,900.3 1467.2,901 1456.8,935.6 1446.4,933 1436.1,935 1425.7,937.3 1415.3,1010 1404.9,1060.5 1394.5,1086.6 1384.2,1094.2 1373.8,1083.3 1363.4,1089.9 1353,1077.9 1342.6,1082.8 1332.3,1077.9 1321.9,1087.7 1311.5,1097.5 1301.1,1079 1290.7,1060.5 1280.4,1071.4 1270,1067 1259.6,1069.7 1249.2,1065.4 1238.8,1084.4" fill="#27984b" fill-opacity="0.3" stroke="#27984b" stroke-opacity="0.3" stroke-width="1.2"/>
<polyline points="1238.8,1056 1249.2,1074.6 1259.6,1067 1270,1074.6 1280.4,1057.2 1290.7,1067 1301.1,1074.6 1311.5,1080 1321.9,1086 1332.3,1083.3 1342.6,1081.1 1353,1078.9 1363.4,1070.2 1373.8,1082.2 1384.2,1098.5 1394.5,1107.7 1404.9,1064.8 1415.3,1000 1425.7,942.5 1436.1,923.5 1446.4,909.8 1456.8,921.8 1467.2,914.1 1477.6,924.4 1488,919.2 1498.3,919.2 1508.7,936.5 1519.1,902.9 1529.5,890.8 1539.9,863.3 1550.2,864.1" fill="none" stroke="#ef8535" stroke-width="3.9" stroke-linejoin="round"/>
<polyline points="1238.8,1078.9 1249.2,1059.9 1259.6,1064.2 1270,1061.5 1280.4,1065.9 1290.7,1055 1301.1,1073.5 1311.5,1092 1321.9,1082.2 1332.3,1072.4 1342.6,1077.3 1353,1072.4 1363.4,1084.4 1373.8,1077.8 1384.2,1088.7 1394.5,1081.1 1404.9,1055 1415.3,990 1425.7,912.3 1436.1,904.6 1446.4,896 1456.8,890 1467.2,865.8 1477.6,866.7 1488,876.2 1498.3,870.1 1508.7,849.5 1519.1,790.9 1529.5,778.9 1539.9,728 1550.2,714.3" fill="none" stroke="#27984b" stroke-width="3.9" stroke-linejoin="round"/>
<line x1="1225.7" y1="654.8" x2="1225.7" y2="1144.1" stroke="#000" stroke-width="2"/>
<line x1="1224.7" y1="1143.1" x2="1566.2" y2="1143.1" stroke="#000" stroke-width="2"/>
<line x1="1217.2" y1="724.1" x2="1225.7" y2="724.1" stroke="#000" stroke-width="2"/>
<text x="1208.7" y="739.2" font-size="41.5" fill="#000" font-family="'DejaVu Sans', 'Liberation Sans', sans-serif" text-anchor="end" font-weight="normal">3</text>
<line x1="1217.2" y1="840.3" x2="1225.7" y2="840.3" stroke="#000" stroke-width="2"/>
<text x="1208.7" y="855.4" font-size="41.5" fill="#000" font-family="'DejaVu Sans', 'Liberation Sans', sans-serif" text-anchor="end" font-weight="normal">2</text>
<line x1="1217.2" y1="956.5" x2="1225.7" y2="956.5" stroke="#000" stroke-width="2"/>
<text x="1208.7" y="971.6" font-size="41.5" fill="#000" font-family="'DejaVu Sans', 'Liberation Sans', sans-serif" text-anchor="end" font-weight="normal">1</text>
<line x1="1217.2" y1="1072.7" x2="1225.7" y2="1072.7" stroke="#000" stroke-width="2"/>
<text x="1208.7" y="1087.8" font-size="41.5" fill="#000" font-family="'DejaVu Sans', 'Liberation Sans', sans-serif" text-anchor="end" font-weight="normal">0</text>
<line x1="1235" y1="1143.1" x2="1235" y2="1151.6" stroke="#000" stroke-width="2"/>
<text x="1235" y="1192.6" font-size="41.5" fill="#000" font-family="'DejaVu Sans', 'Liberation Sans', sans-serif" text-anchor="middle" font-weight="normal">−1</text>
<line x1="1394.7" y1="1143.1" x2="1394.7" y2="1151.6" stroke="#000" stroke-width="2"/>
<text x="1394.7" y="1192.6" font-size="41.5" fill="#000" font-family="'DejaVu Sans', 'Liberation Sans', sans-serif" text-anchor="middle" font-weight="normal">0</text>
<line x1="1554.4" y1="1143.1" x2="1554.4" y2="1151.6" stroke="#000" stroke-width="2"/>
<text x="1554.4" y="1192.6" font-size="41.5" fill="#000" font-family="'DejaVu Sans', 'Liberation Sans', sans-serif" text-anchor="middle" font-weight="normal">1</text>
<text x="0" y="0" font-size="44" fill="#000" font-family="'DejaVu Sans', 'Liberation Sans', sans-serif" text-anchor="middle" font-weight="normal" transform="translate(1160.8,899) rotate(-90)">Calcium (z-score)</text>
<text x="1394.7" y="1240.6" font-size="44" fill="#000" font-family="'DejaVu Sans', 'Liberation Sans', sans-serif" text-anchor="middle" font-weight="normal">Time (s)</text>
<text x="1238" y="707.7" font-size="43" fill="#27984b" font-family="'Liberation Sans', Arial, Helvetica, sans-serif" text-anchor="start" font-weight="normal">Puff</text>
<text x="1238" y="777" font-size="43" fill="#ef8535" font-family="'Liberation Sans', Arial, Helvetica, sans-serif" text-anchor="start" font-weight="normal">Tone</text>
<polyline points="1440.3,690.5 1444,690.5 1444,774.5 1440.3,774.5" fill="none" stroke="#111" stroke-width="2.2" stroke-linejoin="round"/>
<text x="0" y="0" font-size="38.5" fill="#111" font-family="'Liberation Sans', Arial, Helvetica, sans-serif" text-anchor="middle" font-weight="normal" transform="translate(1483.5,730.4) rotate(-90)"><tspan font-style="italic">P</tspan>=0.02</text>
<path d="M1338,756.2 L1356.8,756.2 L1385.1,740.4 L1385.1,805.3 L1356.8,789.5 L1338,789.5 Z" fill="#ef8535"/>
<g fill="none" stroke="#ef8535" stroke-width="3.8" stroke-linecap="butt"><path d="M1393.6,765.8 A7.6,7.6 0 0 1 1393.6,780"/><path d="M1399.7,757 A22.1,22.1 0 0 1 1399.7,787.9"/><path d="M1409.9,750.6 A34.4,34.4 0 0 1 1408.7,795.2"/></g>
<g fill="none" stroke="#27984b" stroke-width="3.4" stroke-linecap="round" stroke-linejoin="round"><path d="M1369.7,676 C1362,683 1352,688 1339,690 L1339,694 C1352,696 1360,699 1368.1,702.7"/><path d="M1339,692 C1355,692 1370,693 1381.1,696.6"/><path d="M1362.4,667.4 C1370,662 1381,661 1379,670 C1378,676 1376,679 1373.8,680.8"/><path d="M1377,659 C1380,655 1388,655 1392,659 C1396,664 1394,670 1390.8,674.3"/><path d="M1394,676.8 C1399,678 1399,686 1394,687.3"/><path d="M1373.8,680.8 C1378,677 1386,676 1388.5,681 C1390,685 1388,688 1385.1,688.9 C1390,690 1393,694 1392.4,698.7 C1392,702 1389,704 1387,706 C1386,710 1387,714 1385.5,717 C1383,722 1376,724 1370.6,721.4 C1369,720 1368,718 1368.1,717.3"/><path d="M1396.5,695.4 C1401,700 1403,706 1401.5,710 C1400,714 1396,715 1392.4,714.9"/><path d="M1376.2,697.8 C1377,702 1377,706 1375.4,708.4 C1373,710 1370,709 1368.9,707.6"/></g>
<text x="1613" y="753" font-size="44" fill="#1a1a1a" font-family="'Liberation Sans', Arial, Helvetica, sans-serif" text-anchor="start" font-weight="normal">% DS2</text>
<path d="M1670,835.5 L1704.7,891.7 A66,66 0 1 1 1736,835.5 Z" fill="#22a050"/>
<text x="1671" y="829.3" font-size="43" fill="#1a1a1a" font-family="'Liberation Sans', Arial, Helvetica, sans-serif" text-anchor="middle" font-weight="normal">83.8</text>
<path d="M1670,1013.6 L1650.8,1076.7 A66,66 0 1 1 1736,1013.6 Z" fill="#ef8535"/>
<text x="1671" y="1007.4" font-size="43" fill="#1a1a1a" font-family="'Liberation Sans', Arial, Helvetica, sans-serif" text-anchor="middle" font-weight="normal">70.3</text>
<text x="47" y="1347" font-size="68" fill="#222" font-family="'Liberation Sans', Arial, Helvetica, sans-serif" text-anchor="start" font-weight="bold">f</text>
<polygon points="284.5,1807.7 389.5,1807.7 395.9,1790.9 386.4,1768.7 373.7,1753.2 351.6,1739.9 319.9,1733.2 297.8,1728.8 284.5,1733.2" fill="#4f5458"/>
<g fill="#50555a" fill-opacity="0.45">
<circle cx="303.8" cy="1759.6" r="4.3"/>
<circle cx="313" cy="1790.9" r="4.3"/>
<circle cx="290.7" cy="1772.8" r="4.3"/>
<circle cx="300.9" cy="1746.9" r="4.3"/>
<circle cx="307.6" cy="1745.2" r="4.3"/>
<circle cx="322.5" cy="1783" r="4.3"/>
<circle cx="382.7" cy="1775.9" r="4.3"/>
<circle cx="293.8" cy="1798.8" r="4.3"/>
<circle cx="334" cy="1780.9" r="4.3"/>
<circle cx="303.4" cy="1770.3" r="4.3"/>
<circle cx="298.4" cy="1795.8" r="4.3"/>
<circle cx="324.6" cy="1731.1" r="4.3"/>
<circle cx="306.1" cy="1792.6" r="4.3"/>
<circle cx="336.9" cy="1784.3" r="4.3"/>
<circle cx="325" cy="1771.1" r="4.3"/>
<circle cx="311.4" cy="1794.8" r="4.3"/>
<circle cx="367.7" cy="1784.5" r="4.3"/>
<circle cx="289.6" cy="1769.7" r="4.3"/>
<circle cx="303.4" cy="1796.4" r="4.3"/>
<circle cx="315.4" cy="1778.5" r="4.3"/>
<circle cx="305.2" cy="1773.4" r="4.3"/>
<circle cx="358.7" cy="1740.8" r="4.3"/>
<circle cx="288.5" cy="1802.9" r="4.3"/>
<circle cx="413.4" cy="1766.6" r="4.3"/>
<circle cx="412.9" cy="1774.3" r="4.3"/>
<circle cx="293.2" cy="1784.6" r="4.3"/>
<circle cx="303.3" cy="1785" r="4.3"/>
<circle cx="322.8" cy="1789.4" r="4.3"/>
<circle cx="314.2" cy="1793.8" r="4.3"/>
<circle cx="307.5" cy="1791.7" r="4.3"/>
<circle cx="293.3" cy="1794.7" r="4.3"/>
<circle cx="301.8" cy="1793.4" r="4.3"/>
<circle cx="316.9" cy="1794.1" r="4.3"/>
<circle cx="313.1" cy="1758.8" r="4.3"/>
<circle cx="311.6" cy="1792.1" r="4.3"/>
<circle cx="313" cy="1789.8" r="4.3"/>
<circle cx="314.5" cy="1775.7" r="4.3"/>
<circle cx="317.9" cy="1782.9" r="4.3"/>
<circle cx="310.1" cy="1789.9" r="4.3"/>
<circle cx="315.5" cy="1775.1" r="4.3"/>
<circle cx="297.6" cy="1779.7" r="4.3"/>
<circle cx="292.6" cy="1783.2" r="4.3"/>
<circle cx="297.7" cy="1798.7" r="4.3"/>
<circle cx="328.8" cy="1787" r="4.3"/>
<circle cx="328.7" cy="1779.8" r="4.3"/>
<circle cx="321.2" cy="1789.6" r="4.3"/>
<circle cx="301.9" cy="1768.2" r="4.3"/>
<circle cx="306.2" cy="1797.1" r="4.3"/>
<circle cx="293.4" cy="1793.4" r="4.3"/>
<circle cx="415.2" cy="1763.8" r="4.3"/>
<circle cx="384.8" cy="1756.4" r="4.3"/>
<circle cx="338.1" cy="1788.4" r="4.3"/>
<circle cx="295.2" cy="1792.8" r="4.3"/>
<circle cx="348" cy="1762.2" r="4.3"/>
<circle cx="318.2" cy="1781.9" r="4.3"/>
<circle cx="288.9" cy="1774.4" r="4.3"/>
<circle cx="353.2" cy="1774.3" r="4.3"/>
<circle cx="293.5" cy="1797.3" r="4.3"/>
<circle cx="305.7" cy="1748.2" r="4.3"/>
<circle cx="302.5" cy="1752.3" r="4.3"/>
<circle cx="311.9" cy="1793.2" r="4.3"/>
<circle cx="402.8" cy="1724.3" r="4.3"/>
<circle cx="290.6" cy="1791.5" r="4.3"/>
<circle cx="371.3" cy="1709.1" r="4.3"/>
<circle cx="301" cy="1783.7" r="4.3"/>
<circle cx="290.5" cy="1791.7" r="4.3"/>
<circle cx="334.8" cy="1789.9" r="4.3"/>
<circle cx="350.3" cy="1764.1" r="4.3"/>
<circle cx="310.5" cy="1790.2" r="4.3"/>
<circle cx="288.6" cy="1781.9" r="4.3"/>
<circle cx="353.4" cy="1777" r="4.3"/>
<circle cx="338.3" cy="1782.2" r="4.3"/>
<circle cx="348.4" cy="1780.2" r="4.3"/>
<circle cx="311.6" cy="1794.2" r="4.3"/>
<circle cx="305.3" cy="1784.3" r="4.3"/>
<circle cx="336.8" cy="1777.1" r="4.3"/>
<circle cx="316.9" cy="1794.5" r="4.3"/>
<circle cx="333.6" cy="1736.8" r="4.3"/>
<circle cx="339.7" cy="1784.4" r="4.3"/>
<circle cx="312.5" cy="1791.8" r="4.3"/>
<circle cx="318.7" cy="1754.2" r="4.3"/>
<circle cx="295.2" cy="1796.1" r="4.3"/>
<circle cx="320.8" cy="1788.2" r="4.3"/>
<circle cx="315.6" cy="1765.8" r="4.3"/>
<circle cx="328.8" cy="1756.8" r="4.3"/>
<circle cx="317" cy="1789.1" r="4.3"/>
<circle cx="359.6" cy="1760.4" r="4.3"/>
<circle cx="293.7" cy="1793.1" r="4.3"/>
<circle cx="322.9" cy="1788.4" r="4.3"/>
<circle cx="312" cy="1783.5" r="4.3"/>
<circle cx="312.9" cy="1773.7" r="4.3"/>
<circle cx="397.6" cy="1768.3" r="4.3"/>
<circle cx="395.5" cy="1765.8" r="4.3"/>
<circle cx="323.5" cy="1788.6" r="4.3"/>
<circle cx="314" cy="1786.5" r="4.3"/>
<circle cx="311.8" cy="1781.1" r="4.3"/>
<circle cx="311.1" cy="1797.8" r="4.3"/>
<circle cx="296.6" cy="1799.9" r="4.3"/>
<circle cx="300.5" cy="1756.3" r="4.3"/>
<circle cx="355.9" cy="1780.7" r="4.3"/>
<circle cx="290.2" cy="1772.9" r="4.3"/>
<circle cx="336.4" cy="1789" r="4.3"/>
<circle cx="325.3" cy="1760.1" r="4.3"/>
<circle cx="298.2" cy="1744" r="4.3"/>
<circle cx="305.9" cy="1765.3" r="4.3"/>
<circle cx="294.9" cy="1797.9" r="4.3"/>
<circle cx="313.5" cy="1778.6" r="4.3"/>
<circle cx="393.2" cy="1777.7" r="4.3"/>
<circle cx="334" cy="1757.3" r="4.3"/>
<circle cx="351.5" cy="1781" r="4.3"/>
<circle cx="322.7" cy="1780.4" r="4.3"/>
<circle cx="303.5" cy="1782.9" r="4.3"/>
<circle cx="310.1" cy="1791.7" r="4.3"/>
<circle cx="307.6" cy="1763.7" r="4.3"/>
<circle cx="289.5" cy="1800.2" r="4.3"/>
<circle cx="318.2" cy="1762.7" r="4.3"/>
<circle cx="318.4" cy="1793.9" r="4.3"/>
<circle cx="342.9" cy="1767.5" r="4.3"/>
<circle cx="322" cy="1754.4" r="4.3"/>
<circle cx="345" cy="1783" r="4.3"/>
<circle cx="299.5" cy="1779.7" r="4.3"/>
<circle cx="299.1" cy="1782.8" r="4.3"/>
<circle cx="304.3" cy="1793.5" r="4.3"/>
<circle cx="322.3" cy="1778.7" r="4.3"/>
<circle cx="293.5" cy="1800.5" r="4.3"/>
<circle cx="325.2" cy="1750.6" r="4.3"/>
<circle cx="321.2" cy="1780.3" r="4.3"/>
<circle cx="332" cy="1753.2" r="4.3"/>
<circle cx="300.3" cy="1769.7" r="4.3"/>
<circle cx="288.8" cy="1778" r="4.3"/>
<circle cx="301.5" cy="1764.7" r="4.3"/>
<circle cx="342.2" cy="1742.4" r="4.3"/>
<circle cx="337.8" cy="1777.7" r="4.3"/>
<circle cx="335.7" cy="1787.9" r="4.3"/>
<circle cx="355.1" cy="1779.6" r="4.3"/>
<circle cx="342.4" cy="1773.2" r="4.3"/>
<circle cx="291.6" cy="1791.7" r="4.3"/>
<circle cx="339.6" cy="1791.3" r="4.3"/>
<circle cx="316.7" cy="1772.8" r="4.3"/>
<circle cx="318.4" cy="1785.1" r="4.3"/>
<circle cx="339.2" cy="1781.4" r="4.3"/>
<circle cx="304.6" cy="1744.2" r="4.3"/>
<circle cx="315.4" cy="1786.7" r="4.3"/>
<circle cx="311.7" cy="1776.7" r="4.3"/>
<circle cx="299.2" cy="1757.4" r="4.3"/>
<circle cx="323.8" cy="1780" r="4.3"/>
<circle cx="295.9" cy="1775.3" r="4.3"/>
<circle cx="297.8" cy="1779.1" r="4.3"/>
<circle cx="316" cy="1759.9" r="4.3"/>
<circle cx="303.8" cy="1777.9" r="4.3"/>
<circle cx="413.9" cy="1767.7" r="4.3"/>
<circle cx="312.5" cy="1778.7" r="4.3"/>
<circle cx="304.3" cy="1775.2" r="4.3"/>
<circle cx="318.3" cy="1775.6" r="4.3"/>
<circle cx="324" cy="1779.1" r="4.3"/>
<circle cx="299.3" cy="1777.4" r="4.3"/>
<circle cx="354.1" cy="1758.1" r="4.3"/>
<circle cx="291.4" cy="1777.7" r="4.3"/>
<circle cx="321.5" cy="1758" r="4.3"/>
<circle cx="336.8" cy="1775.7" r="4.3"/>
<circle cx="307.5" cy="1769.3" r="4.3"/>
<circle cx="394.9" cy="1767.7" r="4.3"/>
<circle cx="348.2" cy="1788.5" r="4.3"/>
<circle cx="463.4" cy="1724.5" r="4.3"/>
<circle cx="294.7" cy="1767.2" r="4.3"/>
<circle cx="291.9" cy="1792.7" r="4.3"/>
<circle cx="297.1" cy="1778.3" r="4.3"/>
<circle cx="302" cy="1795.7" r="4.3"/>
<circle cx="302.7" cy="1800.4" r="4.3"/>
<circle cx="297.7" cy="1789.5" r="4.3"/>
<circle cx="334.5" cy="1785.3" r="4.3"/>
<circle cx="299.8" cy="1782.7" r="4.3"/>
<circle cx="326.2" cy="1786.2" r="4.3"/>
<circle cx="341.9" cy="1790.5" r="4.3"/>
<circle cx="318.9" cy="1787.3" r="4.3"/>
<circle cx="330.3" cy="1765.7" r="4.3"/>
<circle cx="340.5" cy="1761.4" r="4.3"/>
<circle cx="333" cy="1764.2" r="4.3"/>
<circle cx="314.4" cy="1787.9" r="4.3"/>
<circle cx="298.6" cy="1779.7" r="4.3"/>
<circle cx="322" cy="1742.4" r="4.3"/>
<circle cx="307.5" cy="1760.6" r="4.3"/>
<circle cx="309.2" cy="1798.8" r="4.3"/>
<circle cx="315.4" cy="1765.3" r="4.3"/>
<circle cx="379.5" cy="1780.5" r="4.3"/>
<circle cx="290.6" cy="1779.9" r="4.3"/>
<circle cx="380.1" cy="1773.8" r="4.3"/>
<circle cx="296.8" cy="1791.3" r="4.3"/>
<circle cx="294.7" cy="1797.5" r="4.3"/>
<circle cx="339.3" cy="1777.8" r="4.3"/>
<circle cx="318.2" cy="1784.2" r="4.3"/>
<circle cx="294.8" cy="1780.2" r="4.3"/>
<circle cx="308.8" cy="1792.7" r="4.3"/>
<circle cx="338" cy="1788.7" r="4.3"/>
<circle cx="293.2" cy="1795.4" r="4.3"/>
<circle cx="297.2" cy="1802" r="4.3"/>
<circle cx="297.1" cy="1793.2" r="4.3"/>
<circle cx="289.9" cy="1795.1" r="4.3"/>
<circle cx="353.3" cy="1747.8" r="4.3"/>
<circle cx="363.2" cy="1783.9" r="4.3"/>
<circle cx="364.8" cy="1766.9" r="4.3"/>
<circle cx="317.4" cy="1763.4" r="4.3"/>
<circle cx="293.8" cy="1800" r="4.3"/>
<circle cx="333.7" cy="1782.7" r="4.3"/>
<circle cx="321.9" cy="1770.1" r="4.3"/>
<circle cx="344.8" cy="1761.3" r="4.3"/>
<circle cx="348.6" cy="1774.1" r="4.3"/>
<circle cx="307.5" cy="1784.5" r="4.3"/>
<circle cx="313.3" cy="1785.1" r="4.3"/>
<circle cx="294.6" cy="1746.8" r="4.3"/>
<circle cx="327.8" cy="1783.8" r="4.3"/>
<circle cx="308.4" cy="1756.5" r="4.3"/>
<circle cx="348.7" cy="1764.9" r="4.3"/>
<circle cx="326.8" cy="1764.5" r="4.3"/>
<circle cx="295.2" cy="1789.1" r="4.3"/>
<circle cx="326.4" cy="1729.9" r="4.3"/>
<circle cx="377.8" cy="1775.6" r="4.3"/>
<circle cx="345" cy="1777.3" r="4.3"/>
<circle cx="312.8" cy="1785.3" r="4.3"/>
<circle cx="362.8" cy="1782.4" r="4.3"/>
<circle cx="339.9" cy="1761.3" r="4.3"/>
<circle cx="314.5" cy="1782.3" r="4.3"/>
<circle cx="340.6" cy="1778.4" r="4.3"/>
<circle cx="289.3" cy="1796.1" r="4.3"/>
<circle cx="302.8" cy="1800.5" r="4.3"/>
<circle cx="298.6" cy="1765.2" r="4.3"/>
<circle cx="384.6" cy="1780.7" r="4.3"/>
<circle cx="326.6" cy="1758.6" r="4.3"/>
<circle cx="306.7" cy="1772.3" r="4.3"/>
<circle cx="328.1" cy="1781" r="4.3"/>
<circle cx="307.6" cy="1793.7" r="4.3"/>
<circle cx="295.5" cy="1762.7" r="4.3"/>
<circle cx="297.2" cy="1775.6" r="4.3"/>
<circle cx="336.9" cy="1746.5" r="4.3"/>
<circle cx="356.5" cy="1772.6" r="4.3"/>
<circle cx="325.4" cy="1767.8" r="4.3"/>
<circle cx="332.9" cy="1791.7" r="4.3"/>
<circle cx="305.4" cy="1797.9" r="4.3"/>
<circle cx="305.8" cy="1797.8" r="4.3"/>
<circle cx="293.6" cy="1782.7" r="4.3"/>
<circle cx="324.3" cy="1741" r="4.3"/>
<circle cx="306.5" cy="1796" r="4.3"/>
<circle cx="307.8" cy="1779.9" r="4.3"/>
<circle cx="302.4" cy="1784.4" r="4.3"/>
<circle cx="297.8" cy="1791.9" r="4.3"/>
<circle cx="307.5" cy="1749.4" r="4.3"/>
<circle cx="340.6" cy="1753.8" r="4.3"/>
<circle cx="307.2" cy="1794.6" r="4.3"/>
<circle cx="310.9" cy="1785.5" r="4.3"/>
<circle cx="375.6" cy="1724.9" r="4.3"/>
<circle cx="341.8" cy="1762.4" r="4.3"/>
<circle cx="309" cy="1793" r="4.3"/>
<circle cx="301.2" cy="1798" r="4.3"/>
<circle cx="294.9" cy="1739.9" r="4.3"/>
<circle cx="291.4" cy="1789.6" r="4.3"/>
<circle cx="383.6" cy="1767.4" r="4.3"/>
<circle cx="340.3" cy="1776.2" r="4.3"/>
<circle cx="355" cy="1768.2" r="4.3"/>
<circle cx="316" cy="1784.2" r="4.3"/>
<circle cx="302.5" cy="1796.9" r="4.3"/>
<circle cx="314.1" cy="1790.5" r="4.3"/>
<circle cx="292.3" cy="1794.7" r="4.3"/>
<circle cx="309.8" cy="1768.8" r="4.3"/>
<circle cx="296.7" cy="1741.2" r="4.3"/>
<circle cx="296.8" cy="1785.2" r="4.3"/>
<circle cx="293.7" cy="1763.1" r="4.3"/>
<circle cx="295.4" cy="1791.7" r="4.3"/>
<circle cx="312.8" cy="1781.4" r="4.3"/>
<circle cx="290" cy="1794.9" r="4.3"/>
<circle cx="313.5" cy="1790" r="4.3"/>
<circle cx="321.5" cy="1782.6" r="4.3"/>
<circle cx="334" cy="1753.8" r="4.3"/>
<circle cx="361.2" cy="1776.7" r="4.3"/>
<circle cx="323.4" cy="1790.1" r="4.3"/>
<circle cx="316.2" cy="1769.1" r="4.3"/>
<circle cx="292.9" cy="1785.5" r="4.3"/>
<circle cx="291.8" cy="1801.3" r="4.3"/>
<circle cx="320.5" cy="1774.9" r="4.3"/>
<circle cx="308.6" cy="1794.9" r="4.3"/>
<circle cx="318.9" cy="1776.7" r="4.3"/>
<circle cx="329.7" cy="1772.8" r="4.3"/>
<circle cx="293.8" cy="1791.8" r="4.3"/>
<circle cx="313.3" cy="1786" r="4.3"/>
<circle cx="293.5" cy="1789.7" r="4.3"/>
<circle cx="340.8" cy="1787.5" r="4.3"/>
<circle cx="293.1" cy="1789.6" r="4.3"/>
<circle cx="325.7" cy="1762.4" r="4.3"/>
<circle cx="309.6" cy="1775.1" r="4.3"/>
<circle cx="311.3" cy="1790.2" r="4.3"/>
<circle cx="351.9" cy="1776.4" r="4.3"/>
<circle cx="303.1" cy="1783.9" r="4.3"/>
<circle cx="304.4" cy="1781.3" r="4.3"/>
<circle cx="294.2" cy="1790.2" r="4.3"/>
<circle cx="323.1" cy="1728.3" r="4.3"/>
<circle cx="368.3" cy="1782.5" r="4.3"/>
<circle cx="296.8" cy="1800.9" r="4.3"/>
<circle cx="309.4" cy="1776.6" r="4.3"/>
<circle cx="294.1" cy="1781.5" r="4.3"/>
<circle cx="315.1" cy="1785.9" r="4.3"/>
<circle cx="363.9" cy="1781.4" r="4.3"/>
<circle cx="313.8" cy="1792.9" r="4.3"/>
<circle cx="306.6" cy="1787.6" r="4.3"/>
<circle cx="302.5" cy="1778.1" r="4.3"/>
<circle cx="305.4" cy="1780.5" r="4.3"/>
<circle cx="337.4" cy="1766.9" r="4.3"/>
<circle cx="325.3" cy="1766.3" r="4.3"/>
<circle cx="336.3" cy="1778.4" r="4.3"/>
<circle cx="319" cy="1787.2" r="4.3"/>
<circle cx="317.7" cy="1763.4" r="4.3"/>
<circle cx="314.3" cy="1791.1" r="4.3"/>
<circle cx="306" cy="1759.5" r="4.3"/>
<circle cx="309.5" cy="1788.1" r="4.3"/>
<circle cx="303.4" cy="1796.9" r="4.3"/>
<circle cx="310.4" cy="1790.4" r="4.3"/>
<circle cx="297.8" cy="1777.3" r="4.3"/>
<circle cx="358.9" cy="1768.6" r="4.3"/>
<circle cx="308.4" cy="1780.3" r="4.3"/>
<circle cx="336.7" cy="1771.9" r="4.3"/>
<circle cx="313.6" cy="1758.9" r="4.3"/>
<circle cx="309.2" cy="1775.4" r="4.3"/>
<circle cx="324.2" cy="1776.5" r="4.3"/>
<circle cx="304.1" cy="1766.8" r="4.3"/>
<circle cx="299.8" cy="1781.8" r="4.3"/>
<circle cx="296.7" cy="1783.9" r="4.3"/>
<circle cx="330.2" cy="1783.4" r="4.3"/>
<circle cx="298" cy="1760.4" r="4.3"/>
<circle cx="307.4" cy="1778.3" r="4.3"/>
<circle cx="305.2" cy="1787" r="4.3"/>
<circle cx="369.4" cy="1768.6" r="4.3"/>
<circle cx="364.7" cy="1763.2" r="4.3"/>
<circle cx="327.5" cy="1767" r="4.3"/>
<circle cx="290.2" cy="1797.9" r="4.3"/>
<circle cx="312.2" cy="1793.7" r="4.3"/>
<circle cx="306.7" cy="1778.9" r="4.3"/>
<circle cx="298.5" cy="1789.5" r="4.3"/>
<circle cx="361.4" cy="1758.5" r="4.3"/>
<circle cx="330.6" cy="1786.2" r="4.3"/>
<circle cx="301.2" cy="1790.6" r="4.3"/>
<circle cx="300.2" cy="1790.1" r="4.3"/>
<circle cx="303.8" cy="1767.3" r="4.3"/>
<circle cx="304.7" cy="1762.6" r="4.3"/>
<circle cx="314.5" cy="1779.9" r="4.3"/>
<circle cx="322.7" cy="1769.1" r="4.3"/>
<circle cx="302.1" cy="1779.5" r="4.3"/>
<circle cx="292.3" cy="1780.3" r="4.3"/>
<circle cx="311.9" cy="1791.8" r="4.3"/>
<circle cx="306.5" cy="1775.7" r="4.3"/>
<circle cx="349.1" cy="1679.5" r="4.3"/>
<circle cx="311.3" cy="1798.6" r="4.3"/>
<circle cx="295.2" cy="1792.3" r="4.3"/>
<circle cx="323.2" cy="1778.6" r="4.3"/>
<circle cx="295.5" cy="1784.9" r="4.3"/>
<circle cx="299.2" cy="1750.8" r="4.3"/>
<circle cx="397.2" cy="1777.5" r="4.3"/>
<circle cx="299.1" cy="1790.1" r="4.3"/>
<circle cx="303.1" cy="1757.1" r="4.3"/>
<circle cx="305.4" cy="1799.8" r="4.3"/>
<circle cx="295.8" cy="1787.4" r="4.3"/>
<circle cx="305.9" cy="1772.7" r="4.3"/>
<circle cx="296.5" cy="1759.4" r="4.3"/>
<circle cx="312.6" cy="1780.7" r="4.3"/>
<circle cx="338.3" cy="1784.6" r="4.3"/>
<circle cx="314.8" cy="1795.1" r="4.3"/>
<circle cx="292.8" cy="1783" r="4.3"/>
<circle cx="297.3" cy="1781.2" r="4.3"/>
<circle cx="300.2" cy="1797.8" r="4.3"/>
<circle cx="320.3" cy="1794.7" r="4.3"/>
<circle cx="373.1" cy="1771.6" r="4.3"/>
<circle cx="354.3" cy="1788" r="4.3"/>
<circle cx="292.9" cy="1787.8" r="4.3"/>
<circle cx="359.6" cy="1758.7" r="4.3"/>
<circle cx="406.3" cy="1765.4" r="4.3"/>
<circle cx="337.9" cy="1762.5" r="4.3"/>
<circle cx="298.8" cy="1780.3" r="4.3"/>
<circle cx="290.5" cy="1770.4" r="4.3"/>
<circle cx="322.1" cy="1788" r="4.3"/>
<circle cx="303.9" cy="1754.7" r="4.3"/>
<circle cx="289.9" cy="1777.4" r="4.3"/>
<circle cx="292.1" cy="1788.3" r="4.3"/>
<circle cx="300.8" cy="1798.9" r="4.3"/>
<circle cx="304.6" cy="1760.2" r="4.3"/>
<circle cx="329.1" cy="1783.9" r="4.3"/>
<circle cx="297" cy="1794.2" r="4.3"/>
<circle cx="292.8" cy="1721.7" r="4.3"/>
<circle cx="332.7" cy="1775.1" r="4.3"/>
<circle cx="312.6" cy="1785.1" r="4.3"/>
<circle cx="316.9" cy="1787.2" r="4.3"/>
<circle cx="372.7" cy="1762.6" r="4.3"/>
<circle cx="324.6" cy="1787.6" r="4.3"/>
<circle cx="335.6" cy="1784.4" r="4.3"/>
<circle cx="329.7" cy="1788.4" r="4.3"/>
<circle cx="349.4" cy="1772.5" r="4.3"/>
<circle cx="307.2" cy="1799.2" r="4.3"/>
<circle cx="302.1" cy="1793.7" r="4.3"/>
<circle cx="324.1" cy="1782.5" r="4.3"/>
<circle cx="308.8" cy="1779.2" r="4.3"/>
<circle cx="294.8" cy="1784.5" r="4.3"/>
<circle cx="312.4" cy="1790.9" r="4.3"/>
<circle cx="303.1" cy="1776.1" r="4.3"/>
<circle cx="297.5" cy="1788.2" r="4.3"/>
<circle cx="319.1" cy="1763.2" r="4.3"/>
<circle cx="379.1" cy="1755" r="4.3"/>
<circle cx="298.3" cy="1795.6" r="4.3"/>
<circle cx="318.1" cy="1775.4" r="4.3"/>
<circle cx="391.6" cy="1749.7" r="4.3"/>
<circle cx="312.3" cy="1790.6" r="4.3"/>
<circle cx="289.4" cy="1790.1" r="4.3"/>
<circle cx="338.7" cy="1774.6" r="4.3"/>
<circle cx="289.2" cy="1803.1" r="4.3"/>
<circle cx="303.8" cy="1799.8" r="4.3"/>
<circle cx="339.9" cy="1789.3" r="4.3"/>
<circle cx="299.5" cy="1787" r="4.3"/>
<circle cx="311.9" cy="1764.8" r="4.3"/>
<circle cx="336.7" cy="1779.9" r="4.3"/>
<circle cx="298.4" cy="1785.5" r="4.3"/>
<circle cx="325.5" cy="1792.3" r="4.3"/>
<circle cx="291.7" cy="1727.8" r="4.3"/>
<circle cx="317.1" cy="1794.8" r="4.3"/>
<circle cx="291.1" cy="1792.1" r="4.3"/>
<circle cx="327.9" cy="1757.9" r="4.3"/>
<circle cx="293.6" cy="1794.2" r="4.3"/>
<circle cx="310.7" cy="1787.3" r="4.3"/>
<circle cx="296.8" cy="1762.9" r="4.3"/>
<circle cx="314.1" cy="1786.3" r="4.3"/>
<circle cx="303.8" cy="1781.5" r="4.3"/>
<circle cx="340.8" cy="1789.4" r="4.3"/>
<circle cx="369.8" cy="1783.4" r="4.3"/>
<circle cx="346.7" cy="1750.1" r="4.3"/>
<circle cx="305.7" cy="1790.7" r="4.3"/>
<circle cx="299.2" cy="1778.6" r="4.3"/>
<circle cx="290.7" cy="1799.7" r="4.3"/>
<circle cx="306.7" cy="1789.7" r="4.3"/>
<circle cx="294" cy="1704.6" r="4.3"/>
<circle cx="326.2" cy="1782.1" r="4.3"/>
<circle cx="305.3" cy="1797.7" r="4.3"/>
<circle cx="312.9" cy="1795.6" r="4.3"/>
<circle cx="302.3" cy="1775.1" r="4.3"/>
<circle cx="295.2" cy="1774.5" r="4.3"/>
<circle cx="307" cy="1743.2" r="4.3"/>
<circle cx="306.4" cy="1792.9" r="4.3"/>
<circle cx="304.8" cy="1781.3" r="4.3"/>
<circle cx="302.1" cy="1796.6" r="4.3"/>
<circle cx="328.5" cy="1761.5" r="4.3"/>
<circle cx="346.1" cy="1781.4" r="4.3"/>
<circle cx="378" cy="1769.9" r="4.3"/>
<circle cx="333.7" cy="1762.9" r="4.3"/>
<circle cx="311.5" cy="1776.7" r="4.3"/>
<circle cx="308.8" cy="1777.7" r="4.3"/>
<circle cx="294" cy="1771.3" r="4.3"/>
<circle cx="311.4" cy="1798.5" r="4.3"/>
<circle cx="320.1" cy="1772.4" r="4.3"/>
<circle cx="314.7" cy="1751.3" r="4.3"/>
<circle cx="319.2" cy="1782" r="4.3"/>
<circle cx="295.6" cy="1797.1" r="4.3"/>
<circle cx="315.5" cy="1779.5" r="4.3"/>
<circle cx="314.2" cy="1787.1" r="4.3"/>
<circle cx="340.4" cy="1786.6" r="4.3"/>
<circle cx="324.9" cy="1788" r="4.3"/>
<circle cx="299.1" cy="1785.5" r="4.3"/>
<circle cx="331.1" cy="1769.2" r="4.3"/>
<circle cx="345.4" cy="1748.4" r="4.3"/>
<circle cx="306.8" cy="1790.7" r="4.3"/>
<circle cx="321.7" cy="1770.8" r="4.3"/>
<circle cx="327.9" cy="1739.3" r="4.3"/>
<circle cx="305.1" cy="1797" r="4.3"/>
<circle cx="295.7" cy="1795.7" r="4.3"/>
<circle cx="320.1" cy="1792" r="4.3"/>
<circle cx="299.1" cy="1766.4" r="4.3"/>
<circle cx="318.3" cy="1786.4" r="4.3"/>
<circle cx="292.4" cy="1746.3" r="4.3"/>
<circle cx="319.6" cy="1763.1" r="4.3"/>
<circle cx="303.8" cy="1794.5" r="4.3"/>
<circle cx="353.5" cy="1767.5" r="4.3"/>
<circle cx="295.5" cy="1763.9" r="4.3"/>
<circle cx="383" cy="1773.4" r="4.3"/>
<circle cx="315" cy="1789.8" r="4.3"/>
<circle cx="328" cy="1758.2" r="4.3"/>
<circle cx="298.2" cy="1794.4" r="4.3"/>
<circle cx="292.7" cy="1793" r="4.3"/>
<circle cx="306.6" cy="1789.8" r="4.3"/>
<circle cx="346.7" cy="1746.6" r="4.3"/>
<circle cx="318.2" cy="1788.1" r="4.3"/>
<circle cx="315.2" cy="1777.7" r="4.3"/>
<circle cx="288.7" cy="1763.4" r="4.3"/>
<circle cx="315.7" cy="1785.2" r="4.3"/>
<circle cx="322.3" cy="1780.7" r="4.3"/>
<circle cx="303.5" cy="1788.6" r="4.3"/>
<circle cx="325.5" cy="1783.7" r="4.3"/>
<circle cx="365" cy="1783" r="4.3"/>
<circle cx="342.4" cy="1761.9" r="4.3"/>
<circle cx="336.8" cy="1780.2" r="4.3"/>
<circle cx="298.1" cy="1791" r="4.3"/>
<circle cx="301.6" cy="1782.7" r="4.3"/>
<circle cx="301.2" cy="1800.7" r="4.3"/>
<circle cx="377.2" cy="1769.5" r="4.3"/>
<circle cx="293.3" cy="1791.7" r="4.3"/>
<circle cx="296.7" cy="1780.7" r="4.3"/>
<circle cx="336.1" cy="1754.9" r="4.3"/>
<circle cx="297.4" cy="1767.5" r="4.3"/>
<circle cx="356" cy="1775.7" r="4.3"/>
<circle cx="306.1" cy="1790.3" r="4.3"/>
<circle cx="324.2" cy="1769.5" r="4.3"/>
<circle cx="342.7" cy="1761" r="4.3"/>
<circle cx="320.7" cy="1754.3" r="4.3"/>
<circle cx="292.4" cy="1798.7" r="4.3"/>
<circle cx="328.7" cy="1782.2" r="4.3"/>
<circle cx="358.7" cy="1786.3" r="4.3"/>
<circle cx="366.8" cy="1758.7" r="4.3"/>
<circle cx="312.5" cy="1795.5" r="4.3"/>
<circle cx="331.4" cy="1783.8" r="4.3"/>
<circle cx="300" cy="1779.6" r="4.3"/>
<circle cx="333.8" cy="1758.4" r="4.3"/>
<circle cx="294.1" cy="1785.5" r="4.3"/>
<circle cx="305.8" cy="1763.2" r="4.3"/>
<circle cx="298" cy="1780.8" r="4.3"/>
<circle cx="296.2" cy="1792.7" r="4.3"/>
<circle cx="292.9" cy="1778.4" r="4.3"/>
<circle cx="315.5" cy="1778.5" r="4.3"/>
<circle cx="309.3" cy="1795.5" r="4.3"/>
<circle cx="349" cy="1771" r="4.3"/>
<circle cx="316.8" cy="1792.4" r="4.3"/>
<circle cx="312.8" cy="1783.3" r="4.3"/>
<circle cx="303.6" cy="1787.2" r="4.3"/>
<circle cx="372.1" cy="1768.5" r="4.3"/>
<circle cx="324.2" cy="1789.1" r="4.3"/>
<circle cx="305.5" cy="1782.6" r="4.3"/>
<circle cx="318.6" cy="1790.5" r="4.3"/>
<circle cx="289.2" cy="1795.4" r="4.3"/>
<circle cx="387.7" cy="1751.7" r="4.3"/>
<circle cx="321.9" cy="1777.6" r="4.3"/>
<circle cx="294.5" cy="1766.5" r="4.3"/>
<circle cx="294.6" cy="1778.7" r="4.3"/>
<circle cx="303.1" cy="1747.7" r="4.3"/>
<circle cx="351.8" cy="1780.9" r="4.3"/>
<circle cx="300" cy="1776.3" r="4.3"/>
<circle cx="298.1" cy="1786.9" r="4.3"/>
<circle cx="305.7" cy="1795.7" r="4.3"/>
<circle cx="341.9" cy="1789" r="4.3"/>
<circle cx="308.6" cy="1766.2" r="4.3"/>
<circle cx="311.8" cy="1781.3" r="4.3"/>
<circle cx="383.1" cy="1779" r="4.3"/>
<circle cx="309.6" cy="1769.3" r="4.3"/>
<circle cx="303" cy="1796" r="4.3"/>
<circle cx="291.7" cy="1797" r="4.3"/>
<circle cx="290.9" cy="1797.1" r="4.3"/>
<circle cx="299.2" cy="1773.8" r="4.3"/>
<circle cx="305" cy="1777.6" r="4.3"/>
<circle cx="304.1" cy="1793.4" r="4.3"/>
<circle cx="321.5" cy="1743.5" r="4.3"/>
<circle cx="308.8" cy="1780.8" r="4.3"/>
<circle cx="319.4" cy="1790.8" r="4.3"/>
<circle cx="300.9" cy="1755.2" r="4.3"/>
<circle cx="337.1" cy="1736.6" r="4.3"/>
<circle cx="292.5" cy="1795.2" r="4.3"/>
<circle cx="387.5" cy="1776.6" r="4.3"/>
<circle cx="372.8" cy="1750" r="4.3"/>
<circle cx="325.3" cy="1789.3" r="4.3"/>
<circle cx="305.8" cy="1796.6" r="4.3"/>
<circle cx="300.8" cy="1801.4" r="4.3"/>
<circle cx="299.9" cy="1763.2" r="4.3"/>
<circle cx="290.4" cy="1737" r="4.3"/>
<circle cx="294.9" cy="1797.4" r="4.3"/>
<circle cx="298.6" cy="1766.5" r="4.3"/>
<circle cx="328.1" cy="1784.6" r="4.3"/>
<circle cx="296.2" cy="1787.9" r="4.3"/>
<circle cx="329.7" cy="1771.4" r="4.3"/>
<circle cx="296.9" cy="1793.6" r="4.3"/>
<circle cx="298.2" cy="1798.3" r="4.3"/>
<circle cx="334.5" cy="1777.3" r="4.3"/>
<circle cx="302.5" cy="1791.8" r="4.3"/>
<circle cx="288.6" cy="1763.4" r="4.3"/>
<circle cx="310" cy="1795.4" r="4.3"/>
<circle cx="342.1" cy="1789.5" r="4.3"/>
<circle cx="305" cy="1794.2" r="4.3"/>
<circle cx="351.1" cy="1764.9" r="4.3"/>
<circle cx="317.7" cy="1793.8" r="4.3"/>
<circle cx="299.4" cy="1762.7" r="4.3"/>
<circle cx="303.3" cy="1776.6" r="4.3"/>
<circle cx="297.5" cy="1786" r="4.3"/>
<circle cx="337.9" cy="1787.2" r="4.3"/>
<circle cx="293.9" cy="1791.7" r="4.3"/>
<circle cx="318.2" cy="1794" r="4.3"/>
<circle cx="299.1" cy="1788.3" r="4.3"/>
<circle cx="303.2" cy="1792.7" r="4.3"/>
<circle cx="292.8" cy="1790.6" r="4.3"/>
<circle cx="324.2" cy="1774.6" r="4.3"/>
<circle cx="317" cy="1779.5" r="4.3"/>
<circle cx="319.3" cy="1744.4" r="4.3"/>
<circle cx="331.9" cy="1779" r="4.3"/>
<circle cx="314" cy="1770" r="4.3"/>
<circle cx="302.9" cy="1786.7" r="4.3"/>
<circle cx="306.8" cy="1782.6" r="4.3"/>
<circle cx="365.9" cy="1766.6" r="4.3"/>
<circle cx="312.5" cy="1773.5" r="4.3"/>
<circle cx="325.2" cy="1786" r="4.3"/>
<circle cx="307.8" cy="1785.8" r="4.3"/>
<circle cx="330.5" cy="1785.3" r="4.3"/>
<circle cx="330.5" cy="1793.3" r="4.3"/>
<circle cx="307.1" cy="1757.5" r="4.3"/>
<circle cx="304.1" cy="1785.1" r="4.3"/>
<circle cx="299.3" cy="1742.4" r="4.3"/>
<circle cx="357.9" cy="1783.4" r="4.3"/>
<circle cx="319.7" cy="1729" r="4.3"/>
<circle cx="290.9" cy="1741.5" r="4.3"/>
<circle cx="302.5" cy="1791.2" r="4.3"/>
<circle cx="319.6" cy="1783.8" r="4.3"/>
<circle cx="298.7" cy="1776.4" r="4.3"/>
<circle cx="298" cy="1758.9" r="4.3"/>
<circle cx="304.4" cy="1794.5" r="4.3"/>
<circle cx="335.7" cy="1784.4" r="4.3"/>
<circle cx="290.3" cy="1794.5" r="4.3"/>
<circle cx="305.6" cy="1770.3" r="4.3"/>
<circle cx="309.9" cy="1790.4" r="4.3"/>
<circle cx="340.4" cy="1778.4" r="4.3"/>
<circle cx="320.2" cy="1766.8" r="4.3"/>
<circle cx="305.2" cy="1797.7" r="4.3"/>
<circle cx="334.7" cy="1784.9" r="4.3"/>
<circle cx="297.3" cy="1748.5" r="4.3"/>
<circle cx="337.7" cy="1754.7" r="4.3"/>
<circle cx="312.8" cy="1797.1" r="4.3"/>
<circle cx="326.2" cy="1756.4" r="4.3"/>
<circle cx="322.3" cy="1776.7" r="4.3"/>
<circle cx="388.3" cy="1776.3" r="4.3"/>
<circle cx="296.2" cy="1747.3" r="4.3"/>
<circle cx="299" cy="1789.6" r="4.3"/>
<circle cx="308.5" cy="1788.7" r="4.3"/>
<circle cx="307.1" cy="1789.5" r="4.3"/>
<circle cx="316.7" cy="1772.9" r="4.3"/>
<circle cx="293.3" cy="1783.2" r="4.3"/>
<circle cx="310.2" cy="1796.9" r="4.3"/>
<circle cx="296.7" cy="1787" r="4.3"/>
<circle cx="306.2" cy="1751.8" r="4.3"/>
<circle cx="333.4" cy="1784.7" r="4.3"/>
<circle cx="298.3" cy="1782.7" r="4.3"/>
<circle cx="294.2" cy="1773.6" r="4.3"/>
<circle cx="291.4" cy="1791.7" r="4.3"/>
<circle cx="299.4" cy="1773.1" r="4.3"/>
<circle cx="343.3" cy="1787.5" r="4.3"/>
<circle cx="328" cy="1785.2" r="4.3"/>
<circle cx="329" cy="1709.4" r="4.3"/>
<circle cx="307.8" cy="1786.8" r="4.3"/>
<circle cx="311.7" cy="1758.4" r="4.3"/>
<circle cx="298.3" cy="1780.1" r="4.3"/>
<circle cx="342.6" cy="1778.7" r="4.3"/>
<circle cx="317" cy="1762.4" r="4.3"/>
<circle cx="305.3" cy="1768.5" r="4.3"/>
<circle cx="330.1" cy="1788" r="4.3"/>
<circle cx="303.2" cy="1793.5" r="4.3"/>
<circle cx="318.8" cy="1797.5" r="4.3"/>
<circle cx="339" cy="1789.6" r="4.3"/>
<circle cx="302.8" cy="1783.1" r="4.3"/>
<circle cx="304.7" cy="1789.3" r="4.3"/>
<circle cx="294.6" cy="1800.5" r="4.3"/>
<circle cx="338.1" cy="1780.5" r="4.3"/>
<circle cx="332.1" cy="1791" r="4.3"/>
<circle cx="299" cy="1787.6" r="4.3"/>
<circle cx="370.5" cy="1771.2" r="4.3"/>
<circle cx="371.3" cy="1779.9" r="4.3"/>
<circle cx="308.7" cy="1765.4" r="4.3"/>
<circle cx="312.2" cy="1789.6" r="4.3"/>
<circle cx="345.3" cy="1745.8" r="4.3"/>
<circle cx="325.4" cy="1763.5" r="4.3"/>
<circle cx="321.2" cy="1793.2" r="4.3"/>
<circle cx="302.4" cy="1767.6" r="4.3"/>
<circle cx="335.1" cy="1726.7" r="4.3"/>
<circle cx="318.4" cy="1789.6" r="4.3"/>
<circle cx="311.7" cy="1781.5" r="4.3"/>
<circle cx="314.9" cy="1781.4" r="4.3"/>
<circle cx="318.9" cy="1793.5" r="4.3"/>
<circle cx="294.4" cy="1774.8" r="4.3"/>
<circle cx="319.9" cy="1764.5" r="4.3"/>
<circle cx="309" cy="1791.6" r="4.3"/>
<circle cx="324.9" cy="1778" r="4.3"/>
<circle cx="307.7" cy="1778.9" r="4.3"/>
<circle cx="291.9" cy="1797.9" r="4.3"/>
<circle cx="330.7" cy="1777.6" r="4.3"/>
<circle cx="312.5" cy="1751.8" r="4.3"/>
<circle cx="337.4" cy="1788.5" r="4.3"/>
<circle cx="321.9" cy="1778.1" r="4.3"/>
<circle cx="326.9" cy="1790.9" r="4.3"/>
<circle cx="329.5" cy="1775.3" r="4.3"/>
<circle cx="315.3" cy="1783" r="4.3"/>
<circle cx="355" cy="1753.7" r="4.3"/>
<circle cx="346.8" cy="1762.6" r="4.3"/>
<circle cx="332.5" cy="1782.2" r="4.3"/>
<circle cx="343.4" cy="1787.9" r="4.3"/>
<circle cx="317.5" cy="1765.4" r="4.3"/>
<circle cx="354.8" cy="1779.8" r="4.3"/>
<circle cx="373.6" cy="1753.3" r="4.3"/>
<circle cx="304.5" cy="1736.5" r="4.3"/>
<circle cx="305" cy="1798.9" r="4.3"/>
<circle cx="295" cy="1761.1" r="4.3"/>
<circle cx="353.5" cy="1781.7" r="4.3"/>
<circle cx="338.3" cy="1779.2" r="4.3"/>
<circle cx="324.1" cy="1787.5" r="4.3"/>
<circle cx="364.1" cy="1727" r="4.3"/>
<circle cx="345.3" cy="1747.9" r="4.3"/>
<circle cx="329.8" cy="1788.7" r="4.3"/>
<circle cx="299.2" cy="1781.1" r="4.3"/>
<circle cx="313.5" cy="1793.7" r="4.3"/>
<circle cx="302.8" cy="1795.2" r="4.3"/>
<circle cx="292.2" cy="1775.5" r="4.3"/>
<circle cx="318.3" cy="1784.7" r="4.3"/>
<circle cx="306.3" cy="1780.2" r="4.3"/>
<circle cx="322.6" cy="1788.8" r="4.3"/>
<circle cx="307.1" cy="1792.1" r="4.3"/>
<circle cx="321.9" cy="1737.8" r="4.3"/>
<circle cx="289.4" cy="1786.9" r="4.3"/>
<circle cx="331.1" cy="1783.4" r="4.3"/>
<circle cx="322.9" cy="1783" r="4.3"/>
<circle cx="314.7" cy="1777.9" r="4.3"/>
<circle cx="298.2" cy="1779.9" r="4.3"/>
<circle cx="293" cy="1755.6" r="4.3"/>
<circle cx="313.2" cy="1776.8" r="4.3"/>
<circle cx="335.6" cy="1776.5" r="4.3"/>
<circle cx="368.5" cy="1762.6" r="4.3"/>
<circle cx="303" cy="1772" r="4.3"/>
<circle cx="290" cy="1781.8" r="4.3"/>
<circle cx="331.7" cy="1769.6" r="4.3"/>
<circle cx="293.4" cy="1798.7" r="4.3"/>
<circle cx="305.3" cy="1754.6" r="4.3"/>
<circle cx="311.1" cy="1780.9" r="4.3"/>
<circle cx="296.7" cy="1749.8" r="4.3"/>
<circle cx="340.4" cy="1741.2" r="4.3"/>
<circle cx="309.7" cy="1776.5" r="4.3"/>
<circle cx="329" cy="1752.5" r="4.3"/>
<circle cx="307.8" cy="1769.6" r="4.3"/>
<circle cx="297.9" cy="1795.3" r="4.3"/>
<circle cx="315.9" cy="1787.8" r="4.3"/>
<circle cx="294.7" cy="1783.6" r="4.3"/>
<circle cx="296.3" cy="1798.3" r="4.3"/>
<circle cx="315.1" cy="1787.4" r="4.3"/>
<circle cx="325.5" cy="1784.8" r="4.3"/>
<circle cx="289" cy="1795.8" r="4.3"/>
<circle cx="314" cy="1793.4" r="4.3"/>
<circle cx="308.8" cy="1776.8" r="4.3"/>
<circle cx="330.2" cy="1773.1" r="4.3"/>
<circle cx="319.8" cy="1772.4" r="4.3"/>
<circle cx="328.2" cy="1772.7" r="4.3"/>
<circle cx="362.3" cy="1780.4" r="4.3"/>
<circle cx="351.4" cy="1772.9" r="4.3"/>
<circle cx="311.2" cy="1767.2" r="4.3"/>
<circle cx="373" cy="1780" r="4.3"/>
<circle cx="314.8" cy="1779.6" r="4.3"/>
<circle cx="300.8" cy="1798.6" r="4.3"/>
<circle cx="291.7" cy="1785.2" r="4.3"/>
<circle cx="291.9" cy="1791.6" r="4.3"/>
<circle cx="321.1" cy="1774.7" r="4.3"/>
<circle cx="336.6" cy="1762.8" r="4.3"/>
<circle cx="320.6" cy="1784.4" r="4.3"/>
<circle cx="318" cy="1771" r="4.3"/>
<circle cx="296.8" cy="1799" r="4.3"/>
<circle cx="300.5" cy="1788.3" r="4.3"/>
<circle cx="295.8" cy="1746.7" r="4.3"/>
<circle cx="317.6" cy="1790.2" r="4.3"/>
<circle cx="291.7" cy="1797.3" r="4.3"/>
<circle cx="291.5" cy="1800.8" r="4.3"/>
<circle cx="298.9" cy="1775.4" r="4.3"/>
<circle cx="290.2" cy="1771.7" r="4.3"/>
<circle cx="294.1" cy="1796.5" r="4.3"/>
<circle cx="329.5" cy="1763.7" r="4.3"/>
<circle cx="349.3" cy="1773.9" r="4.3"/>
<circle cx="301.4" cy="1796.9" r="4.3"/>
<circle cx="312.8" cy="1794.9" r="4.3"/>
<circle cx="331.2" cy="1745.5" r="4.3"/>
<circle cx="295.7" cy="1797.4" r="4.3"/>
<circle cx="381.8" cy="1736.7" r="4.3"/>
<circle cx="321.1" cy="1795.1" r="4.3"/>
<circle cx="301.4" cy="1775.7" r="4.3"/>
<circle cx="358.4" cy="1785.3" r="4.3"/>
<circle cx="317.2" cy="1791" r="4.3"/>
<circle cx="366.8" cy="1756.3" r="4.3"/>
<circle cx="306.2" cy="1794.4" r="4.3"/>
<circle cx="302.7" cy="1785.1" r="4.3"/>
<circle cx="303.9" cy="1756.7" r="4.3"/>
<circle cx="365" cy="1774.4" r="4.3"/>
<circle cx="302.7" cy="1788.5" r="4.3"/>
<circle cx="351.9" cy="1759" r="4.3"/>
<circle cx="314.8" cy="1792.4" r="4.3"/>
<circle cx="311.5" cy="1776.3" r="4.3"/>
<circle cx="345.8" cy="1788.2" r="4.3"/>
<circle cx="292.9" cy="1788.9" r="4.3"/>
<circle cx="331.1" cy="1757.4" r="4.3"/>
<circle cx="334.7" cy="1786.9" r="4.3"/>
<circle cx="291.2" cy="1782.7" r="4.3"/>
<circle cx="297.7" cy="1787.4" r="4.3"/>
<circle cx="320.7" cy="1787" r="4.3"/>
<circle cx="330.2" cy="1785.8" r="4.3"/>
<circle cx="304.9" cy="1746.8" r="4.3"/>
<circle cx="411.3" cy="1753.6" r="4.3"/>
<circle cx="360.8" cy="1771.1" r="4.3"/>
<circle cx="293.1" cy="1794.7" r="4.3"/>
<circle cx="289.5" cy="1794.8" r="4.3"/>
<circle cx="339.8" cy="1790" r="4.3"/>
<circle cx="317.2" cy="1790.6" r="4.3"/>
<circle cx="300" cy="1773.6" r="4.3"/>
<circle cx="295.2" cy="1769.2" r="4.3"/>
<circle cx="331.1" cy="1772.7" r="4.3"/>
<circle cx="317.6" cy="1778.5" r="4.3"/>
<circle cx="318.4" cy="1789.7" r="4.3"/>
<circle cx="292.4" cy="1784.6" r="4.3"/>
<circle cx="319.4" cy="1762.9" r="4.3"/>
<circle cx="315.8" cy="1797.5" r="4.3"/>
<circle cx="327.2" cy="1768.4" r="4.3"/>
<circle cx="323.7" cy="1778.3" r="4.3"/>
<circle cx="309.2" cy="1792" r="4.3"/>
<circle cx="309.6" cy="1789.5" r="4.3"/>
<circle cx="296.4" cy="1794.1" r="4.3"/>
<circle cx="303.6" cy="1784.5" r="4.3"/>
<circle cx="297.1" cy="1796.5" r="4.3"/>
<circle cx="298.7" cy="1781.1" r="4.3"/>
<circle cx="325.1" cy="1781.5" r="4.3"/>
<circle cx="292.7" cy="1784.6" r="4.3"/>
<circle cx="315.1" cy="1785.2" r="4.3"/>
<circle cx="404.7" cy="1772.3" r="4.3"/>
<circle cx="336" cy="1760.9" r="4.3"/>
<circle cx="352.1" cy="1776.6" r="4.3"/>
<circle cx="333.5" cy="1788.3" r="4.3"/>
<circle cx="307.4" cy="1775.7" r="4.3"/>
<circle cx="293.3" cy="1794.7" r="4.3"/>
<circle cx="304.8" cy="1770.3" r="4.3"/>
<circle cx="314.7" cy="1785.2" r="4.3"/>
<circle cx="350.1" cy="1787.6" r="4.3"/>
<circle cx="290.7" cy="1794.1" r="4.3"/>
<circle cx="336.8" cy="1782.7" r="4.3"/>
<circle cx="304.4" cy="1795.6" r="4.3"/>
<circle cx="290.8" cy="1785" r="4.3"/>
<circle cx="322.9" cy="1779.9" r="4.3"/>
<circle cx="344" cy="1766.1" r="4.3"/>
<circle cx="334.1" cy="1773.2" r="4.3"/>
<circle cx="305.8" cy="1778.2" r="4.3"/>
<circle cx="314.5" cy="1789.2" r="4.3"/>
<circle cx="288.3" cy="1785.9" r="4.3"/>
<circle cx="317.2" cy="1781.7" r="4.3"/>
<circle cx="309.7" cy="1776" r="4.3"/>
<circle cx="298" cy="1787.6" r="4.3"/>
<circle cx="303.2" cy="1792.2" r="4.3"/>
<circle cx="341.7" cy="1750.7" r="4.3"/>
<circle cx="312.4" cy="1792.2" r="4.3"/>
<circle cx="334.2" cy="1784.6" r="4.3"/>
<circle cx="292.1" cy="1796.4" r="4.3"/>
<circle cx="303.5" cy="1761.1" r="4.3"/>
<circle cx="297.4" cy="1789.7" r="4.3"/>
<circle cx="370.3" cy="1768.9" r="4.3"/>
<circle cx="307" cy="1781.9" r="4.3"/>
<circle cx="388.8" cy="1735.9" r="4.3"/>
<circle cx="315.9" cy="1777.2" r="4.3"/>
<circle cx="316.9" cy="1786.8" r="4.3"/>
<circle cx="302.7" cy="1793.7" r="4.3"/>
<circle cx="295.5" cy="1790.8" r="4.3"/>
<circle cx="303.9" cy="1798.7" r="4.3"/>
<circle cx="317.1" cy="1784.4" r="4.3"/>
<circle cx="331.7" cy="1792.2" r="4.3"/>
<circle cx="344.7" cy="1787.3" r="4.3"/>
<circle cx="357.1" cy="1773" r="4.3"/>
<circle cx="342.5" cy="1787.4" r="4.3"/>
<circle cx="317.9" cy="1787.2" r="4.3"/>
<circle cx="299.4" cy="1789.1" r="4.3"/>
<circle cx="303.9" cy="1797.8" r="4.3"/>
<circle cx="305" cy="1770.9" r="4.3"/>
<circle cx="397.6" cy="1772.4" r="4.3"/>
<circle cx="337.3" cy="1779.4" r="4.3"/>
<circle cx="318.9" cy="1770.1" r="4.3"/>
<circle cx="334.8" cy="1773.1" r="4.3"/>
<circle cx="317.9" cy="1773.5" r="4.3"/>
<circle cx="337.3" cy="1757.4" r="4.3"/>
<circle cx="309.2" cy="1796.6" r="4.3"/>
<circle cx="300.3" cy="1778.1" r="4.3"/>
<circle cx="312.6" cy="1761.7" r="4.3"/>
<circle cx="293.3" cy="1799" r="4.3"/>
<circle cx="322" cy="1775.6" r="4.3"/>
<circle cx="332.6" cy="1751.6" r="4.3"/>
<circle cx="295.1" cy="1789.6" r="4.3"/>
<circle cx="338.4" cy="1787.3" r="4.3"/>
<circle cx="311.6" cy="1793.2" r="4.3"/>
<circle cx="314.5" cy="1787.2" r="4.3"/>
<circle cx="306.7" cy="1754.5" r="4.3"/>
<circle cx="349.7" cy="1767.4" r="4.3"/>
<circle cx="359.6" cy="1779.9" r="4.3"/>
<circle cx="314.9" cy="1758.8" r="4.3"/>
<circle cx="328.9" cy="1784.7" r="4.3"/>
<circle cx="379.3" cy="1775" r="4.3"/>
<circle cx="324.5" cy="1783.5" r="4.3"/>
<circle cx="309.3" cy="1791.2" r="4.3"/>
<circle cx="294.4" cy="1763.5" r="4.3"/>
<circle cx="298.5" cy="1767" r="4.3"/>
<circle cx="305.3" cy="1775.8" r="4.3"/>
<circle cx="292.5" cy="1790.5" r="4.3"/>
<circle cx="312.6" cy="1767.9" r="4.3"/>
<circle cx="289.6" cy="1789.7" r="4.3"/>
<circle cx="291.6" cy="1797.7" r="4.3"/>
<circle cx="351" cy="1773.9" r="4.3"/>
<circle cx="319.6" cy="1787" r="4.3"/>
<circle cx="326.1" cy="1781.3" r="4.3"/>
<circle cx="319.3" cy="1792.5" r="4.3"/>
<circle cx="324.8" cy="1765.4" r="4.3"/>
<circle cx="331.4" cy="1786.1" r="4.3"/>
<circle cx="339.5" cy="1780.6" r="4.3"/>
<circle cx="328.7" cy="1784.6" r="4.3"/>
<circle cx="331.4" cy="1778.2" r="4.3"/>
<circle cx="291.8" cy="1796" r="4.3"/>
<circle cx="357.4" cy="1713.7" r="4.3"/>
<circle cx="289.8" cy="1799.3" r="4.3"/>
<circle cx="290.5" cy="1781.5" r="4.3"/>
<circle cx="321.2" cy="1778.2" r="4.3"/>
<circle cx="296.9" cy="1801.2" r="4.3"/>
<circle cx="298.4" cy="1751.3" r="4.3"/>
<circle cx="292.3" cy="1802.7" r="4.3"/>
<circle cx="303.6" cy="1769.1" r="4.3"/>
<circle cx="290.2" cy="1772.9" r="4.3"/>
<circle cx="310.2" cy="1795.4" r="4.3"/>
<circle cx="299.2" cy="1784.2" r="4.3"/>
<circle cx="290.4" cy="1782.1" r="4.3"/>
<circle cx="311" cy="1786.7" r="4.3"/>
<circle cx="332.6" cy="1738.7" r="4.3"/>
<circle cx="413.4" cy="1754.6" r="4.3"/>
<circle cx="297.4" cy="1770.7" r="4.3"/>
<circle cx="310.3" cy="1772" r="4.3"/>
<circle cx="301.3" cy="1795.5" r="4.3"/>
<circle cx="323.1" cy="1791.4" r="4.3"/>
<circle cx="370.6" cy="1775.6" r="4.3"/>
<circle cx="321.3" cy="1791.6" r="4.3"/>
<circle cx="324.6" cy="1791.7" r="4.3"/>
<circle cx="359.5" cy="1773.6" r="4.3"/>
<circle cx="314.5" cy="1708.4" r="4.3"/>
<circle cx="303.8" cy="1796.5" r="4.3"/>
<circle cx="358.7" cy="1779.6" r="4.3"/>
<circle cx="301.5" cy="1766.6" r="4.3"/>
<circle cx="342.3" cy="1772.8" r="4.3"/>
<circle cx="346.8" cy="1786.4" r="4.3"/>
<circle cx="291.1" cy="1802.6" r="4.3"/>
<circle cx="312.4" cy="1796.1" r="4.3"/>
<circle cx="318.3" cy="1780.2" r="4.3"/>
<circle cx="311.8" cy="1758.1" r="4.3"/>
<circle cx="306" cy="1758.3" r="4.3"/>
<circle cx="321.4" cy="1747" r="4.3"/>
<circle cx="315.2" cy="1796.3" r="4.3"/>
<circle cx="320.8" cy="1756.3" r="4.3"/>
<circle cx="320.6" cy="1794.9" r="4.3"/>
<circle cx="311.3" cy="1783.4" r="4.3"/>
<circle cx="292.4" cy="1797.7" r="4.3"/>
<circle cx="315.2" cy="1793.9" r="4.3"/>
<circle cx="296.6" cy="1785.1" r="4.3"/>
<circle cx="328.2" cy="1788.2" r="4.3"/>
<circle cx="302.5" cy="1796.5" r="4.3"/>
<circle cx="309" cy="1785.5" r="4.3"/>
<circle cx="320.2" cy="1783.4" r="4.3"/>
<circle cx="360.3" cy="1765" r="4.3"/>
<circle cx="297.4" cy="1795.5" r="4.3"/>
<circle cx="312.8" cy="1752.4" r="4.3"/>
<circle cx="332.8" cy="1789.6" r="4.3"/>
<circle cx="332.2" cy="1777.2" r="4.3"/>
<circle cx="323.2" cy="1771.1" r="4.3"/>
<circle cx="312.2" cy="1772.6" r="4.3"/>
<circle cx="323.6" cy="1773.3" r="4.3"/>
<circle cx="292.1" cy="1787.7" r="4.3"/>
<circle cx="339.5" cy="1758.1" r="4.3"/>
<circle cx="315.5" cy="1787.5" r="4.3"/>
<circle cx="310.1" cy="1783.4" r="4.3"/>
<circle cx="304.8" cy="1765" r="4.3"/>
<circle cx="321.6" cy="1761.4" r="4.3"/>
<circle cx="295.3" cy="1773.7" r="4.3"/>
<circle cx="304.5" cy="1789.2" r="4.3"/>
<circle cx="296.3" cy="1781.4" r="4.3"/>
<circle cx="318.5" cy="1770.5" r="4.3"/>
<circle cx="290.5" cy="1798.9" r="4.3"/>
<circle cx="370.4" cy="1771.3" r="4.3"/>
<circle cx="324.9" cy="1795.7" r="4.3"/>
<circle cx="304.2" cy="1789.6" r="4.3"/>
<circle cx="341.9" cy="1753.4" r="4.3"/>
<circle cx="290.9" cy="1791.5" r="4.3"/>
<circle cx="339.6" cy="1740.8" r="4.3"/>
<circle cx="317.6" cy="1785.7" r="4.3"/>
<circle cx="312.4" cy="1759.5" r="4.3"/>
<circle cx="322.5" cy="1762.4" r="4.3"/>
<circle cx="291" cy="1774.9" r="4.3"/>
<circle cx="326.1" cy="1770" r="4.3"/>
<circle cx="355.8" cy="1774.4" r="4.3"/>
<circle cx="301.8" cy="1790.3" r="4.3"/>
<circle cx="365.4" cy="1786.5" r="4.3"/>
<circle cx="319.2" cy="1776.4" r="4.3"/>
<circle cx="297" cy="1743.4" r="4.3"/>
<circle cx="340.3" cy="1753.7" r="4.3"/>
<circle cx="347.1" cy="1791.4" r="4.3"/>
<circle cx="342.1" cy="1789.1" r="4.3"/>
<circle cx="291.9" cy="1771.6" r="4.3"/>
<circle cx="326.8" cy="1788.9" r="4.3"/>
<circle cx="306.4" cy="1795.6" r="4.3"/>
<circle cx="332.3" cy="1787.2" r="4.3"/>
<circle cx="306.3" cy="1763.5" r="4.3"/>
<circle cx="302.2" cy="1773.6" r="4.3"/>
<circle cx="314.6" cy="1780.3" r="4.3"/>
<circle cx="313.3" cy="1772.7" r="4.3"/>
<circle cx="386" cy="1755.7" r="4.3"/>
<circle cx="377.3" cy="1752.4" r="4.3"/>
<circle cx="316.3" cy="1741.9" r="4.3"/>
<circle cx="316.5" cy="1763.8" r="4.3"/>
<circle cx="316.3" cy="1790" r="4.3"/>
<circle cx="331.5" cy="1780.5" r="4.3"/>
<circle cx="338.4" cy="1791.9" r="4.3"/>
<circle cx="308.3" cy="1793.5" r="4.3"/>
<circle cx="329.9" cy="1791.1" r="4.3"/>
<circle cx="336" cy="1772.3" r="4.3"/>
<circle cx="312.4" cy="1776.3" r="4.3"/>
<circle cx="310.4" cy="1742.9" r="4.3"/>
<circle cx="365.2" cy="1737.7" r="4.3"/>
<circle cx="301.8" cy="1797.9" r="4.3"/>
<circle cx="326.4" cy="1770.2" r="4.3"/>
<circle cx="324.4" cy="1789.9" r="4.3"/>
<circle cx="375.9" cy="1771.7" r="4.3"/>
<circle cx="337.6" cy="1736.3" r="4.3"/>
<circle cx="297.3" cy="1787.8" r="4.3"/>
<circle cx="299.7" cy="1790.2" r="4.3"/>
<circle cx="296.2" cy="1788.9" r="4.3"/>
<circle cx="292.3" cy="1730.8" r="4.3"/>
<circle cx="301.7" cy="1786.6" r="4.3"/>
<circle cx="310.3" cy="1776.9" r="4.3"/>
<circle cx="317" cy="1783.8" r="4.3"/>
<circle cx="290" cy="1784.6" r="4.3"/>
<circle cx="335" cy="1776.8" r="4.3"/>
<circle cx="329.9" cy="1788.6" r="4.3"/>
<circle cx="324.1" cy="1783.6" r="4.3"/>
<circle cx="330" cy="1775.4" r="4.3"/>
<circle cx="323.5" cy="1777.9" r="4.3"/>
<circle cx="297" cy="1753.8" r="4.3"/>
<circle cx="293.7" cy="1799.2" r="4.3"/>
<circle cx="353.3" cy="1787" r="4.3"/>
<circle cx="292.3" cy="1754.8" r="4.3"/>
<circle cx="320.3" cy="1756.6" r="4.3"/>
<circle cx="350" cy="1788.3" r="4.3"/>
<circle cx="332.5" cy="1791.3" r="4.3"/>
<circle cx="296.5" cy="1797.9" r="4.3"/>
<circle cx="328.4" cy="1778.6" r="4.3"/>
<circle cx="303.1" cy="1782" r="4.3"/>
<circle cx="294" cy="1783.3" r="4.3"/>
<circle cx="314.3" cy="1790.9" r="4.3"/>
<circle cx="307.9" cy="1793.6" r="4.3"/>
<circle cx="305.3" cy="1756.8" r="4.3"/>
<circle cx="310.1" cy="1781" r="4.3"/>
<circle cx="340.6" cy="1780.9" r="4.3"/>
<circle cx="294.7" cy="1788.2" r="4.3"/>
<circle cx="355.2" cy="1764.4" r="4.3"/>
<circle cx="307.4" cy="1793.3" r="4.3"/>
<circle cx="339.7" cy="1789" r="4.3"/>
<circle cx="300.9" cy="1797.6" r="4.3"/>
<circle cx="337.1" cy="1762.4" r="4.3"/>
<circle cx="325.5" cy="1787.1" r="4.3"/>
<circle cx="313.4" cy="1750.7" r="4.3"/>
<circle cx="307.2" cy="1783.4" r="4.3"/>
<circle cx="298.8" cy="1796.3" r="4.3"/>
<circle cx="300.8" cy="1777.1" r="4.3"/>
<circle cx="314.8" cy="1792.8" r="4.3"/>
<circle cx="303.4" cy="1780.2" r="4.3"/>
<circle cx="318.3" cy="1732" r="4.3"/>
<circle cx="365.5" cy="1787.6" r="4.3"/>
<circle cx="325.7" cy="1783.1" r="4.3"/>
<circle cx="311.5" cy="1777.3" r="4.3"/>
<circle cx="293.8" cy="1756.8" r="4.3"/>
<circle cx="310.4" cy="1763.7" r="4.3"/>
<circle cx="333.3" cy="1791" r="4.3"/>
<circle cx="299.5" cy="1775.8" r="4.3"/>
<circle cx="292.9" cy="1792" r="4.3"/>
<circle cx="292.5" cy="1748.4" r="4.3"/>
<circle cx="315.7" cy="1773.4" r="4.3"/>
<circle cx="336.7" cy="1782.8" r="4.3"/>
<circle cx="315.5" cy="1772.6" r="4.3"/>
<circle cx="295.1" cy="1746.7" r="4.3"/>
<circle cx="340.6" cy="1787.8" r="4.3"/>
<circle cx="368.1" cy="1761.4" r="4.3"/>
<circle cx="295.9" cy="1786.9" r="4.3"/>
<circle cx="324.2" cy="1792.4" r="4.3"/>
<circle cx="330.9" cy="1794.2" r="4.3"/>
<circle cx="294.3" cy="1747.9" r="4.3"/>
<circle cx="343" cy="1762.7" r="4.3"/>
<circle cx="312.3" cy="1771.7" r="4.3"/>
<circle cx="298.9" cy="1801.5" r="4.3"/>
<circle cx="295.7" cy="1798.6" r="4.3"/>
<circle cx="358.3" cy="1781.3" r="4.3"/>
<circle cx="337.5" cy="1786.6" r="4.3"/>
<circle cx="341.8" cy="1774.4" r="4.3"/>
<circle cx="335.3" cy="1777.7" r="4.3"/>
<circle cx="372.4" cy="1784.3" r="4.3"/>
<circle cx="365.5" cy="1783.2" r="4.3"/>
<circle cx="348.8" cy="1779.5" r="4.3"/>
<circle cx="340.3" cy="1789.1" r="4.3"/>
<circle cx="300.9" cy="1782.4" r="4.3"/>
<circle cx="297.1" cy="1784.8" r="4.3"/>
<circle cx="296.7" cy="1773.2" r="4.3"/>
<circle cx="300" cy="1796.3" r="4.3"/>
<circle cx="315.7" cy="1785.8" r="4.3"/>
<circle cx="329.8" cy="1765.7" r="4.3"/>
<circle cx="298.4" cy="1761.8" r="4.3"/>
<circle cx="302.3" cy="1776.2" r="4.3"/>
<circle cx="328.4" cy="1777.4" r="4.3"/>
<circle cx="291.2" cy="1784.8" r="4.3"/>
<circle cx="302" cy="1800.4" r="4.3"/>
<circle cx="305" cy="1796.8" r="4.3"/>
<circle cx="305.5" cy="1729.4" r="4.3"/>
<circle cx="290.6" cy="1756.5" r="4.3"/>
<circle cx="311.8" cy="1785.5" r="4.3"/>
<circle cx="333.7" cy="1791.4" r="4.3"/>
<circle cx="313.3" cy="1747" r="4.3"/>
<circle cx="293.8" cy="1789.5" r="4.3"/>
<circle cx="309.2" cy="1776.2" r="4.3"/>
<circle cx="346.3" cy="1787.3" r="4.3"/>
<circle cx="308.4" cy="1765.9" r="4.3"/>
<circle cx="292.9" cy="1784" r="4.3"/>
<circle cx="296" cy="1768.8" r="4.3"/>
<circle cx="304.8" cy="1747.5" r="4.3"/>
<circle cx="373.8" cy="1783.2" r="4.3"/>
<circle cx="315.7" cy="1788.4" r="4.3"/>
<circle cx="318.8" cy="1776.6" r="4.3"/>
<circle cx="304.9" cy="1778.3" r="4.3"/>
<circle cx="308" cy="1769.6" r="4.3"/>
<circle cx="292.9" cy="1794.7" r="4.3"/>
<circle cx="335.3" cy="1781.7" r="4.3"/>
<circle cx="306.8" cy="1764.4" r="4.3"/>
<circle cx="314.7" cy="1793.4" r="4.3"/>
<circle cx="298.4" cy="1783" r="4.3"/>
<circle cx="308.4" cy="1793.6" r="4.3"/>
<circle cx="346.8" cy="1756.4" r="4.3"/>
<circle cx="297.5" cy="1800.1" r="4.3"/>
<circle cx="296.2" cy="1795.6" r="4.3"/>
<circle cx="291.2" cy="1790.9" r="4.3"/>
<circle cx="322.8" cy="1785.9" r="4.3"/>
<circle cx="311.8" cy="1793.6" r="4.3"/>
<circle cx="352.6" cy="1778.5" r="4.3"/>
<circle cx="317" cy="1773.5" r="4.3"/>
<circle cx="325.4" cy="1779.5" r="4.3"/>
<circle cx="351" cy="1785.5" r="4.3"/>
<circle cx="305.7" cy="1770.4" r="4.3"/>
<circle cx="301" cy="1779.3" r="4.3"/>
<circle cx="320.2" cy="1785.9" r="4.3"/>
<circle cx="308.9" cy="1786" r="4.3"/>
<circle cx="308.3" cy="1760" r="4.3"/>
<circle cx="304.6" cy="1775.2" r="4.3"/>
<circle cx="300.3" cy="1726.3" r="4.3"/>
<circle cx="293" cy="1787.8" r="4.3"/>
<circle cx="312.5" cy="1761.5" r="4.3"/>
<circle cx="296.7" cy="1788.2" r="4.3"/>
<circle cx="291.7" cy="1779.9" r="4.3"/>
<circle cx="303.2" cy="1769.8" r="4.3"/>
<circle cx="312.7" cy="1764.2" r="4.3"/>
<circle cx="295.8" cy="1759.9" r="4.3"/>
<circle cx="325.5" cy="1767.5" r="4.3"/>
<circle cx="320.3" cy="1794.7" r="4.3"/>
<circle cx="298" cy="1786.3" r="4.3"/>
<circle cx="308.6" cy="1778.2" r="4.3"/>
<circle cx="320.4" cy="1790.5" r="4.3"/>
<circle cx="356.1" cy="1712.2" r="4.3"/>
<circle cx="341.7" cy="1758.3" r="4.3"/>
<circle cx="294.6" cy="1781.9" r="4.3"/>
<circle cx="317.9" cy="1792" r="4.3"/>
<circle cx="299.3" cy="1774.2" r="4.3"/>
<circle cx="321.5" cy="1774.1" r="4.3"/>
<circle cx="295.5" cy="1799.3" r="4.3"/>
<circle cx="305.9" cy="1743" r="4.3"/>
<circle cx="329.1" cy="1783" r="4.3"/>
<circle cx="290.9" cy="1795.4" r="4.3"/>
<circle cx="297" cy="1797.3" r="4.3"/>
<circle cx="293.7" cy="1755.3" r="4.3"/>
<circle cx="368.1" cy="1778.1" r="4.3"/>
<circle cx="338.8" cy="1744.2" r="4.3"/>
<circle cx="300.2" cy="1794.7" r="4.3"/>
<circle cx="294.3" cy="1790.1" r="4.3"/>
<circle cx="319.2" cy="1788.8" r="4.3"/>
<circle cx="294.8" cy="1801.9" r="4.3"/>
<circle cx="299.4" cy="1793.9" r="4.3"/>
<circle cx="346" cy="1766.3" r="4.3"/>
<circle cx="308.5" cy="1792" r="4.3"/>
<circle cx="295.5" cy="1797.7" r="4.3"/>
<circle cx="296.6" cy="1765.5" r="4.3"/>
<circle cx="291.6" cy="1798.8" r="4.3"/>
<circle cx="329.4" cy="1772.3" r="4.3"/>
<circle cx="293.2" cy="1784.5" r="4.3"/>
<circle cx="298.8" cy="1782.5" r="4.3"/>
<circle cx="314.2" cy="1795" r="4.3"/>
<circle cx="311.5" cy="1795" r="4.3"/>
<circle cx="328.8" cy="1790.7" r="4.3"/>
<circle cx="349.6" cy="1753.3" r="4.3"/>
<circle cx="303.7" cy="1770.6" r="4.3"/>
<circle cx="317.1" cy="1783" r="4.3"/>
<circle cx="304.1" cy="1796.4" r="4.3"/>
<circle cx="318.9" cy="1764" r="4.3"/>
<circle cx="310.3" cy="1793.6" r="4.3"/>
<circle cx="355.8" cy="1757.9" r="4.3"/>
<circle cx="303.1" cy="1784.7" r="4.3"/>
<circle cx="310.4" cy="1785.6" r="4.3"/>
<circle cx="291.1" cy="1766.5" r="4.3"/>
<circle cx="296.6" cy="1783.2" r="4.3"/>
<circle cx="340" cy="1758.7" r="4.3"/>
<circle cx="317.1" cy="1777.8" r="4.3"/>
<circle cx="318.7" cy="1769.8" r="4.3"/>
<circle cx="294.7" cy="1789.7" r="4.3"/>
<circle cx="337.8" cy="1763" r="4.3"/>
<circle cx="305.5" cy="1799.3" r="4.3"/>
<circle cx="315.9" cy="1774.2" r="4.3"/>
<circle cx="303.4" cy="1775.4" r="4.3"/>
<circle cx="310" cy="1775.1" r="4.3"/>
<circle cx="294.8" cy="1790.5" r="4.3"/>
<circle cx="359.3" cy="1761.5" r="4.3"/>
<circle cx="314" cy="1731.7" r="4.3"/>
<circle cx="301.2" cy="1797.5" r="4.3"/>
<circle cx="294.6" cy="1799.8" r="4.3"/>
<circle cx="317.1" cy="1746" r="4.3"/>
<circle cx="305.4" cy="1784.1" r="4.3"/>
<circle cx="299.9" cy="1773.1" r="4.3"/>
<circle cx="290.2" cy="1795.9" r="4.3"/>
<circle cx="353.5" cy="1762.7" r="4.3"/>
<circle cx="313.8" cy="1770" r="4.3"/>
<circle cx="309.1" cy="1794" r="4.3"/>
<circle cx="305.3" cy="1789" r="4.3"/>
<circle cx="293" cy="1787.7" r="4.3"/>
<circle cx="335.5" cy="1767.6" r="4.3"/>
<circle cx="295.5" cy="1793.7" r="4.3"/>
<circle cx="316.2" cy="1781.7" r="4.3"/>
<circle cx="291.4" cy="1798.1" r="4.3"/>
<circle cx="371.8" cy="1779.9" r="4.3"/>
<circle cx="290.3" cy="1800.1" r="4.3"/>
<circle cx="404.6" cy="1764.5" r="4.3"/>
<circle cx="337.2" cy="1788.4" r="4.3"/>
<circle cx="351.6" cy="1769.6" r="4.3"/>
<circle cx="302.6" cy="1792.4" r="4.3"/>
<circle cx="327.5" cy="1779.9" r="4.3"/>
<circle cx="298.6" cy="1785.2" r="4.3"/>
<circle cx="328.1" cy="1781.9" r="4.3"/>
<circle cx="306.2" cy="1766.1" r="4.3"/>
<circle cx="414" cy="1764.3" r="4.3"/>
<circle cx="388.7" cy="1759.9" r="4.3"/>
<circle cx="404.4" cy="1765.3" r="4.3"/>
<circle cx="311" cy="1790.1" r="4.3"/>
<circle cx="300.4" cy="1786.4" r="4.3"/>
<circle cx="404" cy="1764.3" r="4.3"/>
<circle cx="347.9" cy="1733.3" r="4.3"/>
<circle cx="344.2" cy="1779.5" r="4.3"/>
<circle cx="375.7" cy="1768.3" r="4.3"/>
<circle cx="292.3" cy="1774.3" r="4.3"/>
<circle cx="296.7" cy="1773.5" r="4.3"/>
<circle cx="293.9" cy="1782.1" r="4.3"/>
<circle cx="383.3" cy="1717.3" r="4.3"/>
<circle cx="317.3" cy="1788.5" r="4.3"/>
<circle cx="381.5" cy="1777.2" r="4.3"/>
<circle cx="299" cy="1793.7" r="4.3"/>
<circle cx="332.8" cy="1758.3" r="4.3"/>
<circle cx="311.5" cy="1789.8" r="4.3"/>
<circle cx="309.3" cy="1795" r="4.3"/>
<circle cx="314" cy="1781.3" r="4.3"/>
<circle cx="295.8" cy="1795.5" r="4.3"/>
<circle cx="318.6" cy="1764.1" r="4.3"/>
<circle cx="312" cy="1788.6" r="4.3"/>
<circle cx="331.6" cy="1781.4" r="4.3"/>
<circle cx="315.7" cy="1793.1" r="4.3"/>
<circle cx="343.2" cy="1754.6" r="4.3"/>
<circle cx="352" cy="1778.6" r="4.3"/>
<circle cx="444.3" cy="1744.9" r="4.3"/>
<circle cx="291.9" cy="1775.3" r="4.3"/>
<circle cx="311.1" cy="1774.3" r="4.3"/>
<circle cx="319.5" cy="1786" r="4.3"/>
<circle cx="296.9" cy="1725" r="4.3"/>
<circle cx="354.8" cy="1779.9" r="4.3"/>
<circle cx="331" cy="1785.6" r="4.3"/>
<circle cx="297.4" cy="1770.6" r="4.3"/>
<circle cx="292.3" cy="1793.8" r="4.3"/>
<circle cx="314" cy="1785.6" r="4.3"/>
<circle cx="317.9" cy="1731.5" r="4.3"/>
<circle cx="298.3" cy="1792.1" r="4.3"/>
<circle cx="327.7" cy="1771.5" r="4.3"/>
<circle cx="293.6" cy="1769.4" r="4.3"/>
<circle cx="290.7" cy="1769.6" r="4.3"/>
<circle cx="328.2" cy="1792.2" r="4.3"/>
<circle cx="337.5" cy="1793.3" r="4.3"/>
<circle cx="337" cy="1782.1" r="4.3"/>
<circle cx="351.6" cy="1766.6" r="4.3"/>
<circle cx="292.1" cy="1791.6" r="4.3"/>
<circle cx="293.3" cy="1789" r="4.3"/>
<circle cx="298.8" cy="1758.2" r="4.3"/>
<circle cx="295.9" cy="1786.1" r="4.3"/>
<circle cx="305.8" cy="1795.3" r="4.3"/>
<circle cx="318.3" cy="1779.2" r="4.3"/>
<circle cx="313.1" cy="1743.1" r="4.3"/>
<circle cx="313.9" cy="1796.7" r="4.3"/>
<circle cx="316.1" cy="1763.6" r="4.3"/>
<circle cx="318.7" cy="1776.4" r="4.3"/>
<circle cx="314.1" cy="1780" r="4.3"/>
<circle cx="296.2" cy="1798.1" r="4.3"/>
<circle cx="294.5" cy="1778.6" r="4.3"/>
<circle cx="302.7" cy="1781" r="4.3"/>
<circle cx="337.9" cy="1786.9" r="4.3"/>
<circle cx="294" cy="1792.1" r="4.3"/>
<circle cx="315.5" cy="1769.9" r="4.3"/>
<circle cx="299.2" cy="1759" r="4.3"/>
<circle cx="322.3" cy="1792.3" r="4.3"/>
<circle cx="317.2" cy="1722.1" r="4.3"/>
<circle cx="329.6" cy="1767.4" r="4.3"/>
<circle cx="308.9" cy="1764.7" r="4.3"/>
<circle cx="305.4" cy="1799.5" r="4.3"/>
<circle cx="335.9" cy="1777.6" r="4.3"/>
<circle cx="305.3" cy="1782.1" r="4.3"/>
<circle cx="298.2" cy="1765.5" r="4.3"/>
<circle cx="316.8" cy="1772.8" r="4.3"/>
<circle cx="325.9" cy="1767.2" r="4.3"/>
<circle cx="352.2" cy="1767.5" r="4.3"/>
<circle cx="318.1" cy="1772" r="4.3"/>
<circle cx="340.6" cy="1773.9" r="4.3"/>
<circle cx="321.7" cy="1785.6" r="4.3"/>
<circle cx="316.9" cy="1787.7" r="4.3"/>
<circle cx="307.8" cy="1791.9" r="4.3"/>
<circle cx="307.5" cy="1734.8" r="4.3"/>
<circle cx="296.4" cy="1764.7" r="4.3"/>
<circle cx="384.4" cy="1743" r="4.3"/>
<circle cx="370.4" cy="1758.6" r="4.3"/>
<circle cx="355.2" cy="1785" r="4.3"/>
<circle cx="330.1" cy="1779.7" r="4.3"/>
<circle cx="305.5" cy="1794.5" r="4.3"/>
<circle cx="292.9" cy="1775.2" r="4.3"/>
<circle cx="301.1" cy="1789" r="4.3"/>
<circle cx="292" cy="1793.6" r="4.3"/>
<circle cx="342.6" cy="1759.9" r="4.3"/>
<circle cx="315.6" cy="1771" r="4.3"/>
<circle cx="333.2" cy="1784.1" r="4.3"/>
<circle cx="319.7" cy="1793.4" r="4.3"/>
<circle cx="307.3" cy="1784.5" r="4.3"/>
<circle cx="302.2" cy="1788.7" r="4.3"/>
<circle cx="294.1" cy="1758.8" r="4.3"/>
<circle cx="338.4" cy="1749.7" r="4.3"/>
<circle cx="301.3" cy="1785.9" r="4.3"/>
<circle cx="315.7" cy="1797.7" r="4.3"/>
<circle cx="306.1" cy="1755.5" r="4.3"/>
<circle cx="334.8" cy="1791.6" r="4.3"/>
<circle cx="347.1" cy="1770.7" r="4.3"/>
<circle cx="311.6" cy="1776.1" r="4.3"/>
<circle cx="353.6" cy="1789.8" r="4.3"/>
<circle cx="321.7" cy="1760.8" r="4.3"/>
<circle cx="300.1" cy="1751.1" r="4.3"/>
<circle cx="344" cy="1743.3" r="4.3"/>
<circle cx="299.7" cy="1799.8" r="4.3"/>
<circle cx="349.5" cy="1786.2" r="4.3"/>
<circle cx="304.3" cy="1777.7" r="4.3"/>
<circle cx="290.8" cy="1777.7" r="4.3"/>
<circle cx="362" cy="1785.8" r="4.3"/>
<circle cx="332.8" cy="1792.4" r="4.3"/>
<circle cx="296.1" cy="1761.2" r="4.3"/>
<circle cx="322.2" cy="1784.2" r="4.3"/>
<circle cx="365.3" cy="1754.8" r="4.3"/>
<circle cx="320.9" cy="1785.3" r="4.3"/>
<circle cx="294.7" cy="1799.9" r="4.3"/>
<circle cx="317.1" cy="1784.5" r="4.3"/>
<circle cx="328" cy="1781.1" r="4.3"/>
<circle cx="319" cy="1780.9" r="4.3"/>
<circle cx="318.2" cy="1792.8" r="4.3"/>
<circle cx="296.3" cy="1794.6" r="4.3"/>
<circle cx="354.5" cy="1776.6" r="4.3"/>
<circle cx="329.6" cy="1790.6" r="4.3"/>
<circle cx="291.6" cy="1789.7" r="4.3"/>
<circle cx="305.4" cy="1774.8" r="4.3"/>
<circle cx="427.9" cy="1766.8" r="4.3"/>
<circle cx="318.2" cy="1785.1" r="4.3"/>
<circle cx="312.7" cy="1775" r="4.3"/>
<circle cx="364.2" cy="1749.3" r="4.3"/>
<circle cx="358.5" cy="1771.6" r="4.3"/>
<circle cx="315" cy="1786.7" r="4.3"/>
<circle cx="338.3" cy="1785.1" r="4.3"/>
<circle cx="323" cy="1766.4" r="4.3"/>
<circle cx="345.9" cy="1739.8" r="4.3"/>
<circle cx="325" cy="1772.9" r="4.3"/>
<circle cx="331.7" cy="1792.5" r="4.3"/>
<circle cx="299.3" cy="1800.7" r="4.3"/>
<circle cx="302.2" cy="1746.4" r="4.3"/>
<circle cx="311.6" cy="1782.6" r="4.3"/>
<circle cx="302.9" cy="1796.9" r="4.3"/>
<circle cx="297" cy="1798.5" r="4.3"/>
<circle cx="312" cy="1771.5" r="4.3"/>
<circle cx="310.8" cy="1783.9" r="4.3"/>
<circle cx="309.8" cy="1794.8" r="4.3"/>
<circle cx="355.9" cy="1770.4" r="4.3"/>
<circle cx="310.5" cy="1796.7" r="4.3"/>
<circle cx="311.9" cy="1783.9" r="4.3"/>
<circle cx="302.3" cy="1786" r="4.3"/>
<circle cx="334" cy="1772.4" r="4.3"/>
<circle cx="288.5" cy="1777.7" r="4.3"/>
<circle cx="310.1" cy="1770.3" r="4.3"/>
<circle cx="320.1" cy="1755.8" r="4.3"/>
<circle cx="305.3" cy="1795.7" r="4.3"/>
<circle cx="324.5" cy="1780.1" r="4.3"/>
<circle cx="341.2" cy="1783.5" r="4.3"/>
<circle cx="315.3" cy="1780.7" r="4.3"/>
<circle cx="290" cy="1785.2" r="4.3"/>
<circle cx="339.6" cy="1747.9" r="4.3"/>
<circle cx="366.1" cy="1725.9" r="4.3"/>
<circle cx="339.6" cy="1737" r="4.3"/>
<circle cx="308.7" cy="1753.4" r="4.3"/>
<circle cx="289.4" cy="1793.7" r="4.3"/>
<circle cx="308.7" cy="1772.2" r="4.3"/>
<circle cx="348" cy="1772" r="4.3"/>
<circle cx="304.2" cy="1763.7" r="4.3"/>
<circle cx="299.7" cy="1787" r="4.3"/>
<circle cx="325.9" cy="1773.2" r="4.3"/>
<circle cx="325.5" cy="1772.4" r="4.3"/>
<circle cx="303" cy="1792.7" r="4.3"/>
<circle cx="340.5" cy="1757.7" r="4.3"/>
<circle cx="302.6" cy="1783.7" r="4.3"/>
<circle cx="334.8" cy="1791.9" r="4.3"/>
<circle cx="313.8" cy="1788.8" r="4.3"/>
<circle cx="316.4" cy="1753.4" r="4.3"/>
<circle cx="301.1" cy="1785.6" r="4.3"/>
<circle cx="293.9" cy="1801.5" r="4.3"/>
<circle cx="293.5" cy="1796.8" r="4.3"/>
<circle cx="332.7" cy="1776" r="4.3"/>
<circle cx="328.5" cy="1783.5" r="4.3"/>
<circle cx="295.2" cy="1790.2" r="4.3"/>
<circle cx="307.2" cy="1772" r="4.3"/>
<circle cx="332.6" cy="1793" r="4.3"/>
<circle cx="296.2" cy="1785.6" r="4.3"/>
<circle cx="332.7" cy="1761.1" r="4.3"/>
<circle cx="305" cy="1796.6" r="4.3"/>
<circle cx="301.6" cy="1787.1" r="4.3"/>
<circle cx="307.6" cy="1750.7" r="4.3"/>
<circle cx="306.9" cy="1796" r="4.3"/>
<circle cx="293.1" cy="1795.9" r="4.3"/>
<circle cx="334.3" cy="1778.6" r="4.3"/>
<circle cx="314.7" cy="1787.3" r="4.3"/>
<circle cx="305.9" cy="1789.2" r="4.3"/>
<circle cx="327.8" cy="1793.1" r="4.3"/>
<circle cx="385.5" cy="1767.8" r="4.3"/>
<circle cx="299.9" cy="1769" r="4.3"/>
<circle cx="307.1" cy="1784.4" r="4.3"/>
<circle cx="315.4" cy="1796.3" r="4.3"/>
<circle cx="288.9" cy="1795.6" r="4.3"/>
<circle cx="301.9" cy="1794.4" r="4.3"/>
<circle cx="309" cy="1789.2" r="4.3"/>
<circle cx="327.7" cy="1788.5" r="4.3"/>
<circle cx="307.6" cy="1734.7" r="4.3"/>
<circle cx="290.3" cy="1789.7" r="4.3"/>
<circle cx="295.4" cy="1791.6" r="4.3"/>
<circle cx="374.1" cy="1780.5" r="4.3"/>
<circle cx="310" cy="1773.1" r="4.3"/>
<circle cx="331.4" cy="1773.1" r="4.3"/>
<circle cx="306.9" cy="1748.1" r="4.3"/>
<circle cx="394.4" cy="1778.3" r="4.3"/>
<circle cx="319.9" cy="1767.1" r="4.3"/>
<circle cx="319" cy="1786" r="4.3"/>
<circle cx="343.4" cy="1772.9" r="4.3"/>
<circle cx="311.5" cy="1773.9" r="4.3"/>
<circle cx="300.9" cy="1790.4" r="4.3"/>
<circle cx="326.1" cy="1782.4" r="4.3"/>
<circle cx="314.7" cy="1773.3" r="4.3"/>
<circle cx="332.1" cy="1776.8" r="4.3"/>
<circle cx="310.3" cy="1791" r="4.3"/>
<circle cx="308.8" cy="1769.6" r="4.3"/>
<circle cx="299.9" cy="1789.7" r="4.3"/>
<circle cx="376.6" cy="1775.6" r="4.3"/>
<circle cx="356" cy="1779" r="4.3"/>
<circle cx="364.8" cy="1772.9" r="4.3"/>
<circle cx="336.9" cy="1773.3" r="4.3"/>
<circle cx="297.3" cy="1793.9" r="4.3"/>
<circle cx="317" cy="1748.1" r="4.3"/>
<circle cx="349" cy="1784.3" r="4.3"/>
<circle cx="344.1" cy="1775.2" r="4.3"/>
<circle cx="309.8" cy="1794.5" r="4.3"/>
<circle cx="289.5" cy="1788.1" r="4.3"/>
<circle cx="311.7" cy="1777.1" r="4.3"/>
<circle cx="290.5" cy="1774.7" r="4.3"/>
<circle cx="330.4" cy="1780.8" r="4.3"/>
<circle cx="299.3" cy="1777.6" r="4.3"/>
<circle cx="295" cy="1801" r="4.3"/>
<circle cx="318.2" cy="1794.7" r="4.3"/>
<circle cx="304.3" cy="1798.1" r="4.3"/>
<circle cx="298.4" cy="1786.6" r="4.3"/>
<circle cx="295.4" cy="1783.9" r="4.3"/>
<circle cx="296.3" cy="1786" r="4.3"/>
<circle cx="317" cy="1778.1" r="4.3"/>
<circle cx="311.4" cy="1777.9" r="4.3"/>
<circle cx="326.6" cy="1785.6" r="4.3"/>
<circle cx="315.6" cy="1760.7" r="4.3"/>
<circle cx="331" cy="1788.5" r="4.3"/>
<circle cx="315.7" cy="1791.5" r="4.3"/>
<circle cx="311" cy="1790.6" r="4.3"/>
<circle cx="303.8" cy="1790.3" r="4.3"/>
<circle cx="344.1" cy="1784.4" r="4.3"/>
<circle cx="295.1" cy="1790.8" r="4.3"/>
<circle cx="302.6" cy="1783.3" r="4.3"/>
<circle cx="343.4" cy="1778.4" r="4.3"/>
<circle cx="355.1" cy="1787" r="4.3"/>
<circle cx="302.1" cy="1795.8" r="4.3"/>
<circle cx="304.9" cy="1786.1" r="4.3"/>
<circle cx="359" cy="1783.4" r="4.3"/>
<circle cx="340" cy="1757.4" r="4.3"/>
<circle cx="374.9" cy="1747.5" r="4.3"/>
<circle cx="310.8" cy="1752.1" r="4.3"/>
<circle cx="301.9" cy="1785.4" r="4.3"/>
<circle cx="307.4" cy="1767.4" r="4.3"/>
<circle cx="298.2" cy="1797.6" r="4.3"/>
<circle cx="325.1" cy="1788.7" r="4.3"/>
<circle cx="300.6" cy="1795" r="4.3"/>
<circle cx="306.2" cy="1782.7" r="4.3"/>
<circle cx="376.4" cy="1772" r="4.3"/>
<circle cx="309.5" cy="1775.4" r="4.3"/>
<circle cx="345.3" cy="1758.3" r="4.3"/>
<circle cx="348" cy="1723" r="4.3"/>
<circle cx="376.6" cy="1734.8" r="4.3"/>
<circle cx="292.7" cy="1711.6" r="4.3"/>
<circle cx="412.7" cy="1761.3" r="4.3"/>
<circle cx="394.9" cy="1756.3" r="4.3"/>
<circle cx="293.9" cy="1746.8" r="4.3"/>
<circle cx="318.1" cy="1711.9" r="4.3"/>
<circle cx="328.1" cy="1780.2" r="4.3"/>
<circle cx="341.9" cy="1747.9" r="4.3"/>
<circle cx="342.9" cy="1789.5" r="4.3"/>
<circle cx="322.5" cy="1766.3" r="4.3"/>
<circle cx="338" cy="1745.1" r="4.3"/>
<circle cx="292.1" cy="1714.6" r="4.3"/>
<circle cx="367.1" cy="1729.4" r="4.3"/>
<circle cx="356" cy="1769.9" r="4.3"/>
<circle cx="326.8" cy="1782" r="4.3"/>
<circle cx="321.7" cy="1710.5" r="4.3"/>
<circle cx="311.2" cy="1769.8" r="4.3"/>
<circle cx="327.2" cy="1779.1" r="4.3"/>
<circle cx="328.4" cy="1707.2" r="4.3"/>
<circle cx="290.1" cy="1757.5" r="4.3"/>
<circle cx="370.6" cy="1740.1" r="4.3"/>
<circle cx="305.5" cy="1739.6" r="4.3"/>
<circle cx="377.5" cy="1793.6" r="4.3"/>
<circle cx="353.6" cy="1790.9" r="4.3"/>
<circle cx="395.8" cy="1782.5" r="4.3"/>
<circle cx="310.1" cy="1719.8" r="4.3"/>
<circle cx="311" cy="1693.9" r="4.3"/>
<circle cx="345.9" cy="1740.8" r="4.3"/>
<circle cx="317.3" cy="1769.6" r="4.3"/>
<circle cx="348.8" cy="1717.9" r="4.3"/>
<circle cx="363.8" cy="1726.9" r="4.3"/>
<circle cx="336.1" cy="1760.6" r="4.3"/>
<circle cx="354.8" cy="1737.8" r="4.3"/>
<circle cx="347.5" cy="1750.3" r="4.3"/>
<circle cx="318.8" cy="1761.8" r="4.3"/>
<circle cx="389.5" cy="1702.7" r="4.3"/>
<circle cx="327.7" cy="1724.3" r="4.3"/>
<circle cx="340.9" cy="1742.8" r="4.3"/>
<circle cx="308" cy="1798.5" r="4.3"/>
<circle cx="356" cy="1745.3" r="4.3"/>
<circle cx="363.7" cy="1766.5" r="4.3"/>
<circle cx="295.9" cy="1800.7" r="4.3"/>
<circle cx="422.1" cy="1743.9" r="4.3"/>
<circle cx="295.8" cy="1767" r="4.3"/>
<circle cx="316.3" cy="1756.4" r="4.3"/>
<circle cx="312.1" cy="1779.1" r="4.3"/>
<circle cx="326.5" cy="1711" r="4.3"/>
<circle cx="325.9" cy="1750.8" r="4.3"/>
<circle cx="300" cy="1744" r="4.3"/>
<circle cx="433.6" cy="1788" r="4.3"/>
<circle cx="401.4" cy="1766.6" r="4.3"/>
<circle cx="342.9" cy="1695.7" r="4.3"/>
<circle cx="313" cy="1770.9" r="4.3"/>
<circle cx="375.4" cy="1773.5" r="4.3"/>
<circle cx="440.5" cy="1714.2" r="4.3"/>
<circle cx="308" cy="1748.1" r="4.3"/>
<circle cx="334.6" cy="1763" r="4.3"/>
<circle cx="322.1" cy="1775.5" r="4.3"/>
<circle cx="317" cy="1775.8" r="4.3"/>
<circle cx="354" cy="1758.4" r="4.3"/>
<circle cx="373" cy="1794" r="4.3"/>
<circle cx="346.3" cy="1713.9" r="4.3"/>
<circle cx="310.2" cy="1777.9" r="4.3"/>
<circle cx="337.1" cy="1766.6" r="4.3"/>
<circle cx="391.9" cy="1771" r="4.3"/>
<circle cx="346.4" cy="1785.1" r="4.3"/>
<circle cx="354" cy="1800.6" r="4.3"/>
<circle cx="307.7" cy="1777.7" r="4.3"/>
<circle cx="356.8" cy="1715.9" r="4.3"/>
<circle cx="371.7" cy="1781.6" r="4.3"/>
<circle cx="308.8" cy="1773.3" r="4.3"/>
<circle cx="440.3" cy="1793.2" r="4.3"/>
<circle cx="337.4" cy="1754.1" r="4.3"/>
<circle cx="383" cy="1737.4" r="4.3"/>
<circle cx="324.4" cy="1788.4" r="4.3"/>
<circle cx="315.2" cy="1735.4" r="4.3"/>
<circle cx="327.7" cy="1729.3" r="4.3"/>
<circle cx="323.4" cy="1784" r="4.3"/>
<circle cx="415.6" cy="1798" r="4.3"/>
<circle cx="416.8" cy="1749.8" r="4.3"/>
<circle cx="291.7" cy="1741.4" r="4.3"/>
<circle cx="362.2" cy="1748" r="4.3"/>
<circle cx="350.6" cy="1716.9" r="4.3"/>
<circle cx="416.7" cy="1795.1" r="4.3"/>
<circle cx="315.1" cy="1759.2" r="4.3"/>
<circle cx="359.9" cy="1698.2" r="4.3"/>
<circle cx="374.9" cy="1721.7" r="4.3"/>
<circle cx="437.4" cy="1705.1" r="4.3"/>
<circle cx="380.7" cy="1743.8" r="4.3"/>
<circle cx="326.3" cy="1700.1" r="4.3"/>
<circle cx="368.8" cy="1744" r="4.3"/>
<circle cx="348.7" cy="1719.7" r="4.3"/>
<circle cx="386.2" cy="1770.5" r="4.3"/>
<circle cx="321" cy="1787.1" r="4.3"/>
<circle cx="313.4" cy="1684.4" r="4.3"/>
<circle cx="312.3" cy="1728.1" r="4.3"/>
<circle cx="379.6" cy="1759.3" r="4.3"/>
<circle cx="348.4" cy="1731.5" r="4.3"/>
<circle cx="325.7" cy="1751.1" r="4.3"/>
<circle cx="384.6" cy="1788.9" r="4.3"/>
<circle cx="304.5" cy="1793.3" r="4.3"/>
<circle cx="293.3" cy="1682.5" r="4.3"/>
<circle cx="396.1" cy="1742.3" r="4.3"/>
<circle cx="317.5" cy="1785.8" r="4.3"/>
<circle cx="289.6" cy="1763.6" r="4.3"/>
<circle cx="306" cy="1791.9" r="4.3"/>
<circle cx="307.5" cy="1786.9" r="4.3"/>
<circle cx="303.2" cy="1799.1" r="4.3"/>
<circle cx="428.3" cy="1698.5" r="4.3"/>
<circle cx="335.4" cy="1694.9" r="4.3"/>
<circle cx="352.9" cy="1770.9" r="4.3"/>
<circle cx="293" cy="1709.5" r="4.3"/>
<circle cx="337.9" cy="1757.6" r="4.3"/>
<circle cx="325.8" cy="1785.7" r="4.3"/>
<circle cx="303.9" cy="1783.9" r="4.3"/>
<circle cx="314.9" cy="1775.5" r="4.3"/>
<circle cx="295.6" cy="1765.8" r="4.3"/>
<circle cx="344.1" cy="1749" r="4.3"/>
<circle cx="344.5" cy="1801.1" r="4.3"/>
<circle cx="314.9" cy="1790.2" r="4.3"/>
<circle cx="293.9" cy="1764.8" r="4.3"/>
<circle cx="405" cy="1698.8" r="4.3"/>
<circle cx="303.7" cy="1724.5" r="4.3"/>
<circle cx="378.6" cy="1783.4" r="4.3"/>
<circle cx="296.3" cy="1714" r="4.3"/>
<circle cx="340.1" cy="1723.2" r="4.3"/>
<circle cx="316.8" cy="1777.6" r="4.3"/>
<circle cx="303.1" cy="1767.3" r="4.3"/>
<circle cx="352.9" cy="1714.6" r="4.3"/>
<circle cx="331.3" cy="1776" r="4.3"/>
<circle cx="299.5" cy="1793.6" r="4.3"/>
<circle cx="351" cy="1797.6" r="4.3"/>
<circle cx="369.8" cy="1797.2" r="4.3"/>
<circle cx="347.1" cy="1789.2" r="4.3"/>
<circle cx="319.8" cy="1795.7" r="4.3"/>
<circle cx="312.2" cy="1755.8" r="4.3"/>
<circle cx="402.8" cy="1712.4" r="4.3"/>
<circle cx="398" cy="1773.6" r="4.3"/>
<circle cx="362.1" cy="1765.6" r="4.3"/>
<circle cx="433.5" cy="1747.6" r="4.3"/>
<circle cx="329.7" cy="1708" r="4.3"/>
<circle cx="359.8" cy="1719.3" r="4.3"/>
<circle cx="320.3" cy="1710.1" r="4.3"/>
<circle cx="300.5" cy="1787.3" r="4.3"/>
<circle cx="341.5" cy="1684.7" r="4.3"/>
<circle cx="328.8" cy="1782" r="4.3"/>
<circle cx="316.3" cy="1727.5" r="4.3"/>
<circle cx="304.3" cy="1778.1" r="4.3"/>
<circle cx="311.2" cy="1735.7" r="4.3"/>
<circle cx="384.7" cy="1799.6" r="4.3"/>
<circle cx="333.7" cy="1724.3" r="4.3"/>
<circle cx="395.4" cy="1706.6" r="4.3"/>
<circle cx="340.9" cy="1786.5" r="4.3"/>
<circle cx="308.5" cy="1756.5" r="4.3"/>
<circle cx="325.8" cy="1796.6" r="4.3"/>
<circle cx="386" cy="1757.1" r="4.3"/>
<circle cx="449.6" cy="1795.1" r="4.3"/>
<circle cx="295.8" cy="1741.7" r="4.3"/>
<circle cx="296.1" cy="1745" r="4.3"/>
<circle cx="297.6" cy="1760.5" r="4.3"/>
<circle cx="389.6" cy="1767.2" r="4.3"/>
<circle cx="342.7" cy="1795.4" r="4.3"/>
<circle cx="327.8" cy="1742.2" r="4.3"/>
<circle cx="307.9" cy="1762" r="4.3"/>
<circle cx="332.2" cy="1784.8" r="4.3"/>
<circle cx="358.1" cy="1786.2" r="4.3"/>
<circle cx="312.5" cy="1754.1" r="4.3"/>
<circle cx="356.8" cy="1716" r="4.3"/>
<circle cx="304.7" cy="1788" r="4.3"/>
<circle cx="310.4" cy="1773.3" r="4.3"/>
<circle cx="296.3" cy="1752.9" r="4.3"/>
<circle cx="291.2" cy="1783.9" r="4.3"/>
<circle cx="354.2" cy="1791.1" r="4.3"/>
<circle cx="389.3" cy="1768.9" r="4.3"/>
<circle cx="435.7" cy="1753.6" r="4.3"/>
<circle cx="298.5" cy="1770.7" r="4.3"/>
<circle cx="354.7" cy="1772.4" r="4.3"/>
<circle cx="322.6" cy="1759.5" r="4.3"/>
<circle cx="320.6" cy="1705.7" r="4.3"/>
<circle cx="384.8" cy="1798.9" r="4.3"/>
<circle cx="339.9" cy="1781.9" r="4.3"/>
<circle cx="339.9" cy="1792.4" r="4.3"/>
<circle cx="411.9" cy="1784.3" r="4.3"/>
<circle cx="372.6" cy="1704.3" r="4.3"/>
<circle cx="319" cy="1716.3" r="4.3"/>
<circle cx="313.1" cy="1754.2" r="4.3"/>
<circle cx="362.4" cy="1721.2" r="4.3"/>
<circle cx="301.9" cy="1751.6" r="4.3"/>
<circle cx="403.2" cy="1702.2" r="4.3"/>
<circle cx="404.1" cy="1693.7" r="4.3"/>
<circle cx="305.5" cy="1720.1" r="4.3"/>
<circle cx="337.5" cy="1790.6" r="4.3"/>
<circle cx="380.7" cy="1748.4" r="4.3"/>
<circle cx="367.7" cy="1756.4" r="4.3"/>
<circle cx="331.9" cy="1746.2" r="4.3"/>
<circle cx="303.2" cy="1690.5" r="4.3"/>
<circle cx="359.2" cy="1700.1" r="4.3"/>
<circle cx="327.6" cy="1767.7" r="4.3"/>
<circle cx="299.1" cy="1783.1" r="4.3"/>
<circle cx="324.4" cy="1761.4" r="4.3"/>
<circle cx="435.1" cy="1695.2" r="4.3"/>
<circle cx="301.8" cy="1768.3" r="4.3"/>
<circle cx="356.3" cy="1762.5" r="4.3"/>
<circle cx="382" cy="1746.5" r="4.3"/>
<circle cx="345.2" cy="1708.9" r="4.3"/>
<circle cx="386.4" cy="1758.8" r="4.3"/>
<circle cx="324.9" cy="1791.6" r="4.3"/>
<circle cx="302.7" cy="1769" r="4.3"/>
<circle cx="360.1" cy="1738.4" r="4.3"/>
<circle cx="364" cy="1757.6" r="4.3"/>
<circle cx="298.9" cy="1715.9" r="4.3"/>
<circle cx="446.4" cy="1745.9" r="4.3"/>
<circle cx="292.1" cy="1722.6" r="4.3"/>
<circle cx="445" cy="1727.4" r="4.3"/>
<circle cx="367.4" cy="1797.1" r="4.3"/>
<circle cx="359.8" cy="1694.6" r="4.3"/>
<circle cx="347.2" cy="1709" r="4.3"/>
<circle cx="317" cy="1745.2" r="4.3"/>
<circle cx="320.1" cy="1692.5" r="4.3"/>
<circle cx="402.5" cy="1774.2" r="4.3"/>
<circle cx="307" cy="1743.5" r="4.3"/>
<circle cx="379.8" cy="1695.5" r="4.3"/>
<circle cx="351.1" cy="1693.9" r="4.3"/>
<circle cx="375.2" cy="1774.7" r="4.3"/>
<circle cx="321.8" cy="1747.7" r="4.3"/>
<circle cx="418.9" cy="1767.3" r="4.3"/>
<circle cx="350.9" cy="1693.1" r="4.3"/>
<circle cx="350.4" cy="1710.6" r="4.3"/>
<circle cx="330.4" cy="1771.4" r="4.3"/>
<circle cx="319.8" cy="1773.7" r="4.3"/>
<circle cx="301" cy="1723.9" r="4.3"/>
<circle cx="417.3" cy="1739.1" r="4.3"/>
<circle cx="409.5" cy="1760.3" r="4.3"/>
<circle cx="431.8" cy="1743.3" r="4.3"/>
<circle cx="361.5" cy="1694.2" r="4.3"/>
<circle cx="311" cy="1784" r="4.3"/>
<circle cx="294.9" cy="1761.9" r="4.3"/>
<circle cx="322.8" cy="1769.2" r="4.3"/>
<circle cx="370.2" cy="1743" r="4.3"/>
<circle cx="312.3" cy="1795.8" r="4.3"/>
<circle cx="321.6" cy="1703.6" r="4.3"/>
<circle cx="340.3" cy="1754.9" r="4.3"/>
<circle cx="351.7" cy="1715.1" r="4.3"/>
<circle cx="331" cy="1775.8" r="4.3"/>
<circle cx="365.3" cy="1739.8" r="4.3"/>
<circle cx="416.3" cy="1708.2" r="4.3"/>
<circle cx="304.2" cy="1743.1" r="4.3"/>
<circle cx="465.1" cy="1783.9" r="4.3"/>
<circle cx="368.4" cy="1727.4" r="4.3"/>
<circle cx="350.3" cy="1797.7" r="4.3"/>
<circle cx="338.3" cy="1710" r="4.3"/>
<circle cx="318.5" cy="1776.6" r="4.3"/>
<circle cx="425.1" cy="1737.3" r="4.3"/>
<circle cx="389.4" cy="1779.6" r="4.3"/>
<circle cx="376.9" cy="1777.6" r="4.3"/>
<circle cx="334.3" cy="1796.2" r="4.3"/>
<circle cx="386" cy="1730.5" r="4.3"/>
<circle cx="370.2" cy="1772.3" r="4.3"/>
<circle cx="327.6" cy="1722.4" r="4.3"/>
<circle cx="303.9" cy="1759.1" r="4.3"/>
<circle cx="292.2" cy="1749.6" r="4.3"/>
<circle cx="309.8" cy="1759.9" r="4.3"/>
<circle cx="296.6" cy="1739.7" r="4.3"/>
<circle cx="306.5" cy="1777.7" r="4.3"/>
<circle cx="293.9" cy="1801.9" r="4.3"/>
<circle cx="418.6" cy="1771.7" r="4.3"/>
<circle cx="333.9" cy="1715.6" r="4.3"/>
<circle cx="356.3" cy="1728" r="4.3"/>
<circle cx="312.2" cy="1741.9" r="4.3"/>
<circle cx="384.4" cy="1760.6" r="4.3"/>
<circle cx="387.3" cy="1754.1" r="4.3"/>
<circle cx="456.8" cy="1727.8" r="4.3"/>
<circle cx="299.4" cy="1758" r="4.3"/>
<circle cx="334.8" cy="1743.7" r="4.3"/>
<circle cx="368.6" cy="1743.4" r="4.3"/>
<circle cx="340.3" cy="1798.5" r="4.3"/>
<circle cx="308.7" cy="1782.9" r="4.3"/>
<circle cx="345.3" cy="1762.2" r="4.3"/>
<circle cx="331.8" cy="1711.3" r="4.3"/>
<circle cx="374.4" cy="1708" r="4.3"/>
<circle cx="323" cy="1775.1" r="4.3"/>
<circle cx="336.3" cy="1757.7" r="4.3"/>
<circle cx="346.1" cy="1776.7" r="4.3"/>
<circle cx="376.7" cy="1724.8" r="4.3"/>
<circle cx="320.1" cy="1774" r="4.3"/>
<circle cx="387" cy="1781.4" r="4.3"/>
<circle cx="375.1" cy="1793" r="4.3"/>
<circle cx="316.4" cy="1791.6" r="4.3"/>
<circle cx="395.9" cy="1723.2" r="4.3"/>
<circle cx="290.1" cy="1746" r="4.3"/>
<circle cx="323.8" cy="1733.6" r="4.3"/>
<circle cx="318.2" cy="1779.3" r="4.3"/>
<circle cx="391.4" cy="1776.7" r="4.3"/>
<circle cx="302.3" cy="1746.3" r="4.3"/>
<circle cx="302.7" cy="1743.2" r="4.3"/>
<circle cx="316.8" cy="1764.5" r="4.3"/>
<circle cx="432" cy="1772.7" r="4.3"/>
<circle cx="386.1" cy="1785.9" r="4.3"/>
<circle cx="366.8" cy="1787.6" r="4.3"/>
<circle cx="367.1" cy="1767" r="4.3"/>
<circle cx="303.5" cy="1702" r="4.3"/>
<circle cx="318.5" cy="1721.1" r="4.3"/>
<circle cx="306.7" cy="1776" r="4.3"/>
<circle cx="329.1" cy="1752" r="4.3"/>
<circle cx="361.6" cy="1715.2" r="4.3"/>
<circle cx="416" cy="1774.8" r="4.3"/>
<circle cx="316.6" cy="1763.9" r="4.3"/>
<circle cx="401.6" cy="1772.6" r="4.3"/>
<circle cx="362" cy="1780.8" r="4.3"/>
<circle cx="342.4" cy="1771.3" r="4.3"/>
<circle cx="338" cy="1773.9" r="4.3"/>
<circle cx="409.4" cy="1773.2" r="4.3"/>
<circle cx="328.3" cy="1735.8" r="4.3"/>
<circle cx="431.9" cy="1739.9" r="4.3"/>
<circle cx="389.6" cy="1761.5" r="4.3"/>
<circle cx="390.4" cy="1760.4" r="4.3"/>
<circle cx="338.2" cy="1779.4" r="4.3"/>
<circle cx="373.1" cy="1780.8" r="4.3"/>
<circle cx="411.1" cy="1756.4" r="4.3"/>
<circle cx="354.7" cy="1755.2" r="4.3"/>
<circle cx="378.1" cy="1800.5" r="4.3"/>
<circle cx="368.9" cy="1689.5" r="4.3"/>
<circle cx="385.7" cy="1752.8" r="4.3"/>
<circle cx="297.2" cy="1698.9" r="4.3"/>
<circle cx="381.3" cy="1774.1" r="4.3"/>
<circle cx="394.7" cy="1721.5" r="4.3"/>
<circle cx="350.2" cy="1784" r="4.3"/>
<circle cx="333.4" cy="1762.8" r="4.3"/>
<circle cx="312.7" cy="1708.5" r="4.3"/>
<circle cx="403.1" cy="1707.2" r="4.3"/>
<circle cx="374.3" cy="1691.2" r="4.3"/>
<circle cx="327.1" cy="1766.7" r="4.3"/>
<circle cx="339.4" cy="1769" r="4.3"/>
<circle cx="302.6" cy="1793" r="4.3"/>
<circle cx="290.6" cy="1779.8" r="4.3"/>
<circle cx="369.3" cy="1778.3" r="4.3"/>
<circle cx="314.2" cy="1762.5" r="4.3"/>
<circle cx="367.6" cy="1771.9" r="4.3"/>
<circle cx="400.6" cy="1772.1" r="4.3"/>
<circle cx="373.2" cy="1700.4" r="4.3"/>
<circle cx="406.1" cy="1755.1" r="4.3"/>
<circle cx="398" cy="1761.7" r="4.3"/>
<circle cx="350.6" cy="1715.7" r="4.3"/>
<circle cx="348.3" cy="1733.4" r="4.3"/>
<circle cx="310.8" cy="1713.8" r="4.3"/>
<circle cx="315.8" cy="1772.5" r="4.3"/>
<circle cx="382.3" cy="1784.9" r="4.3"/>
<circle cx="318.2" cy="1704.3" r="4.3"/>
<circle cx="295.1" cy="1776.2" r="4.3"/>
<circle cx="413.2" cy="1764.1" r="4.3"/>
<circle cx="322.1" cy="1786.3" r="4.3"/>
<circle cx="288.4" cy="1784" r="4.3"/>
<circle cx="339.1" cy="1743" r="4.3"/>
<circle cx="326.1" cy="1789.6" r="4.3"/>
<circle cx="336.8" cy="1702.7" r="4.3"/>
<circle cx="363.5" cy="1712.7" r="4.3"/>
<circle cx="355.1" cy="1794.6" r="4.3"/>
<circle cx="320.2" cy="1761.2" r="4.3"/>
<circle cx="396.2" cy="1754.8" r="4.3"/>
<circle cx="409" cy="1769.1" r="4.3"/>
<circle cx="335.9" cy="1781.4" r="4.3"/>
<circle cx="306.1" cy="1741.8" r="4.3"/>
<circle cx="326.9" cy="1729.3" r="4.3"/>
<circle cx="313.7" cy="1794" r="4.3"/>
<circle cx="329.9" cy="1708.9" r="4.3"/>
<circle cx="356.4" cy="1700.8" r="4.3"/>
<circle cx="395.7" cy="1784.5" r="4.3"/>
<circle cx="402.4" cy="1744.6" r="4.3"/>
<circle cx="366.2" cy="1794.8" r="4.3"/>
<circle cx="397.1" cy="1774.1" r="4.3"/>
<circle cx="300.8" cy="1728.2" r="4.3"/>
<circle cx="327.1" cy="1732.1" r="4.3"/>
<circle cx="408.2" cy="1765.2" r="4.3"/>
<circle cx="345.8" cy="1750.3" r="4.3"/>
<circle cx="323.4" cy="1734.1" r="4.3"/>
<circle cx="301.8" cy="1772" r="4.3"/>
<circle cx="300.5" cy="1773.9" r="4.3"/>
<circle cx="354.4" cy="1789.6" r="4.3"/>
<circle cx="410.9" cy="1716.8" r="4.3"/>
<circle cx="387.6" cy="1733.4" r="4.3"/>
<circle cx="314.9" cy="1759.1" r="4.3"/>
<circle cx="294.4" cy="1690" r="4.3"/>
<circle cx="315.7" cy="1757.3" r="4.3"/>
<circle cx="315.7" cy="1740.3" r="4.3"/>
<circle cx="349.3" cy="1724.2" r="4.3"/>
<circle cx="316.9" cy="1741.7" r="4.3"/>
<circle cx="331.6" cy="1796.8" r="4.3"/>
<circle cx="319" cy="1763.9" r="4.3"/>
<circle cx="387.4" cy="1731.5" r="4.3"/>
<circle cx="340.8" cy="1741.5" r="4.3"/>
<circle cx="344.5" cy="1760" r="4.3"/>
<circle cx="419.4" cy="1737.1" r="4.3"/>
<circle cx="362.4" cy="1736.8" r="4.3"/>
<circle cx="342.8" cy="1770.6" r="4.3"/>
<circle cx="327.1" cy="1698.5" r="4.3"/>
<circle cx="298.5" cy="1713.9" r="4.3"/>
<circle cx="425.2" cy="1721.3" r="4.3"/>
<circle cx="352.8" cy="1786.9" r="4.3"/>
<circle cx="329" cy="1702" r="4.3"/>
<circle cx="327.4" cy="1709.1" r="4.3"/>
<circle cx="409.3" cy="1721.9" r="4.3"/>
<circle cx="312.1" cy="1795.7" r="4.3"/>
<circle cx="359.6" cy="1709.6" r="4.3"/>
<circle cx="336.2" cy="1788.1" r="4.3"/>
<circle cx="298.1" cy="1715.4" r="4.3"/>
<circle cx="362" cy="1782.4" r="4.3"/>
<circle cx="314.3" cy="1758.8" r="4.3"/>
<circle cx="348.1" cy="1766.6" r="4.3"/>
<circle cx="300.5" cy="1764" r="4.3"/>
<circle cx="305.9" cy="1755.3" r="4.3"/>
<circle cx="292.4" cy="1731.5" r="4.3"/>
<circle cx="371.8" cy="1774.6" r="4.3"/>
<circle cx="348.4" cy="1756" r="4.3"/>
<circle cx="303.3" cy="1738.4" r="4.3"/>
<circle cx="344" cy="1745.6" r="4.3"/>
<circle cx="295.4" cy="1701.5" r="4.3"/>
<circle cx="363.3" cy="1728.2" r="4.3"/>
<circle cx="368.8" cy="1757.5" r="4.3"/>
<circle cx="327.3" cy="1716.2" r="4.3"/>
<circle cx="415.2" cy="1729.4" r="4.3"/>
<circle cx="296.3" cy="1746.3" r="4.3"/>
<circle cx="325.5" cy="1698.9" r="4.3"/>
<circle cx="307" cy="1786.7" r="4.3"/>
<circle cx="327.7" cy="1772.3" r="4.3"/>
<circle cx="415.4" cy="1794" r="4.3"/>
<circle cx="305.8" cy="1727.7" r="4.3"/>
<circle cx="346" cy="1775.5" r="4.3"/>
<circle cx="365.6" cy="1738.1" r="4.3"/>
<circle cx="313.5" cy="1763.7" r="4.3"/>
<circle cx="309.6" cy="1690.3" r="4.3"/>
<circle cx="316" cy="1734.8" r="4.3"/>
<circle cx="385.5" cy="1790.5" r="4.3"/>
<circle cx="293" cy="1783.7" r="4.3"/>
<circle cx="292.9" cy="1792.1" r="4.3"/>
<circle cx="393.1" cy="1780.3" r="4.3"/>
<circle cx="329.2" cy="1769.9" r="4.3"/>
<circle cx="305.4" cy="1735.5" r="4.3"/>
<circle cx="365.3" cy="1789.1" r="4.3"/>
<circle cx="342.6" cy="1755" r="4.3"/>
<circle cx="294.1" cy="1713.9" r="4.3"/>
<circle cx="367.7" cy="1787.1" r="4.3"/>
<circle cx="345.3" cy="1783.2" r="4.3"/>
<circle cx="350.9" cy="1748.5" r="4.3"/>
<circle cx="304.4" cy="1779.7" r="4.3"/>
<circle cx="373.9" cy="1778.3" r="4.3"/>
<circle cx="304" cy="1692.5" r="4.3"/>
<circle cx="422.6" cy="1747.3" r="4.3"/>
<circle cx="379.5" cy="1717.9" r="4.3"/>
<circle cx="313.6" cy="1760.2" r="4.3"/>
<circle cx="345" cy="1775.9" r="4.3"/>
<circle cx="345.3" cy="1759.4" r="4.3"/>
<circle cx="347.6" cy="1708.2" r="4.3"/>
<circle cx="338.6" cy="1754.8" r="4.3"/>
<circle cx="354.2" cy="1747.3" r="4.3"/>
<circle cx="364.8" cy="1780.1" r="4.3"/>
<circle cx="309.9" cy="1774.4" r="4.3"/>
<circle cx="294" cy="1748.2" r="4.3"/>
<circle cx="318.9" cy="1743.3" r="4.3"/>
<circle cx="318.1" cy="1786.9" r="4.3"/>
<circle cx="307.8" cy="1704.9" r="4.3"/>
<circle cx="320.5" cy="1785.6" r="4.3"/>
<circle cx="351.1" cy="1736.7" r="4.3"/>
<circle cx="309.1" cy="1782.8" r="4.3"/>
<circle cx="409.1" cy="1767.5" r="4.3"/>
<circle cx="394.2" cy="1739.5" r="4.3"/>
<circle cx="321.4" cy="1788.7" r="4.3"/>
<circle cx="331.6" cy="1783.1" r="4.3"/>
<circle cx="324.2" cy="1783.4" r="4.3"/>
<circle cx="289.2" cy="1797.4" r="4.3"/>
<circle cx="376.9" cy="1793.8" r="4.3"/>
<circle cx="307.3" cy="1748" r="4.3"/>
<circle cx="319.4" cy="1747.2" r="4.3"/>
<circle cx="305.5" cy="1704.7" r="4.3"/>
<circle cx="360.4" cy="1795.1" r="4.3"/>
<circle cx="432.9" cy="1727" r="4.3"/>
<circle cx="347.7" cy="1796.9" r="4.3"/>
<circle cx="307.6" cy="1783.2" r="4.3"/>
<circle cx="432.1" cy="1756.5" r="4.3"/>
<circle cx="305.7" cy="1755.5" r="4.3"/>
<circle cx="316.6" cy="1725.8" r="4.3"/>
<circle cx="389.8" cy="1764.2" r="4.3"/>
<circle cx="320.8" cy="1735.8" r="4.3"/>
<circle cx="395.1" cy="1777.3" r="4.3"/>
<circle cx="296.6" cy="1740.2" r="4.3"/>
<circle cx="445.7" cy="1707.3" r="4.3"/>
<circle cx="325.4" cy="1737.3" r="4.3"/>
<circle cx="340.9" cy="1761.6" r="4.3"/>
<circle cx="320.9" cy="1691.9" r="4.3"/>
<circle cx="424.9" cy="1747.7" r="4.3"/>
<circle cx="308.1" cy="1723.3" r="4.3"/>
<circle cx="301.9" cy="1773.5" r="4.3"/>
<circle cx="386.4" cy="1799.2" r="4.3"/>
<circle cx="299.3" cy="1782.6" r="4.3"/>
<circle cx="342.4" cy="1795.5" r="4.3"/>
<circle cx="310" cy="1695.2" r="4.3"/>
<circle cx="336.5" cy="1771.6" r="4.3"/>
<circle cx="291.3" cy="1690.1" r="4.3"/>
<circle cx="402.3" cy="1721.6" r="4.3"/>
<circle cx="319.6" cy="1772.6" r="4.3"/>
<circle cx="330.3" cy="1743.9" r="4.3"/>
<circle cx="397" cy="1751" r="4.3"/>
<circle cx="322.1" cy="1728.8" r="4.3"/>
<circle cx="314.5" cy="1774.7" r="4.3"/>
<circle cx="322.8" cy="1802.8" r="4.3"/>
<circle cx="297.5" cy="1711.5" r="4.3"/>
<circle cx="383.2" cy="1690.3" r="4.3"/>
<circle cx="341.6" cy="1761.4" r="4.3"/>
<circle cx="401.9" cy="1691.6" r="4.3"/>
<circle cx="333.3" cy="1784.1" r="4.3"/>
<circle cx="351.5" cy="1739.4" r="4.3"/>
<circle cx="293.9" cy="1778.8" r="4.3"/>
<circle cx="330.1" cy="1775.8" r="4.3"/>
<circle cx="399.9" cy="1770.2" r="4.3"/>
<circle cx="337.7" cy="1732.1" r="4.3"/>
<circle cx="409.5" cy="1709" r="4.3"/>
<circle cx="354.1" cy="1751.4" r="4.3"/>
<circle cx="333" cy="1727.9" r="4.3"/>
<circle cx="386.3" cy="1765.1" r="4.3"/>
<circle cx="345" cy="1778.3" r="4.3"/>
<circle cx="337.3" cy="1702.9" r="4.3"/>
<circle cx="309" cy="1763.4" r="4.3"/>
<circle cx="328.7" cy="1798.5" r="4.3"/>
<circle cx="360.5" cy="1765.8" r="4.3"/>
<circle cx="297.1" cy="1756.3" r="4.3"/>
<circle cx="323.3" cy="1744.3" r="4.3"/>
<circle cx="334.6" cy="1789.6" r="4.3"/>
<circle cx="347" cy="1794.3" r="4.3"/>
<circle cx="377.3" cy="1761.1" r="4.3"/>
<circle cx="370.3" cy="1703.4" r="4.3"/>
<circle cx="307.1" cy="1790.9" r="4.3"/>
<circle cx="349.6" cy="1783.7" r="4.3"/>
<circle cx="394.9" cy="1779.1" r="4.3"/>
<circle cx="391.1" cy="1707.3" r="4.3"/>
<circle cx="344" cy="1716" r="4.3"/>
<circle cx="326.7" cy="1786.9" r="4.3"/>
<circle cx="296.8" cy="1709.8" r="4.3"/>
<circle cx="324.5" cy="1731" r="4.3"/>
<circle cx="421.5" cy="1762.5" r="4.3"/>
<circle cx="362.9" cy="1755.8" r="4.3"/>
<circle cx="372.7" cy="1775.4" r="4.3"/>
<circle cx="374.6" cy="1732.9" r="4.3"/>
<circle cx="346.9" cy="1736.9" r="4.3"/>
<circle cx="433.3" cy="1786.7" r="4.3"/>
<circle cx="329.2" cy="1757.5" r="4.3"/>
<circle cx="320.4" cy="1766.6" r="4.3"/>
<circle cx="360.9" cy="1770.1" r="4.3"/>
<circle cx="460.4" cy="1735.6" r="4.3"/>
<circle cx="387.9" cy="1725" r="4.3"/>
<circle cx="416.1" cy="1752" r="4.3"/>
<circle cx="334.4" cy="1776.7" r="4.3"/>
<circle cx="299.7" cy="1756.3" r="4.3"/>
<circle cx="319.5" cy="1751.1" r="4.3"/>
<circle cx="324.8" cy="1741.5" r="4.3"/>
<circle cx="351" cy="1690.6" r="4.3"/>
<circle cx="318.3" cy="1755.9" r="4.3"/>
<circle cx="433.6" cy="1754.8" r="4.3"/>
<circle cx="340.3" cy="1792.1" r="4.3"/>
<circle cx="342.7" cy="1800.3" r="4.3"/>
<circle cx="402.5" cy="1781.7" r="4.3"/>
<circle cx="289.2" cy="1786.8" r="4.3"/>
<circle cx="296.1" cy="1749" r="4.3"/>
<circle cx="318.3" cy="1737.9" r="4.3"/>
<circle cx="342.5" cy="1727.8" r="4.3"/>
<circle cx="340.1" cy="1767.1" r="4.3"/>
<circle cx="335" cy="1795.2" r="4.3"/>
<circle cx="398.3" cy="1752.3" r="4.3"/>
<circle cx="405.2" cy="1767.2" r="4.3"/>
<circle cx="360.8" cy="1729.4" r="4.3"/>
<circle cx="327.5" cy="1718.3" r="4.3"/>
<circle cx="429.2" cy="1788.2" r="4.3"/>
<circle cx="291.6" cy="1797.5" r="4.3"/>
<circle cx="423.6" cy="1788.6" r="4.3"/>
<circle cx="345.4" cy="1730.3" r="4.3"/>
<circle cx="318.1" cy="1713.3" r="4.3"/>
<circle cx="329.1" cy="1749.2" r="4.3"/>
<circle cx="333.5" cy="1773.6" r="4.3"/>
<circle cx="292" cy="1767.2" r="4.3"/>
<circle cx="354.4" cy="1767" r="4.3"/>
<circle cx="354.5" cy="1785.9" r="4.3"/>
<circle cx="346.5" cy="1727.6" r="4.3"/>
<circle cx="403.6" cy="1697.3" r="4.3"/>
<circle cx="390.6" cy="1794.7" r="4.3"/>
<circle cx="349.9" cy="1776.9" r="4.3"/>
<circle cx="299" cy="1788" r="4.3"/>
<circle cx="435.8" cy="1737" r="4.3"/>
<circle cx="397.6" cy="1752.4" r="4.3"/>
<circle cx="394.3" cy="1751" r="4.3"/>
<circle cx="300.9" cy="1725.5" r="4.3"/>
<circle cx="295.7" cy="1746.2" r="4.3"/>
<circle cx="336.1" cy="1779.2" r="4.3"/>
<circle cx="329.3" cy="1769.7" r="4.3"/>
<circle cx="288.6" cy="1786.8" r="4.3"/>
<circle cx="316" cy="1737.2" r="4.3"/>
<circle cx="380.2" cy="1795.6" r="4.3"/>
<circle cx="445.1" cy="1728.8" r="4.3"/>
<circle cx="296.9" cy="1796.9" r="4.3"/>
<circle cx="317.6" cy="1770.3" r="4.3"/>
<circle cx="348.5" cy="1783" r="4.3"/>
<circle cx="345.9" cy="1777.2" r="4.3"/>
<circle cx="411.2" cy="1705.1" r="4.3"/>
<circle cx="288.7" cy="1767.4" r="4.3"/>
<circle cx="310.3" cy="1753" r="4.3"/>
<circle cx="391.9" cy="1725.4" r="4.3"/>
<circle cx="301.3" cy="1786" r="4.3"/>
<circle cx="435.7" cy="1803.5" r="4.3"/>
<circle cx="374.4" cy="1714.5" r="4.3"/>
<circle cx="395.1" cy="1757.1" r="4.3"/>
<circle cx="308.3" cy="1724.1" r="4.3"/>
<circle cx="302.2" cy="1697.4" r="4.3"/>
<circle cx="352" cy="1776.8" r="4.3"/>
<circle cx="338.9" cy="1697.9" r="4.3"/>
<circle cx="355.4" cy="1796.1" r="4.3"/>
<circle cx="355.2" cy="1778.4" r="4.3"/>
<circle cx="333.6" cy="1802.2" r="4.3"/>
<circle cx="452.3" cy="1777" r="4.3"/>
<circle cx="330.5" cy="1773.3" r="4.3"/>
<circle cx="325.2" cy="1746.8" r="4.3"/>
<circle cx="338.4" cy="1795.2" r="4.3"/>
<circle cx="300.4" cy="1771.6" r="4.3"/>
<circle cx="414.5" cy="1732.7" r="4.3"/>
<circle cx="381.6" cy="1750" r="4.3"/>
<circle cx="319.4" cy="1704.9" r="4.3"/>
<circle cx="345" cy="1709.6" r="4.3"/>
<circle cx="344.7" cy="1700" r="4.3"/>
<circle cx="319.9" cy="1767.6" r="4.3"/>
<circle cx="309.7" cy="1791.6" r="4.3"/>
<circle cx="355.6" cy="1760.2" r="4.3"/>
<circle cx="340" cy="1757.5" r="4.3"/>
<circle cx="367.2" cy="1724.4" r="4.3"/>
<circle cx="404.5" cy="1758.5" r="4.3"/>
<circle cx="381.7" cy="1800.1" r="4.3"/>
<circle cx="297.8" cy="1787.8" r="4.3"/>
<circle cx="328.1" cy="1725.3" r="4.3"/>
<circle cx="354.9" cy="1790.4" r="4.3"/>
<circle cx="414" cy="1750.2" r="4.3"/>
<circle cx="414.8" cy="1780.2" r="4.3"/>
<circle cx="323.2" cy="1718.2" r="4.3"/>
<circle cx="377.1" cy="1756.9" r="4.3"/>
<circle cx="336.6" cy="1720.2" r="4.3"/>
<circle cx="441.3" cy="1770.7" r="4.3"/>
<circle cx="298.9" cy="1800.9" r="4.3"/>
<circle cx="330.3" cy="1738.5" r="4.3"/>
<circle cx="308.9" cy="1798.5" r="4.3"/>
<circle cx="316.1" cy="1716.3" r="4.3"/>
<circle cx="347.9" cy="1787.6" r="4.3"/>
<circle cx="388.1" cy="1719.5" r="4.3"/>
<circle cx="315.2" cy="1802.7" r="4.3"/>
<circle cx="326.1" cy="1741.7" r="4.3"/>
<circle cx="328.9" cy="1782.8" r="4.3"/>
<circle cx="292.9" cy="1785.4" r="4.3"/>
<circle cx="290.4" cy="1764.5" r="4.3"/>
<circle cx="371.4" cy="1759.6" r="4.3"/>
<circle cx="329.6" cy="1730" r="4.3"/>
<circle cx="401" cy="1729" r="4.3"/>
<circle cx="307.1" cy="1708" r="4.3"/>
<circle cx="327.5" cy="1719.2" r="4.3"/>
<circle cx="358.5" cy="1748.9" r="4.3"/>
<circle cx="357.9" cy="1714.2" r="4.3"/>
<circle cx="327.3" cy="1764.3" r="4.3"/>
<circle cx="299.5" cy="1728.6" r="4.3"/>
<circle cx="392.5" cy="1740.6" r="4.3"/>
<circle cx="341.2" cy="1764" r="4.3"/>
<circle cx="387.5" cy="1767.4" r="4.3"/>
<circle cx="387" cy="1737.5" r="4.3"/>
<circle cx="471.7" cy="1735.1" r="4.3"/>
<circle cx="370.1" cy="1777.8" r="4.3"/>
<circle cx="368.1" cy="1737.4" r="4.3"/>
<circle cx="301" cy="1796.2" r="4.3"/>
<circle cx="326.7" cy="1749.6" r="4.3"/>
<circle cx="303.8" cy="1790.3" r="4.3"/>
<circle cx="313" cy="1779.4" r="4.3"/>
<circle cx="328.2" cy="1750.8" r="4.3"/>
<circle cx="384.3" cy="1743" r="4.3"/>
<circle cx="314.1" cy="1785" r="4.3"/>
<circle cx="294.7" cy="1796.2" r="4.3"/>
<circle cx="407.1" cy="1767.3" r="4.3"/>
<circle cx="316.4" cy="1748" r="4.3"/>
<circle cx="363.4" cy="1775.3" r="4.3"/>
<circle cx="353.1" cy="1767.8" r="4.3"/>
<circle cx="325.7" cy="1697.2" r="4.3"/>
<circle cx="419.3" cy="1793.7" r="4.3"/>
<circle cx="312.2" cy="1786" r="4.3"/>
<circle cx="323" cy="1686.2" r="4.3"/>
<circle cx="318.4" cy="1779.9" r="4.3"/>
<circle cx="331.9" cy="1736.6" r="4.3"/>
<circle cx="405.6" cy="1734" r="4.3"/>
<circle cx="298.6" cy="1791.7" r="4.3"/>
<circle cx="432" cy="1727" r="4.3"/>
<circle cx="299.8" cy="1798.2" r="4.3"/>
<circle cx="375.4" cy="1746.4" r="4.3"/>
<circle cx="320.9" cy="1736.8" r="4.3"/>
<circle cx="422.6" cy="1747.9" r="4.3"/>
<circle cx="353.8" cy="1703.1" r="4.3"/>
<circle cx="290.8" cy="1723.9" r="4.3"/>
<circle cx="353.3" cy="1738.7" r="4.3"/>
<circle cx="336.7" cy="1730.2" r="4.3"/>
<circle cx="311.9" cy="1697" r="4.3"/>
<circle cx="399.2" cy="1726.9" r="4.3"/>
<circle cx="387.2" cy="1796.4" r="4.3"/>
<circle cx="308.9" cy="1761.7" r="4.3"/>
<circle cx="311.6" cy="1774.5" r="4.3"/>
<circle cx="303.5" cy="1743.9" r="4.3"/>
<circle cx="348.2" cy="1790.6" r="4.3"/>
<circle cx="289.8" cy="1774.7" r="4.3"/>
<circle cx="332.1" cy="1795.4" r="4.3"/>
<circle cx="327.9" cy="1726" r="4.3"/>
<circle cx="359.6" cy="1736.1" r="4.3"/>
<circle cx="291.4" cy="1756.4" r="4.3"/>
<circle cx="389.5" cy="1769.4" r="4.3"/>
<circle cx="374.5" cy="1753.4" r="4.3"/>
<circle cx="312.8" cy="1786.2" r="4.3"/>
<circle cx="448" cy="1719" r="4.3"/>
<circle cx="388.8" cy="1752" r="4.3"/>
<circle cx="299.3" cy="1763.9" r="4.3"/>
<circle cx="379.8" cy="1722" r="4.3"/>
<circle cx="341.3" cy="1781.5" r="4.3"/>
<circle cx="374.2" cy="1706" r="4.3"/>
<circle cx="451.7" cy="1690.6" r="4.3"/>
<circle cx="375.4" cy="1789.3" r="4.3"/>
<circle cx="410.1" cy="1714.5" r="4.3"/>
<circle cx="325.7" cy="1782" r="4.3"/>
<circle cx="342" cy="1708" r="4.3"/>
<circle cx="309.8" cy="1785" r="4.3"/>
<circle cx="409.1" cy="1754.6" r="4.3"/>
<circle cx="303.1" cy="1735.5" r="4.3"/>
<circle cx="410.8" cy="1770.2" r="4.3"/>
<circle cx="356.9" cy="1741.9" r="4.3"/>
<circle cx="389.3" cy="1776.7" r="4.3"/>
<circle cx="293.8" cy="1788.7" r="4.3"/>
<circle cx="295.8" cy="1771.8" r="4.3"/>
<circle cx="474.2" cy="1800" r="4.3"/>
<circle cx="321.3" cy="1744.2" r="4.3"/>
<circle cx="439.2" cy="1729.3" r="4.3"/>
<circle cx="327.7" cy="1781.4" r="4.3"/>
<circle cx="292" cy="1751.5" r="4.3"/>
<circle cx="375.8" cy="1748.5" r="4.3"/>
<circle cx="333" cy="1781.5" r="4.3"/>
<circle cx="324.6" cy="1753.9" r="4.3"/>
<circle cx="359.3" cy="1769.2" r="4.3"/>
<circle cx="431.3" cy="1765" r="4.3"/>
<circle cx="394.3" cy="1761" r="4.3"/>
<circle cx="396.8" cy="1741.9" r="4.3"/>
<circle cx="340.5" cy="1790.1" r="4.3"/>
<circle cx="398.1" cy="1711.8" r="4.3"/>
<circle cx="295.3" cy="1791.9" r="4.3"/>
<circle cx="298.1" cy="1723.9" r="4.3"/>
<circle cx="353.5" cy="1722.6" r="4.3"/>
<circle cx="379.6" cy="1697.3" r="4.3"/>
<circle cx="363.5" cy="1789.4" r="4.3"/>
<circle cx="416.6" cy="1792.4" r="4.3"/>
<circle cx="298.5" cy="1691.1" r="4.3"/>
<circle cx="336.4" cy="1759.5" r="4.3"/>
<circle cx="383.1" cy="1780.9" r="4.3"/>
<circle cx="323.1" cy="1769.3" r="4.3"/>
<circle cx="422.8" cy="1733.8" r="4.3"/>
<circle cx="333.7" cy="1797.7" r="4.3"/>
<circle cx="351.9" cy="1761.4" r="4.3"/>
<circle cx="372.7" cy="1693" r="4.3"/>
<circle cx="401" cy="1758.5" r="4.3"/>
<circle cx="327.3" cy="1705.2" r="4.3"/>
<circle cx="293.2" cy="1733.4" r="4.3"/>
<circle cx="302.1" cy="1757.8" r="4.3"/>
<circle cx="350.3" cy="1782.1" r="4.3"/>
<circle cx="344.2" cy="1768" r="4.3"/>
<circle cx="358.7" cy="1780.4" r="4.3"/>
<circle cx="296.2" cy="1695.6" r="4.3"/>
<circle cx="442.7" cy="1786.5" r="4.3"/>
<circle cx="409.9" cy="1798.6" r="4.3"/>
<circle cx="298" cy="1794.1" r="4.3"/>
<circle cx="316.5" cy="1739.4" r="4.3"/>
<circle cx="326.5" cy="1793.6" r="4.3"/>
<circle cx="343.6" cy="1771.5" r="4.3"/>
<circle cx="349.5" cy="1783.3" r="4.3"/>
<circle cx="293.3" cy="1740.7" r="4.3"/>
<circle cx="293.6" cy="1748.4" r="4.3"/>
<circle cx="400.6" cy="1714.7" r="4.3"/>
<circle cx="388" cy="1765.7" r="4.3"/>
<circle cx="359.9" cy="1750.5" r="4.3"/>
<circle cx="306.3" cy="1698.2" r="4.3"/>
<circle cx="418.1" cy="1799.7" r="4.3"/>
<circle cx="389.8" cy="1800.6" r="4.3"/>
<circle cx="305.2" cy="1765.8" r="4.3"/>
<circle cx="374.5" cy="1693.8" r="4.3"/>
<circle cx="351.8" cy="1754.9" r="4.3"/>
<circle cx="319" cy="1715.5" r="4.3"/>
<circle cx="316.5" cy="1751.8" r="4.3"/>
<circle cx="348.1" cy="1749.3" r="4.3"/>
<circle cx="356.2" cy="1738.5" r="4.3"/>
<circle cx="356.7" cy="1766.8" r="4.3"/>
<circle cx="385.7" cy="1698.8" r="4.3"/>
<circle cx="401.1" cy="1790.7" r="4.3"/>
<circle cx="312.3" cy="1710.2" r="4.3"/>
<circle cx="326" cy="1755" r="4.3"/>
<circle cx="306.1" cy="1715.3" r="4.3"/>
<circle cx="343.6" cy="1765.5" r="4.3"/>
<circle cx="311.6" cy="1744.9" r="4.3"/>
<circle cx="336.1" cy="1702.3" r="4.3"/>
<circle cx="326.9" cy="1789.5" r="4.3"/>
<circle cx="362.8" cy="1793.5" r="4.3"/>
<circle cx="387.6" cy="1744" r="4.3"/>
<circle cx="376.5" cy="1759.4" r="4.3"/>
<circle cx="343.1" cy="1735" r="4.3"/>
<circle cx="441" cy="1769.1" r="4.3"/>
<circle cx="433.7" cy="1703" r="4.3"/>
<circle cx="374.3" cy="1728" r="4.3"/>
<circle cx="293.3" cy="1789.9" r="4.3"/>
<circle cx="328.6" cy="1725.2" r="4.3"/>
<circle cx="324.9" cy="1799.7" r="4.3"/>
<circle cx="340.7" cy="1731.5" r="4.3"/>
<circle cx="339.9" cy="1788.6" r="4.3"/>
<circle cx="396.6" cy="1748.7" r="4.3"/>
<circle cx="415.9" cy="1780.5" r="4.3"/>
<circle cx="387.9" cy="1705.8" r="4.3"/>
<circle cx="330.5" cy="1741.9" r="4.3"/>
<circle cx="462.7" cy="1767" r="4.3"/>
<circle cx="317.6" cy="1786.3" r="4.3"/>
<circle cx="300.5" cy="1744" r="4.3"/>
<circle cx="393.8" cy="1766.7" r="4.3"/>
<circle cx="297.4" cy="1688.6" r="4.3"/>
<circle cx="347.7" cy="1744.6" r="4.3"/>
<circle cx="315.9" cy="1766.1" r="4.3"/>
<circle cx="418.4" cy="1705.4" r="4.3"/>
<circle cx="370.1" cy="1719.7" r="4.3"/>
<circle cx="439.2" cy="1722.4" r="4.3"/>
<circle cx="392.4" cy="1702.3" r="4.3"/>
<circle cx="300.5" cy="1722" r="4.3"/>
<circle cx="350.1" cy="1798.4" r="4.3"/>
<circle cx="316.4" cy="1785.7" r="4.3"/>
<circle cx="339.8" cy="1702.5" r="4.3"/>
<circle cx="305.6" cy="1713.9" r="4.3"/>
<circle cx="317.2" cy="1790.7" r="4.3"/>
<circle cx="312.1" cy="1794" r="4.3"/>
<circle cx="413.9" cy="1710.2" r="4.3"/>
<circle cx="344" cy="1764.6" r="4.3"/>
<circle cx="394.5" cy="1710.6" r="4.3"/>
<circle cx="372.4" cy="1764.8" r="4.3"/>
<circle cx="301.5" cy="1754.5" r="4.3"/>
<circle cx="368.2" cy="1772.6" r="4.3"/>
<circle cx="387.3" cy="1719.4" r="4.3"/>
<circle cx="291.5" cy="1771" r="4.3"/>
<circle cx="385" cy="1794.4" r="4.3"/>
<circle cx="436.8" cy="1797.3" r="4.3"/>
<circle cx="329" cy="1744.7" r="4.3"/>
<circle cx="342.5" cy="1744.8" r="4.3"/>
<circle cx="344.6" cy="1760.7" r="4.3"/>
<circle cx="325.5" cy="1792.1" r="4.3"/>
<circle cx="297.8" cy="1683.1" r="4.3"/>
<circle cx="357.1" cy="1771.1" r="4.3"/>
<circle cx="302" cy="1798.8" r="4.3"/>
<circle cx="315.7" cy="1726.9" r="4.3"/>
<circle cx="329.2" cy="1694.6" r="4.3"/>
<circle cx="304.3" cy="1789.4" r="4.3"/>
<circle cx="297.9" cy="1759.3" r="4.3"/>
<circle cx="305.3" cy="1776.9" r="4.3"/>
<circle cx="309.4" cy="1701.6" r="4.3"/>
<circle cx="341.6" cy="1796.6" r="4.3"/>
<circle cx="349" cy="1781.8" r="4.3"/>
<circle cx="426.8" cy="1776.3" r="4.3"/>
<circle cx="375.3" cy="1785.7" r="4.3"/>
<circle cx="365.5" cy="1788.2" r="4.3"/>
<circle cx="356.9" cy="1795.9" r="4.3"/>
<circle cx="304.8" cy="1773.8" r="4.3"/>
<circle cx="318.4" cy="1717.4" r="4.3"/>
<circle cx="372.3" cy="1790.7" r="4.3"/>
<circle cx="373.4" cy="1708.8" r="4.3"/>
<circle cx="402.7" cy="1731" r="4.3"/>
<circle cx="300.5" cy="1749" r="4.3"/>
<circle cx="376.9" cy="1785.2" r="4.3"/>
<circle cx="293" cy="1739.3" r="4.3"/>
<circle cx="310.7" cy="1701.6" r="4.3"/>
<circle cx="378.6" cy="1716.4" r="4.3"/>
<circle cx="312.6" cy="1773.3" r="4.3"/>
<circle cx="384.1" cy="1692.2" r="4.3"/>
<circle cx="300.6" cy="1768.1" r="4.3"/>
<circle cx="316.6" cy="1762.2" r="4.3"/>
<circle cx="364.1" cy="1738.1" r="4.3"/>
<circle cx="293.4" cy="1791.4" r="4.3"/>
<circle cx="309.1" cy="1720.5" r="4.3"/>
<circle cx="360.3" cy="1699.6" r="4.3"/>
<circle cx="373.3" cy="1790" r="4.3"/>
<circle cx="294.7" cy="1706.4" r="4.3"/>
<circle cx="369.2" cy="1771.4" r="4.3"/>
<circle cx="455.7" cy="1756.9" r="4.3"/>
<circle cx="437.3" cy="1748.7" r="4.3"/>
<circle cx="298.7" cy="1786.7" r="4.3"/>
<circle cx="383.9" cy="1783.7" r="4.3"/>
<circle cx="383.4" cy="1743.6" r="4.3"/>
<circle cx="302.8" cy="1737.5" r="4.3"/>
<circle cx="297.4" cy="1757.5" r="4.3"/>
<circle cx="347.4" cy="1703.8" r="4.3"/>
<circle cx="353.8" cy="1753" r="4.3"/>
<circle cx="333.3" cy="1788.6" r="4.3"/>
<circle cx="347.2" cy="1774.1" r="4.3"/>
<circle cx="305.3" cy="1755.3" r="4.3"/>
<circle cx="300" cy="1727.3" r="4.3"/>
<circle cx="325.4" cy="1718.4" r="4.3"/>
<circle cx="432.1" cy="1786.8" r="4.3"/>
<circle cx="306" cy="1789.1" r="4.3"/>
<circle cx="326.2" cy="1717.5" r="4.3"/>
<circle cx="360.5" cy="1756.6" r="4.3"/>
<circle cx="332.1" cy="1702.3" r="4.3"/>
<circle cx="367.8" cy="1762.6" r="4.3"/>
<circle cx="308.5" cy="1719.4" r="4.3"/>
<circle cx="363.6" cy="1758.6" r="4.3"/>
<circle cx="311.4" cy="1765.9" r="4.3"/>
<circle cx="308.4" cy="1731.2" r="4.3"/>
<circle cx="429.5" cy="1716" r="4.3"/>
<circle cx="339.7" cy="1733.5" r="4.3"/>
<circle cx="321.1" cy="1733.1" r="4.3"/>
<circle cx="337.8" cy="1706.9" r="4.3"/>
<circle cx="325.2" cy="1731.2" r="4.3"/>
<circle cx="321.7" cy="1736.4" r="4.3"/>
<circle cx="322" cy="1748.6" r="4.3"/>
<circle cx="322" cy="1774.3" r="4.3"/>
<circle cx="290.3" cy="1790.4" r="4.3"/>
<circle cx="295.1" cy="1782.9" r="4.3"/>
<circle cx="293.3" cy="1688.9" r="4.3"/>
<circle cx="406.2" cy="1732.2" r="4.3"/>
<circle cx="408.2" cy="1758.9" r="4.3"/>
<circle cx="298.8" cy="1781" r="4.3"/>
<circle cx="297.8" cy="1733.7" r="4.3"/>
<circle cx="306.8" cy="1766.6" r="4.3"/>
<circle cx="342.8" cy="1719.3" r="4.3"/>
<circle cx="399.2" cy="1734.8" r="4.3"/>
<circle cx="315.9" cy="1761.7" r="4.3"/>
<circle cx="317.3" cy="1782.7" r="4.3"/>
<circle cx="313.2" cy="1748.6" r="4.3"/>
<circle cx="296.5" cy="1741.2" r="4.3"/>
<circle cx="413.2" cy="1793.4" r="4.3"/>
<circle cx="328.9" cy="1759.1" r="4.3"/>
<circle cx="324.2" cy="1796.3" r="4.3"/>
<circle cx="401.5" cy="1763.6" r="4.3"/>
<circle cx="301.4" cy="1731" r="4.3"/>
<circle cx="383" cy="1798.3" r="4.3"/>
<circle cx="316.6" cy="1798.1" r="4.3"/>
<circle cx="326.3" cy="1701" r="4.3"/>
<circle cx="297.9" cy="1761.1" r="4.3"/>
<circle cx="306.5" cy="1802.1" r="4.3"/>
<circle cx="319.4" cy="1753.4" r="4.3"/>
<circle cx="364.3" cy="1779.4" r="4.3"/>
<circle cx="295.9" cy="1801.1" r="4.3"/>
<circle cx="348.6" cy="1702.1" r="4.3"/>
<circle cx="303.8" cy="1699.7" r="4.3"/>
<circle cx="293.4" cy="1768.8" r="4.3"/>
<circle cx="344.2" cy="1728.9" r="4.3"/>
<circle cx="332.9" cy="1710" r="4.3"/>
<circle cx="294.5" cy="1772.7" r="4.3"/>
<circle cx="403.3" cy="1753.2" r="4.3"/>
<circle cx="308.5" cy="1761" r="4.3"/>
<circle cx="351.4" cy="1735" r="4.3"/>
<circle cx="351.7" cy="1709.4" r="4.3"/>
<circle cx="327.9" cy="1774.8" r="4.3"/>
<circle cx="310.5" cy="1699.2" r="4.3"/>
<circle cx="338.1" cy="1751.9" r="4.3"/>
<circle cx="349.1" cy="1748.1" r="4.3"/>
<circle cx="301.1" cy="1735.6" r="4.3"/>
<circle cx="331.4" cy="1788.4" r="4.3"/>
<circle cx="309.8" cy="1788.3" r="4.3"/>
<circle cx="354.4" cy="1716.8" r="4.3"/>
<circle cx="393.7" cy="1763.2" r="4.3"/>
<circle cx="369.6" cy="1722.2" r="4.3"/>
<circle cx="327.1" cy="1761.2" r="4.3"/>
<circle cx="311.5" cy="1725.4" r="4.3"/>
<circle cx="385.8" cy="1782" r="4.3"/>
<circle cx="329.5" cy="1800.1" r="4.3"/>
<circle cx="343.4" cy="1700.3" r="4.3"/>
<circle cx="407.6" cy="1739.9" r="4.3"/>
<circle cx="328.2" cy="1797.6" r="4.3"/>
<circle cx="436" cy="1790.3" r="4.3"/>
<circle cx="377" cy="1744.9" r="4.3"/>
<circle cx="416.5" cy="1773" r="4.3"/>
<circle cx="374.6" cy="1724.9" r="4.3"/>
<circle cx="408.1" cy="1718" r="4.3"/>
<circle cx="386.2" cy="1793" r="4.3"/>
<circle cx="327" cy="1789.9" r="4.3"/>
<circle cx="298.2" cy="1754.6" r="4.3"/>
<circle cx="307.2" cy="1751.5" r="4.3"/>
<circle cx="292.7" cy="1783.4" r="4.3"/>
<circle cx="292.4" cy="1722.1" r="4.3"/>
<circle cx="378.7" cy="1697.4" r="4.3"/>
<circle cx="320.1" cy="1794.4" r="4.3"/>
<circle cx="323.9" cy="1803.1" r="4.3"/>
<circle cx="321.5" cy="1739.8" r="4.3"/>
<circle cx="341.8" cy="1743.7" r="4.3"/>
<circle cx="358.7" cy="1722" r="4.3"/>
<circle cx="334.2" cy="1776.4" r="4.3"/>
<circle cx="299.2" cy="1760.3" r="4.3"/>
<circle cx="297.5" cy="1692.3" r="4.3"/>
<circle cx="325.5" cy="1723.7" r="4.3"/>
<circle cx="438" cy="1764.9" r="4.3"/>
<circle cx="420.7" cy="1753.1" r="4.3"/>
<circle cx="367.5" cy="1790.8" r="4.3"/>
<circle cx="348.4" cy="1734.3" r="4.3"/>
<circle cx="432.1" cy="1771.2" r="4.3"/>
<circle cx="421.9" cy="1741.9" r="4.3"/>
<circle cx="343.7" cy="1686.7" r="4.3"/>
<circle cx="347" cy="1756.7" r="4.3"/>
<circle cx="297" cy="1736.5" r="4.3"/>
<circle cx="445.2" cy="1751" r="4.3"/>
<circle cx="338.1" cy="1689.3" r="4.3"/>
<circle cx="325.6" cy="1797.2" r="4.3"/>
<circle cx="334.5" cy="1776.5" r="4.3"/>
<circle cx="316.8" cy="1761.4" r="4.3"/>
<circle cx="312.7" cy="1744.1" r="4.3"/>
<circle cx="361" cy="1691.7" r="4.3"/>
<circle cx="392.2" cy="1751.7" r="4.3"/>
<circle cx="289.4" cy="1759.4" r="4.3"/>
<circle cx="349.6" cy="1779.5" r="4.3"/>
<circle cx="340.3" cy="1727" r="4.3"/>
<circle cx="309.1" cy="1779.5" r="4.3"/>
<circle cx="397.9" cy="1739" r="4.3"/>
<circle cx="355.7" cy="1749.6" r="4.3"/>
<circle cx="339.9" cy="1733.2" r="4.3"/>
<circle cx="312.1" cy="1763" r="4.3"/>
<circle cx="442.4" cy="1767.2" r="4.3"/>
<circle cx="329.6" cy="1743.5" r="4.3"/>
<circle cx="419.1" cy="1693.9" r="4.3"/>
<circle cx="359.2" cy="1784.5" r="4.3"/>
<circle cx="300.9" cy="1732.2" r="4.3"/>
<circle cx="400.2" cy="1744.7" r="4.3"/>
<circle cx="332.7" cy="1722.8" r="4.3"/>
<circle cx="308.8" cy="1782.7" r="4.3"/>
<circle cx="337.9" cy="1786.2" r="4.3"/>
<circle cx="416.9" cy="1739.9" r="4.3"/>
<circle cx="292.7" cy="1732.1" r="4.3"/>
<circle cx="326.3" cy="1740.6" r="4.3"/>
<circle cx="330.1" cy="1786.5" r="4.3"/>
<circle cx="292.7" cy="1736" r="4.3"/>
<circle cx="412.3" cy="1697.9" r="4.3"/>
<circle cx="300.6" cy="1754.1" r="4.3"/>
<circle cx="405.6" cy="1729.4" r="4.3"/>
<circle cx="321.8" cy="1758.6" r="4.3"/>
<circle cx="391.2" cy="1758.8" r="4.3"/>
<circle cx="326.1" cy="1765.7" r="4.3"/>
<circle cx="304.2" cy="1784.7" r="4.3"/>
<circle cx="318.6" cy="1715.4" r="4.3"/>
<circle cx="295.7" cy="1692.1" r="4.3"/>
<circle cx="328.4" cy="1741.9" r="4.3"/>
<circle cx="317.6" cy="1754.9" r="4.3"/>
<circle cx="318.5" cy="1771.8" r="4.3"/>
<circle cx="313" cy="1785.5" r="4.3"/>
<circle cx="323.6" cy="1748.6" r="4.3"/>
<circle cx="342.5" cy="1748.9" r="4.3"/>
<circle cx="387.3" cy="1751.1" r="4.3"/>
<circle cx="317.6" cy="1738.8" r="4.3"/>
<circle cx="354.3" cy="1705.3" r="4.3"/>
<circle cx="360.4" cy="1753.2" r="4.3"/>
<circle cx="411.1" cy="1755.8" r="4.3"/>
<circle cx="427.8" cy="1720.9" r="4.3"/>
<circle cx="368.3" cy="1793.8" r="4.3"/>
<circle cx="359" cy="1751.9" r="4.3"/>
<circle cx="317.6" cy="1786.1" r="4.3"/>
<circle cx="393.8" cy="1702.3" r="4.3"/>
<circle cx="295.9" cy="1700.5" r="4.3"/>
<circle cx="376" cy="1747.1" r="4.3"/>
<circle cx="292.2" cy="1797.9" r="4.3"/>
<circle cx="354.5" cy="1793.5" r="4.3"/>
<circle cx="382.3" cy="1735" r="4.3"/>
<circle cx="359.5" cy="1695.8" r="4.3"/>
<circle cx="319.2" cy="1775.3" r="4.3"/>
<circle cx="328.7" cy="1792.3" r="4.3"/>
<circle cx="302" cy="1742.3" r="4.3"/>
<circle cx="311" cy="1784.5" r="4.3"/>
<circle cx="297.4" cy="1757.3" r="4.3"/>
<circle cx="358.6" cy="1758.2" r="4.3"/>
<circle cx="300.5" cy="1723.8" r="4.3"/>
<circle cx="355.2" cy="1774.9" r="4.3"/>
<circle cx="384.9" cy="1792.3" r="4.3"/>
<circle cx="350.9" cy="1737.5" r="4.3"/>
<circle cx="371.6" cy="1767.9" r="4.3"/>
<circle cx="375.4" cy="1770.1" r="4.3"/>
<circle cx="377.2" cy="1803.1" r="4.3"/>
<circle cx="367.9" cy="1797.4" r="4.3"/>
<circle cx="345.2" cy="1772.8" r="4.3"/>
<circle cx="348.6" cy="1742.4" r="4.3"/>
<circle cx="335.4" cy="1747.5" r="4.3"/>
<circle cx="320.7" cy="1748.7" r="4.3"/>
<circle cx="305.1" cy="1773.4" r="4.3"/>
<circle cx="449.8" cy="1786" r="4.3"/>
<circle cx="391.5" cy="1790.2" r="4.3"/>
<circle cx="421.8" cy="1695.9" r="4.3"/>
<circle cx="310.2" cy="1693.3" r="4.3"/>
<circle cx="406.4" cy="1727.7" r="4.3"/>
<circle cx="426.7" cy="1722.3" r="4.3"/>
<circle cx="304.4" cy="1714.6" r="4.3"/>
<circle cx="324" cy="1702.4" r="4.3"/>
<circle cx="345.7" cy="1728.9" r="4.3"/>
<circle cx="300.9" cy="1792.9" r="4.3"/>
<circle cx="370.9" cy="1725.5" r="4.3"/>
<circle cx="350.6" cy="1738" r="4.3"/>
<circle cx="293.5" cy="1779.1" r="4.3"/>
<circle cx="424" cy="1765.5" r="4.3"/>
<circle cx="384.8" cy="1729.3" r="4.3"/>
<circle cx="461.4" cy="1797.8" r="4.3"/>
<circle cx="408.9" cy="1803.2" r="4.3"/>
<circle cx="349.4" cy="1725.2" r="4.3"/>
<circle cx="385.7" cy="1737.8" r="4.3"/>
<circle cx="371.2" cy="1734.9" r="4.3"/>
<circle cx="421.2" cy="1687.9" r="4.3"/>
<circle cx="385" cy="1734.2" r="4.3"/>
<circle cx="291.1" cy="1748.8" r="4.3"/>
<circle cx="356.3" cy="1720.4" r="4.3"/>
<circle cx="336.6" cy="1746.1" r="4.3"/>
<circle cx="300.7" cy="1784.7" r="4.3"/>
<circle cx="343.7" cy="1795.8" r="4.3"/>
<circle cx="390.5" cy="1770.3" r="4.3"/>
<circle cx="376.6" cy="1796.9" r="4.3"/>
<circle cx="326" cy="1756.8" r="4.3"/>
<circle cx="319.5" cy="1750.2" r="4.3"/>
<circle cx="353.7" cy="1745.4" r="4.3"/>
<circle cx="330.8" cy="1803.3" r="4.3"/>
<circle cx="312.1" cy="1774" r="4.3"/>
<circle cx="338.1" cy="1764.1" r="4.3"/>
<circle cx="394.7" cy="1728.8" r="4.3"/>
<circle cx="314.7" cy="1768.2" r="4.3"/>
<circle cx="371" cy="1751.3" r="4.3"/>
<circle cx="295.9" cy="1766.6" r="4.3"/>
<circle cx="372.1" cy="1768.2" r="4.3"/>
<circle cx="379.3" cy="1690.6" r="4.3"/>
<circle cx="342.4" cy="1714.4" r="4.3"/>
<circle cx="406.4" cy="1742.8" r="4.3"/>
<circle cx="289.7" cy="1788.8" r="4.3"/>
<circle cx="319.1" cy="1803.1" r="4.3"/>
<circle cx="396.7" cy="1766.7" r="4.3"/>
<circle cx="339.4" cy="1717.8" r="4.3"/>
<circle cx="392.9" cy="1723.1" r="4.3"/>
<circle cx="316.8" cy="1734.7" r="4.3"/>
<circle cx="358.2" cy="1746.8" r="4.3"/>
<circle cx="307.1" cy="1718.2" r="4.3"/>
<circle cx="395.6" cy="1712.2" r="4.3"/>
<circle cx="367.6" cy="1744.6" r="4.3"/>
<circle cx="336.6" cy="1767.4" r="4.3"/>
<circle cx="390.9" cy="1741" r="4.3"/>
<circle cx="358.2" cy="1710.4" r="4.3"/>
<circle cx="382.3" cy="1788.1" r="4.3"/>
<circle cx="299.1" cy="1781.9" r="4.3"/>
<circle cx="301" cy="1747.1" r="4.3"/>
<circle cx="334" cy="1771.6" r="4.3"/>
<circle cx="364.2" cy="1667.6" r="4.3"/>
<circle cx="408.3" cy="1655.7" r="4.3"/>
<circle cx="352.5" cy="1672.4" r="4.3"/>
<circle cx="395.7" cy="1675.3" r="4.3"/>
<circle cx="389.7" cy="1630.9" r="4.3"/>
<circle cx="415.6" cy="1676.1" r="4.3"/>
<circle cx="374" cy="1685.1" r="4.3"/>
<circle cx="344.3" cy="1638.3" r="4.3"/>
<circle cx="418" cy="1673.3" r="4.3"/>
<circle cx="367.2" cy="1674.4" r="4.3"/>
<circle cx="433" cy="1659.5" r="4.3"/>
<circle cx="410" cy="1653.4" r="4.3"/>
<circle cx="357.4" cy="1629.4" r="4.3"/>
<circle cx="343.5" cy="1675.2" r="4.3"/>
<circle cx="345.7" cy="1643.2" r="4.3"/>
<circle cx="422.5" cy="1683.9" r="4.3"/>
<circle cx="373.5" cy="1686.2" r="4.3"/>
<circle cx="360.6" cy="1659.4" r="4.3"/>
<circle cx="408.2" cy="1682.5" r="4.3"/>
<circle cx="379.7" cy="1641.9" r="4.3"/>
<circle cx="367.1" cy="1684.7" r="4.3"/>
<circle cx="349.1" cy="1681.1" r="4.3"/>
<circle cx="414.5" cy="1649.9" r="4.3"/>
<circle cx="402.3" cy="1638.8" r="4.3"/>
<circle cx="362.3" cy="1676.5" r="4.3"/>
<circle cx="351.9" cy="1681.2" r="4.3"/>
<circle cx="405.5" cy="1663.1" r="4.3"/>
<circle cx="399" cy="1627.4" r="4.3"/>
<circle cx="403.5" cy="1663.9" r="4.3"/>
<circle cx="362.4" cy="1682" r="4.3"/>
<circle cx="348.5" cy="1662.7" r="4.3"/>
<circle cx="304.6" cy="1678" r="4.3"/>
<circle cx="410.8" cy="1661.2" r="4.3"/>
<circle cx="349" cy="1639.3" r="4.3"/>
<circle cx="401.2" cy="1660.2" r="4.3"/>
<circle cx="433.2" cy="1642.7" r="4.3"/>
<circle cx="364.9" cy="1644.6" r="4.3"/>
<circle cx="329.7" cy="1659.8" r="4.3"/>
<circle cx="338.1" cy="1783.8" r="4.3"/>
<circle cx="354.4" cy="1675.2" r="4.3"/>
<circle cx="340" cy="1768.5" r="4.3"/>
<circle cx="372" cy="1693.1" r="4.3"/>
<circle cx="366.5" cy="1734" r="4.3"/>
<circle cx="305.1" cy="1737.1" r="4.3"/>
<circle cx="326.7" cy="1781.5" r="4.3"/>
<circle cx="326.7" cy="1717.5" r="4.3"/>
<circle cx="349.2" cy="1768.7" r="4.3"/>
<circle cx="328" cy="1718" r="4.3"/>
<circle cx="379.9" cy="1750.2" r="4.3"/>
<circle cx="365.8" cy="1713.8" r="4.3"/>
<circle cx="398.7" cy="1682.8" r="4.3"/>
<circle cx="342.7" cy="1740.7" r="4.3"/>
<circle cx="422.6" cy="1709.8" r="4.3"/>
<circle cx="325" cy="1763.3" r="4.3"/>
<circle cx="410.6" cy="1735" r="4.3"/>
<circle cx="353.6" cy="1679.3" r="4.3"/>
<circle cx="319.7" cy="1772.9" r="4.3"/>
<circle cx="453" cy="1731.1" r="4.3"/>
<circle cx="323.2" cy="1776.3" r="4.3"/>
<circle cx="418.8" cy="1659.2" r="4.3"/>
<circle cx="360.9" cy="1763.1" r="4.3"/>
<circle cx="321" cy="1760.8" r="4.3"/>
<circle cx="452.9" cy="1702.9" r="4.3"/>
<circle cx="323.1" cy="1756" r="4.3"/>
<circle cx="326.8" cy="1772.8" r="4.3"/>
<circle cx="369.9" cy="1712.6" r="4.3"/>
<circle cx="369.4" cy="1739.2" r="4.3"/>
<circle cx="418.1" cy="1676.4" r="4.3"/>
<circle cx="396.5" cy="1743" r="4.3"/>
<circle cx="324.2" cy="1773.3" r="4.3"/>
<circle cx="346.2" cy="1771.6" r="4.3"/>
<circle cx="321.3" cy="1755" r="4.3"/>
<circle cx="328.5" cy="1713.8" r="4.3"/>
<circle cx="340.1" cy="1731.5" r="4.3"/>
<circle cx="340.1" cy="1765.8" r="4.3"/>
<circle cx="317.2" cy="1747.1" r="4.3"/>
<circle cx="347.5" cy="1776.9" r="4.3"/>
<circle cx="372.1" cy="1762.4" r="4.3"/>
<circle cx="351.5" cy="1754.3" r="4.3"/>
<circle cx="470.1" cy="1718.9" r="4.3"/>
<circle cx="376.4" cy="1697" r="4.3"/>
<circle cx="300.3" cy="1756" r="4.3"/>
<circle cx="414.3" cy="1684" r="4.3"/>
<circle cx="457.3" cy="1732.6" r="4.3"/>
<circle cx="509.6" cy="1709.6" r="4.3"/>
<circle cx="302.9" cy="1779.4" r="4.3"/>
<circle cx="343.9" cy="1690.4" r="4.3"/>
<circle cx="436.3" cy="1727" r="4.3"/>
<circle cx="405.1" cy="1744.8" r="4.3"/>
<circle cx="363" cy="1730.6" r="4.3"/>
<circle cx="326.9" cy="1774" r="4.3"/>
<circle cx="348.3" cy="1747.8" r="4.3"/>
<circle cx="368" cy="1700.2" r="4.3"/>
<circle cx="387.4" cy="1668.5" r="4.3"/>
<circle cx="425.6" cy="1726.2" r="4.3"/>
<circle cx="380.7" cy="1751.4" r="4.3"/>
<circle cx="325.7" cy="1764" r="4.3"/>
<circle cx="321.3" cy="1759.8" r="4.3"/>
<circle cx="473.1" cy="1695.2" r="4.3"/>
<circle cx="342.1" cy="1774.1" r="4.3"/>
<circle cx="348.5" cy="1762.5" r="4.3"/>
<circle cx="329.6" cy="1765.3" r="4.3"/>
<circle cx="392.4" cy="1757.8" r="4.3"/>
<circle cx="400.6" cy="1731.4" r="4.3"/>
<circle cx="373.4" cy="1699.5" r="4.3"/>
<circle cx="333.7" cy="1764.2" r="4.3"/>
<circle cx="398" cy="1737.9" r="4.3"/>
<circle cx="334" cy="1773.4" r="4.3"/>
<circle cx="314.3" cy="1687.5" r="4.3"/>
<circle cx="354.3" cy="1743" r="4.3"/>
<circle cx="357.6" cy="1749.1" r="4.3"/>
<circle cx="312.7" cy="1725.5" r="4.3"/>
<circle cx="433" cy="1705" r="4.3"/>
<circle cx="368.8" cy="1741" r="4.3"/>
<circle cx="327" cy="1773.4" r="4.3"/>
<circle cx="371.3" cy="1746" r="4.3"/>
<circle cx="307.2" cy="1725.7" r="4.3"/>
<circle cx="362.8" cy="1704.3" r="4.3"/>
<circle cx="448.5" cy="1715.4" r="4.3"/>
<circle cx="318.2" cy="1789.7" r="4.3"/>
<circle cx="348.8" cy="1732.3" r="4.3"/>
<circle cx="337.9" cy="1701.3" r="4.3"/>
<circle cx="375.9" cy="1758.8" r="4.3"/>
<circle cx="343.1" cy="1739.7" r="4.3"/>
<circle cx="432.1" cy="1723.1" r="4.3"/>
<circle cx="370.4" cy="1696.1" r="4.3"/>
<circle cx="387.6" cy="1749" r="4.3"/>
<circle cx="335.8" cy="1735.2" r="4.3"/>
<circle cx="379.5" cy="1740.6" r="4.3"/>
<circle cx="354.6" cy="1748.2" r="4.3"/>
<circle cx="454.1" cy="1719.7" r="4.3"/>
<circle cx="308.7" cy="1774.8" r="4.3"/>
<circle cx="328.2" cy="1770.9" r="4.3"/>
<circle cx="318.1" cy="1754.2" r="4.3"/>
<circle cx="377.1" cy="1759.5" r="4.3"/>
<circle cx="303.4" cy="1764.2" r="4.3"/>
<circle cx="414.3" cy="1755.1" r="4.3"/>
<circle cx="328" cy="1740.2" r="4.3"/>
<circle cx="322.9" cy="1780.8" r="4.3"/>
<circle cx="390.4" cy="1707" r="4.3"/>
<circle cx="350.3" cy="1758.1" r="4.3"/>
<circle cx="353.5" cy="1762.9" r="4.3"/>
<circle cx="342.9" cy="1760.1" r="4.3"/>
<circle cx="325.6" cy="1751.3" r="4.3"/>
<circle cx="365.8" cy="1742.9" r="4.3"/>
<circle cx="302.2" cy="1778.5" r="4.3"/>
<circle cx="336.4" cy="1780.7" r="4.3"/>
<circle cx="352.6" cy="1754.2" r="4.3"/>
<circle cx="364" cy="1736.9" r="4.3"/>
<circle cx="324.6" cy="1773.2" r="4.3"/>
<circle cx="335.8" cy="1760.9" r="4.3"/>
<circle cx="310.5" cy="1775.2" r="4.3"/>
<circle cx="426" cy="1716.8" r="4.3"/>
<circle cx="332.2" cy="1664.7" r="4.3"/>
<circle cx="345.4" cy="1736.2" r="4.3"/>
<circle cx="397.3" cy="1724.4" r="4.3"/>
<circle cx="333.4" cy="1759.4" r="4.3"/>
<circle cx="341.5" cy="1745.2" r="4.3"/>
<circle cx="323" cy="1767.1" r="4.3"/>
<circle cx="376.7" cy="1683.8" r="4.3"/>
<circle cx="328.3" cy="1766.6" r="4.3"/>
<circle cx="337.8" cy="1729.3" r="4.3"/>
<circle cx="336.5" cy="1763" r="4.3"/>
<circle cx="348.6" cy="1737" r="4.3"/>
<circle cx="388.8" cy="1736.1" r="4.3"/>
<circle cx="395.1" cy="1747.4" r="4.3"/>
<circle cx="438.1" cy="1746.4" r="4.3"/>
<circle cx="345.7" cy="1730.2" r="4.3"/>
<circle cx="307.6" cy="1752.5" r="4.3"/>
<circle cx="399.6" cy="1742.1" r="4.3"/>
<circle cx="350.5" cy="1777.5" r="4.3"/>
<circle cx="329.1" cy="1765.9" r="4.3"/>
<circle cx="363.7" cy="1745.5" r="4.3"/>
<circle cx="349.6" cy="1765.3" r="4.3"/>
<circle cx="466.1" cy="1687.8" r="4.3"/>
<circle cx="381.2" cy="1735.3" r="4.3"/>
<circle cx="352.9" cy="1701.8" r="4.3"/>
<circle cx="358.2" cy="1745.7" r="4.3"/>
<circle cx="440.1" cy="1687.9" r="4.3"/>
<circle cx="362.9" cy="1745.4" r="4.3"/>
<circle cx="339" cy="1758.8" r="4.3"/>
<circle cx="393.1" cy="1754.9" r="4.3"/>
<circle cx="388" cy="1689.5" r="4.3"/>
<circle cx="369.2" cy="1744.2" r="4.3"/>
<circle cx="419.3" cy="1758.4" r="4.3"/>
<circle cx="438.3" cy="1673.1" r="4.3"/>
<circle cx="381.5" cy="1724" r="4.3"/>
<circle cx="321.2" cy="1776.4" r="4.3"/>
<circle cx="422.8" cy="1749.2" r="4.3"/>
<circle cx="333" cy="1762.9" r="4.3"/>
<circle cx="405.1" cy="1700.1" r="4.3"/>
<circle cx="422.2" cy="1734" r="4.3"/>
<circle cx="378.8" cy="1749.2" r="4.3"/>
<circle cx="380.5" cy="1768.9" r="4.3"/>
<circle cx="323.6" cy="1693.3" r="4.3"/>
<circle cx="379.9" cy="1749.1" r="4.3"/>
<circle cx="439.3" cy="1668.5" r="4.3"/>
<circle cx="407" cy="1725.5" r="4.3"/>
<circle cx="470.6" cy="1685.2" r="4.3"/>
<circle cx="422.7" cy="1699.2" r="4.3"/>
<circle cx="389.3" cy="1771.1" r="4.3"/>
<circle cx="306.7" cy="1780.8" r="4.3"/>
<circle cx="304.5" cy="1778.1" r="4.3"/>
<circle cx="368.3" cy="1635.9" r="4.3"/>
<circle cx="308.6" cy="1780.7" r="4.3"/>
<circle cx="388.7" cy="1667.6" r="4.3"/>
<circle cx="340.3" cy="1770.9" r="4.3"/>
<circle cx="374.9" cy="1726.3" r="4.3"/>
<circle cx="357.7" cy="1771" r="4.3"/>
<circle cx="351.9" cy="1769.8" r="4.3"/>
<circle cx="498.2" cy="1719.3" r="4.3"/>
<circle cx="348.1" cy="1778.3" r="4.3"/>
<circle cx="298.4" cy="1761.1" r="4.3"/>
<circle cx="435.9" cy="1720.7" r="4.3"/>
<circle cx="328" cy="1757.9" r="4.3"/>
<circle cx="386.7" cy="1727.1" r="4.3"/>
<circle cx="360.1" cy="1762.3" r="4.3"/>
<circle cx="336.7" cy="1726.3" r="4.3"/>
<circle cx="390.1" cy="1736.2" r="4.3"/>
<circle cx="312.2" cy="1772.5" r="4.3"/>
<circle cx="349.7" cy="1714.5" r="4.3"/>
<circle cx="346.2" cy="1785" r="4.3"/>
<circle cx="336.5" cy="1773.1" r="4.3"/>
<circle cx="343.6" cy="1749.5" r="4.3"/>
<circle cx="310.7" cy="1758.6" r="4.3"/>
<circle cx="319.7" cy="1721.6" r="4.3"/>
<circle cx="362.1" cy="1754.9" r="4.3"/>
<circle cx="350.4" cy="1776.9" r="4.3"/>
<circle cx="357.3" cy="1729.5" r="4.3"/>
<circle cx="375.2" cy="1734.3" r="4.3"/>
<circle cx="491.1" cy="1715.6" r="4.3"/>
<circle cx="347.4" cy="1749.4" r="4.3"/>
<circle cx="323.3" cy="1759.7" r="4.3"/>
<circle cx="515.5" cy="1670" r="4.3"/>
<circle cx="327.7" cy="1715.4" r="4.3"/>
<circle cx="458.7" cy="1421.4" r="4.3"/>
<circle cx="478.1" cy="1426.4" r="4.3"/>
<circle cx="527.2" cy="1445.8" r="4.3"/>
<circle cx="555.1" cy="1437.3" r="4.3"/>
<circle cx="572" cy="1442.3" r="4.3"/>
<circle cx="370.1" cy="1482.6" r="4.3"/>
<circle cx="497.5" cy="1478.8" r="4.3"/>
<circle cx="387.2" cy="1499.9" r="4.3"/>
<circle cx="605.4" cy="1499.9" r="4.3"/>
<circle cx="425.5" cy="1510.2" r="4.3"/>
<circle cx="425.5" cy="1517" r="4.3"/>
<circle cx="506" cy="1515.8" r="4.3"/>
<circle cx="523.4" cy="1520.8" r="4.3"/>
<circle cx="401.1" cy="1536.4" r="4.3"/>
<circle cx="444.9" cy="1530.9" r="4.3"/>
<circle cx="460.7" cy="1537.9" r="4.3"/>
<circle cx="466.3" cy="1534.7" r="4.3"/>
<circle cx="528.7" cy="1534.7" r="4.3"/>
<circle cx="485.1" cy="1543.5" r="4.3"/>
<circle cx="453.7" cy="1550.5" r="4.3"/>
<circle cx="537.5" cy="1548.5" r="4.3"/>
<circle cx="395.8" cy="1557.3" r="4.3"/>
<circle cx="361" cy="1564.4" r="4.3"/>
<circle cx="408.4" cy="1567.9" r="4.3"/>
<circle cx="394" cy="1572.9" r="4.3"/>
<circle cx="402.8" cy="1576.2" r="4.3"/>
<circle cx="436" cy="1572.9" r="4.3"/>
<circle cx="448.6" cy="1569.9" r="4.3"/>
<circle cx="465.8" cy="1576.7" r="4.3"/>
<circle cx="479.6" cy="1582.5" r="4.3"/>
<circle cx="356" cy="1583.2" r="4.3"/>
<circle cx="378.2" cy="1586.8" r="4.3"/>
<circle cx="398.8" cy="1585.8" r="4.3"/>
<circle cx="409.6" cy="1586.8" r="4.3"/>
<circle cx="434.8" cy="1587.5" r="4.3"/>
<circle cx="469.3" cy="1586.8" r="4.3"/>
<circle cx="350.5" cy="1592" r="4.3"/>
<circle cx="375.1" cy="1591.8" r="4.3"/>
<circle cx="404.6" cy="1593.8" r="4.3"/>
<circle cx="593.4" cy="1595.8" r="4.3"/>
<circle cx="452.4" cy="1596.3" r="4.3"/>
<circle cx="363.1" cy="1597.6" r="4.3"/>
<circle cx="370.6" cy="1598.8" r="4.3"/>
<circle cx="377.2" cy="1600.6" r="4.3"/>
<circle cx="471.3" cy="1598.8" r="4.3"/>
<circle cx="485.1" cy="1605.9" r="4.3"/>
<circle cx="507.8" cy="1607.9" r="4.3"/>
<circle cx="383.2" cy="1607.7" r="4.3"/>
<circle cx="397.8" cy="1611.4" r="4.3"/>
<circle cx="344.9" cy="1613.2" r="4.3"/>
<circle cx="353" cy="1613.2" r="4.3"/>
<circle cx="437.3" cy="1612.7" r="4.3"/>
<circle cx="444.9" cy="1616.5" r="4.3"/>
<circle cx="415.2" cy="1616.5" r="4.3"/>
<circle cx="558.1" cy="1620.2" r="4.3"/>
<circle cx="352.5" cy="1621.5" r="4.3"/>
<circle cx="378.2" cy="1621.5" r="4.3"/>
<circle cx="366.3" cy="1624.8" r="4.3"/>
<circle cx="424.7" cy="1626.5" r="4.3"/>
<circle cx="442.3" cy="1629" r="4.3"/>
<circle cx="603.9" cy="1630.8" r="4.3"/>
<circle cx="699.8" cy="1634.1" r="4.3"/>
<circle cx="371.9" cy="1630.3" r="4.3"/>
<circle cx="399.6" cy="1634.1" r="4.3"/>
<circle cx="417.2" cy="1635.3" r="4.3"/>
<circle cx="457.4" cy="1637.4" r="4.3"/>
<circle cx="497.7" cy="1639.1" r="4.3"/>
<circle cx="475.1" cy="1644.1" r="4.3"/>
<circle cx="499.5" cy="1647.9" r="4.3"/>
<circle cx="516.6" cy="1651.7" r="4.3"/>
<circle cx="444.9" cy="1651.7" r="4.3"/>
<circle cx="443.6" cy="1659.3" r="4.3"/>
<circle cx="555.1" cy="1665.5" r="4.3"/>
<circle cx="499" cy="1666.8" r="4.3"/>
<circle cx="480.1" cy="1668.8" r="4.3"/>
<circle cx="467.5" cy="1670.6" r="4.3"/>
<circle cx="523.6" cy="1670.6" r="4.3"/>
<circle cx="514.6" cy="1674.4" r="4.3"/>
<circle cx="535.5" cy="1675.6" r="4.3"/>
<circle cx="551.3" cy="1674.4" r="4.3"/>
<circle cx="457.4" cy="1675.6" r="4.3"/>
<circle cx="426" cy="1672.6" r="4.3"/>
<circle cx="659.8" cy="1738.4" r="4.3"/>
<circle cx="583.9" cy="1743.2" r="4.3"/>
<circle cx="568.5" cy="1748.9" r="4.3"/>
<circle cx="559.8" cy="1758.5" r="4.3"/>
<circle cx="552.6" cy="1719.1" r="4.3"/>
<circle cx="532" cy="1700.9" r="4.3"/>
<circle cx="514.2" cy="1672" r="4.3"/>
<circle cx="545" cy="1690" r="4.3"/>
<circle cx="560" cy="1705" r="4.3"/>
<circle cx="520" cy="1715" r="4.3"/>
<circle cx="505" cy="1725" r="4.3"/>
<circle cx="540" cy="1735" r="4.3"/>
<circle cx="495" cy="1760" r="4.3"/>
<circle cx="512" cy="1782" r="4.3"/>
<circle cx="530" cy="1768" r="4.3"/>
<circle cx="488" cy="1797" r="4.3"/>
<circle cx="470" cy="1795" r="4.3"/>
<circle cx="455" cy="1800" r="4.3"/>
</g>
<polyline points="275.8,1693.5 300,1693.5 300.7,1686 304.8,1638 309.8,1593 312.3,1566.6 315,1520 316.5,1470 317.2,1420 317.5,1322.7" fill="none" stroke="#f0a06a" stroke-width="3" stroke-linejoin="round" stroke-dasharray="12,6"/>
<g fill="#ef8535">
<circle cx="291.7" cy="1446.2" r="5.2"/>
<circle cx="291.7" cy="1471.6" r="5.2"/>
<circle cx="301.8" cy="1477.4" r="5.2"/>
<circle cx="294.1" cy="1511" r="5.2"/>
<circle cx="293.1" cy="1543.7" r="5.2"/>
<circle cx="290.3" cy="1551" r="5.2"/>
<circle cx="304.2" cy="1555.7" r="5.2"/>
<circle cx="309" cy="1555.7" r="5.2"/>
<circle cx="296.5" cy="1578.3" r="5.2"/>
<circle cx="290.3" cy="1607.2" r="5.2"/>
<circle cx="291.7" cy="1614.4" r="5.2"/>
<circle cx="301.8" cy="1624" r="5.2"/>
<circle cx="295.1" cy="1645.6" r="5.2"/>
<circle cx="292.2" cy="1652.8" r="5.2"/>
<circle cx="289.3" cy="1676.8" r="5.2"/>
<circle cx="298.9" cy="1681.7" r="5.2"/>
<circle cx="298" cy="1688.9" r="5.2"/>
<circle cx="301.3" cy="1693.7" r="5.2"/>
</g>
<line x1="273.9" y1="1322.7" x2="273.9" y2="1815.8" stroke="#000" stroke-width="2"/>
<line x1="272.9" y1="1814.8" x2="731.4" y2="1814.8" stroke="#000" stroke-width="2"/>
<line x1="265.4" y1="1360.6" x2="273.9" y2="1360.6" stroke="#000" stroke-width="2"/>
<text x="256.9" y="1375.7" font-size="41.5" fill="#000" font-family="'DejaVu Sans', 'Liberation Sans', sans-serif" text-anchor="end" font-weight="normal">200</text>
<line x1="265.4" y1="1471.5" x2="273.9" y2="1471.5" stroke="#000" stroke-width="2"/>
<text x="256.9" y="1486.6" font-size="41.5" fill="#000" font-family="'DejaVu Sans', 'Liberation Sans', sans-serif" text-anchor="end" font-weight="normal">150</text>
<line x1="265.4" y1="1582.4" x2="273.9" y2="1582.4" stroke="#000" stroke-width="2"/>
<text x="256.9" y="1597.5" font-size="41.5" fill="#000" font-family="'DejaVu Sans', 'Liberation Sans', sans-serif" text-anchor="end" font-weight="normal">100</text>
<line x1="265.4" y1="1693.3" x2="273.9" y2="1693.3" stroke="#000" stroke-width="2"/>
<text x="256.9" y="1708.4" font-size="41.5" fill="#000" font-family="'DejaVu Sans', 'Liberation Sans', sans-serif" text-anchor="end" font-weight="normal">50</text>
<line x1="265.4" y1="1804.2" x2="273.9" y2="1804.2" stroke="#000" stroke-width="2"/>
<text x="256.9" y="1819.3" font-size="41.5" fill="#000" font-family="'DejaVu Sans', 'Liberation Sans', sans-serif" text-anchor="end" font-weight="normal">0</text>
<line x1="288.3" y1="1814.8" x2="288.3" y2="1823.3" stroke="#000" stroke-width="2"/>
<text x="288.3" y="1864.3" font-size="41.5" fill="#000" font-family="'DejaVu Sans', 'Liberation Sans', sans-serif" text-anchor="middle" font-weight="normal">0</text>
<line x1="446.5" y1="1814.8" x2="446.5" y2="1823.3" stroke="#000" stroke-width="2"/>
<text x="446.5" y="1864.3" font-size="41.5" fill="#000" font-family="'DejaVu Sans', 'Liberation Sans', sans-serif" text-anchor="middle" font-weight="normal">50</text>
<line x1="604.7" y1="1814.8" x2="604.7" y2="1823.3" stroke="#000" stroke-width="2"/>
<text x="604.7" y="1864.3" font-size="41.5" fill="#000" font-family="'DejaVu Sans', 'Liberation Sans', sans-serif" text-anchor="middle" font-weight="normal">100</text>
<text x="0" y="0" font-size="44" fill="#000" font-family="'DejaVu Sans', 'Liberation Sans', sans-serif" text-anchor="middle" font-weight="normal" transform="translate(157.6,1568.7) rotate(-90)">Ripple Firing Rate (Hz)</text>
<text x="502.6" y="1919.5" font-size="44" fill="#000" font-family="'DejaVu Sans', 'Liberation Sans', sans-serif" text-anchor="middle" font-weight="normal">Locomotor Firing Rate (Hz)</text>
<text x="336" y="1357.3" font-size="43.9" fill="#ea8540" font-family="'DejaVu Sans', 'Liberation Sans', sans-serif" text-anchor="start" font-weight="normal">Theta Off, Ripple On</text>
<text x="336" y="1405.3" font-size="44.2" fill="#ea8540" font-family="'DejaVu Sans', 'Liberation Sans', sans-serif" text-anchor="start" font-weight="normal">Szabo et al., 2022</text>
<text x="862" y="1352" font-size="68" fill="#222" font-family="'Liberation Sans', Arial, Helvetica, sans-serif" text-anchor="start" font-weight="bold">g</text>
<polygon points="1015.4,1738.5 1019.2,1738.3 1024.8,1737.9 1031,1737.5 1036.9,1737.2 1042.5,1736.7 1048.1,1736.2 1053.6,1735.8 1058.4,1735.8 1062.2,1736.4 1065.3,1737.3 1068.3,1738.5 1071.8,1739.9 1076.3,1741.4 1081.3,1743.1 1086.2,1744.9 1090.7,1746.6 1094.3,1748 1097.4,1749.3 1100.5,1750.6 1104.1,1752 1108.4,1753.5 1113.1,1755.2 1118,1756.6 1123,1757.5 1128.3,1757.7 1133.9,1757.3 1139.4,1756.6 1144.4,1755.5 1148.9,1754.1 1153.2,1752.2 1157.1,1750 1160.6,1747.5 1163.7,1744.7 1166.3,1741.5 1168.8,1738 1171.3,1733.9 1174,1729.4 1176.6,1724.5 1179.3,1719 1182,1712.5 1184.7,1705.5 1187.4,1697.9 1190.1,1688.8 1192.8,1677.5 1195.5,1663.9 1198.2,1648.4 1200.9,1630.7 1203.6,1610.3 1206.3,1586.4 1209,1559.4 1211.6,1530.9 1214.3,1502.5 1216.9,1471.7 1219.6,1435.7 1222.2,1399.9 1225,1372.3 1228.1,1354.5 1231.3,1345.1 1234.5,1353.7 1237.2,1364.6 1239.3,1377.9 1240.9,1394.6 1242.3,1414.2 1244,1435.5 1245.9,1456.4 1247.9,1480.2 1250,1505.1 1252,1529.5 1254,1553.8 1256,1578.5 1258,1602.2 1260,1623.5 1262,1641.8 1264,1658 1266,1672.5 1268,1685.5 1269.9,1696.9 1271.8,1706.5 1273.8,1715.1 1276,1723.2 1278.5,1730.9 1281.2,1738 1284,1744.4 1287,1750.1 1290.1,1755.1 1293.2,1759.5 1296.6,1763.1 1300.4,1766.2 1304.8,1768.5 1309.8,1770.2 1314.8,1771.3 1319.2,1772.1 1322.9,1772.6 1326.1,1772.7 1329.2,1772.5 1332.7,1772.1 1336.5,1771.5 1340.6,1770.6 1344.7,1769.5 1348.8,1768.1 1352.7,1766.4 1356.5,1764.5 1360.5,1762.3 1364.9,1760 1369.9,1757.4 1375.2,1754.5 1380.7,1751.6 1386.4,1749.3 1392.4,1747.3 1398.7,1745.7 1404.9,1744.5 1410.6,1743.9 1415.7,1744.2 1420.2,1745.2 1424.7,1746.6 1429.5,1747.9 1434.7,1749.2 1440.1,1750.6 1445.6,1752 1451,1753.3 1456.6,1754.5 1462.4,1755.7 1467.5,1756.6 1471.1,1757.3 1471.1,1768.3 1467.5,1767.6 1462.4,1766.7 1456.6,1765.5 1451,1764.3 1445.6,1763 1440.1,1761.6 1434.7,1760.2 1429.5,1758.9 1424.7,1757.6 1420.2,1756.2 1415.7,1755.2 1410.6,1754.9 1404.9,1755.5 1398.7,1756.7 1392.4,1758.3 1386.4,1760.3 1380.7,1762.6 1375.2,1765.5 1369.9,1768.4 1364.9,1771 1360.5,1773.3 1356.5,1775.5 1352.7,1777.4 1348.8,1779.1 1344.7,1780.5 1340.6,1781.6 1336.5,1782.5 1332.7,1783.1 1329.2,1783.5 1326.1,1783.7 1322.9,1783.6 1319.2,1783.1 1314.8,1782.3 1309.8,1781.2 1304.8,1779.5 1300.4,1777.2 1296.6,1774.1 1293.2,1770.5 1290.1,1766.1 1287,1761.1 1284,1755.4 1281.2,1749 1278.5,1741.9 1276,1734.2 1273.8,1726.1 1271.8,1717.5 1269.9,1707.9 1268,1696.5 1266,1683.5 1264,1669 1262,1652.8 1260,1634.5 1258,1613.2 1256,1589.5 1254,1564.8 1252,1540.5 1250,1516.1 1247.9,1491.2 1245.9,1467.4 1244,1446.5 1242.3,1431.3 1240.9,1418.2 1239.3,1408.6 1237.2,1404.4 1234.5,1405.3 1231.3,1410.6 1228.1,1408.6 1225,1412.9 1222.2,1428.3 1219.6,1452.4 1216.9,1482.7 1214.3,1513.5 1211.6,1541.9 1209,1570.4 1206.3,1597.4 1203.6,1621.3 1200.9,1641.7 1198.2,1659.4 1195.5,1674.9 1192.8,1688.5 1190.1,1699.8 1187.4,1708.9 1184.7,1716.5 1182,1723.5 1179.3,1730 1176.6,1735.5 1174,1740.4 1171.3,1744.9 1168.8,1749 1166.3,1752.5 1163.7,1755.7 1160.6,1758.5 1157.1,1761 1153.2,1763.2 1148.9,1765.1 1144.4,1766.5 1139.4,1767.6 1133.9,1768.3 1128.3,1768.7 1123,1768.5 1118,1767.6 1113.1,1766.2 1108.4,1764.5 1104.1,1763 1100.5,1761.6 1097.4,1760.3 1094.3,1759 1090.7,1757.6 1086.2,1755.9 1081.3,1754.1 1076.3,1752.4 1071.8,1750.9 1068.3,1749.5 1065.3,1748.3 1062.2,1747.4 1058.4,1746.8 1053.6,1746.8 1048.1,1747.2 1042.5,1747.7 1036.9,1748.2 1031,1748.5 1024.8,1748.9 1019.2,1749.3 1015.4,1749.5" fill="#888888" fill-opacity="0.35" stroke="#888888" stroke-opacity="0.35" stroke-width="1.2"/>
<polygon points="1015.4,1765.6 1019.4,1765.2 1025.3,1764.7 1031.6,1764.3 1036.9,1764.2 1040.8,1764.7 1044.1,1765.6 1047.2,1766.4 1050.3,1766.9 1053.7,1766.9 1057.1,1766.7 1060.4,1766.2 1063.8,1765.6 1066.8,1764.6 1069.7,1763.5 1072.9,1762.3 1077.2,1761.5 1083,1761.1 1089.8,1760.9 1097.1,1761 1104.1,1761.5 1110.9,1762.8 1117.7,1764.7 1124.5,1766.7 1131,1768.2 1137.4,1769.3 1143.8,1770.1 1149.8,1770.6 1155.2,1770.9 1159.8,1770.8 1163.8,1770.3 1167.5,1769.7 1171.3,1769.6 1175.5,1770.2 1179.7,1771.3 1183.8,1772.2 1187.5,1772.3 1190.4,1771.2 1192.8,1769.3 1195.3,1767.3 1198.2,1765.6 1202,1764.5 1206.3,1763.8 1210.6,1762.9 1214.3,1761.5 1217.5,1759.6 1220.2,1757.2 1222.7,1754.4 1225.1,1750.8 1227.3,1746 1229.3,1740.4 1231.2,1731.5 1233.2,1726.3 1235.2,1721.7 1237.2,1717.4 1239.2,1713.6 1241.2,1710.1 1243.2,1707.1 1245.1,1704.4 1247.1,1702.3 1249.3,1700.7 1251.9,1699.6 1254.7,1699 1257.5,1699.3 1260.1,1700.7 1262.2,1703.8 1264.1,1708.1 1266,1713.1 1268.1,1718.2 1270.6,1726.4 1273.3,1732 1276.1,1737.6 1278.9,1742.7 1281.6,1747.3 1284.3,1751.5 1286.9,1755.4 1289.6,1758.8 1292.3,1761.7 1294.8,1764 1297.5,1766.1 1300.4,1768.2 1303.4,1770.5 1306.6,1772.7 1310,1774.7 1313.8,1776.3 1318.2,1777.4 1323.1,1778 1328,1778.5 1332.7,1779 1336.9,1779.7 1340.9,1780.4 1344.8,1781.1 1348.8,1781.7 1352.8,1782.2 1356.9,1782.7 1360.9,1783 1364.9,1783 1368.9,1782.7 1372.8,1782 1376.8,1781.2 1381.1,1780.3 1385.6,1779.5 1390.3,1778.6 1395.1,1777.5 1399.9,1776.3 1404.6,1772 1409.5,1770.5 1414.2,1768.8 1418.7,1766.6 1422.9,1763.5 1426.9,1759.7 1430.9,1756 1434.8,1753.1 1438.8,1751.4 1442.6,1750.5 1446.6,1749.8 1451,1749.1 1456.2,1748.3 1462.1,1747.5 1467.4,1746.9 1471.1,1746.4 1471.1,1760.4 1467.4,1760.9 1462.1,1761.5 1456.2,1762.3 1451,1763.1 1446.6,1763.8 1442.6,1764.5 1438.8,1765.4 1434.8,1767.1 1430.9,1770 1426.9,1773.7 1422.9,1777.5 1418.7,1780.6 1414.2,1782.8 1409.5,1784.5 1404.6,1786 1399.9,1784.3 1395.1,1785.5 1390.3,1786.6 1385.6,1787.5 1381.1,1788.3 1376.8,1789.2 1372.8,1790 1368.9,1790.7 1364.9,1791 1360.9,1791 1356.9,1790.7 1352.8,1790.2 1348.8,1789.7 1344.8,1789.1 1340.9,1788.4 1336.9,1787.7 1332.7,1787 1328,1786.5 1323.1,1786 1318.2,1785.4 1313.8,1784.3 1310,1782.7 1306.6,1780.7 1303.4,1778.5 1300.4,1776.2 1297.5,1774.1 1294.8,1772 1292.3,1769.7 1289.6,1766.8 1286.9,1763.4 1284.3,1759.5 1281.6,1755.3 1278.9,1750.7 1276.1,1745.6 1273.3,1740 1270.6,1734.4 1268.1,1732.2 1266,1727.1 1264.1,1722.1 1262.2,1717.8 1260.1,1714.7 1257.5,1713.3 1254.7,1713 1251.9,1713.6 1249.3,1714.7 1247.1,1716.3 1245.1,1718.4 1243.2,1721.1 1241.2,1724.1 1239.2,1727.6 1237.2,1731.4 1235.2,1735.7 1233.2,1740.3 1231.2,1745.5 1229.3,1748.4 1227.3,1754 1225.1,1758.8 1222.7,1762.4 1220.2,1765.2 1217.5,1767.6 1214.3,1769.5 1210.6,1770.9 1206.3,1771.8 1202,1772.5 1198.2,1773.6 1195.3,1775.3 1192.8,1777.3 1190.4,1779.2 1187.5,1780.3 1183.8,1780.2 1179.7,1779.3 1175.5,1778.2 1171.3,1777.6 1167.5,1777.7 1163.8,1778.3 1159.8,1778.8 1155.2,1778.9 1149.8,1778.6 1143.8,1778.1 1137.4,1777.3 1131,1776.2 1124.5,1774.7 1117.7,1772.7 1110.9,1770.8 1104.1,1769.5 1097.1,1769 1089.8,1768.9 1083,1769.1 1077.2,1769.5 1072.9,1770.3 1069.7,1771.5 1066.8,1772.6 1063.8,1773.6 1060.4,1774.2 1057.1,1774.7 1053.7,1774.9 1050.3,1774.9 1047.2,1774.4 1044.1,1773.6 1040.8,1772.7 1036.9,1772.2 1031.6,1772.3 1025.3,1772.7 1019.4,1773.2 1015.4,1773.6" fill="#c75b5c" fill-opacity="0.3" stroke="#c75b5c" stroke-opacity="0.3" stroke-width="1.2"/>
<polygon points="1015.4,1757 1019.4,1757.5 1025.1,1758.2 1031.4,1758.9 1036.9,1759.7 1041.4,1760.4 1045.6,1761.2 1049.5,1761.9 1053,1762.4 1056,1762.5 1058.4,1762.5 1060.8,1762.3 1063.8,1762.4 1067.4,1762.6 1071.3,1762.8 1075.6,1763.2 1079.9,1763.7 1084.3,1764.5 1088.8,1765.6 1093.6,1766.7 1098.7,1767.7 1104.5,1768.8 1110.7,1769.8 1116.9,1770.9 1122.9,1771.8 1128.6,1772.6 1134,1773.5 1139.3,1774.1 1144.4,1774.5 1149.5,1774.5 1154.4,1774.3 1159,1773.8 1163.3,1773.1 1167,1772.2 1170.3,1771.1 1173.5,1769.7 1176.7,1767.7 1180.1,1765.1 1183.6,1762 1187,1758.6 1190.1,1755.6 1193,1753.1 1195.5,1750.8 1198.1,1748.5 1200.9,1743.2 1204.1,1740.8 1207.6,1738.2 1211.1,1735.8 1214.3,1733.8 1217.3,1732.4 1220,1731.4 1222.6,1730.6 1225.1,1729.8 1227.6,1728.8 1230.1,1727.8 1232.4,1727.1 1234.5,1727.1 1236.4,1728.2 1238,1730 1239.6,1732 1241.2,1736.8 1242.9,1738 1244.6,1738.8 1246.3,1739.9 1248,1742.2 1249.6,1746.1 1251.3,1751.1 1253,1756.4 1254.7,1761 1256.3,1764.9 1257.8,1768.3 1259.4,1771.5 1261.4,1774.5 1263.8,1777.3 1266.4,1779.9 1269.3,1782.2 1272.2,1783.9 1275.1,1784.9 1278.2,1785.3 1281.3,1785.4 1284.3,1785.2 1287,1785 1289.7,1784.5 1292.4,1783.7 1295,1782.5 1297.6,1781 1300.1,1779.1 1302.7,1776.9 1305.8,1774.5 1309.3,1771.7 1313.2,1768.7 1317.4,1765.5 1321.9,1762.4 1327.2,1759.1 1333,1755.6 1338.7,1752.4 1343.4,1750.3 1346.7,1749.3 1349,1749.2 1351.2,1749.6 1354.2,1750.3 1358.3,1751.2 1363.1,1752.6 1368.1,1754.2 1373,1755.6 1377.8,1757 1382.6,1758.4 1387.3,1759.8 1391.8,1761 1396,1762.2 1400,1763.3 1404,1764.3 1407.9,1765.1 1412,1765.7 1416.2,1766.2 1420.2,1766.4 1424.1,1766.4 1427.6,1765.9 1431,1764.9 1434.2,1764 1437.5,1763.7 1440.7,1764.4 1443.8,1765.8 1447.1,1767.2 1451,1767.7 1456,1767.2 1461.9,1766 1467.3,1764.6 1471.1,1763.7 1471.1,1772.7 1467.3,1773.6 1461.9,1775 1456,1776.2 1451,1776.7 1447.1,1776.2 1443.8,1774.8 1440.7,1773.4 1437.5,1772.7 1434.2,1773 1431,1773.9 1427.6,1774.9 1424.1,1775.4 1420.2,1775.4 1416.2,1775.2 1412,1774.7 1407.9,1774.1 1404,1773.3 1400,1772.3 1396,1771.2 1391.8,1770 1387.3,1768.8 1382.6,1767.4 1377.8,1766 1373,1764.6 1368.1,1763.2 1363.1,1761.6 1358.3,1760.2 1354.2,1759.3 1351.2,1758.6 1349,1758.2 1346.7,1758.3 1343.4,1759.3 1338.7,1761.4 1333,1764.6 1327.2,1768.1 1321.9,1771.4 1317.4,1774.5 1313.2,1777.7 1309.3,1780.7 1305.8,1783.5 1302.7,1785.9 1300.1,1788.1 1297.6,1790 1295,1791.5 1292.4,1792.7 1289.7,1793.5 1287,1794 1284.3,1794.2 1281.3,1794.4 1278.2,1794.3 1275.1,1793.9 1272.2,1792.9 1269.3,1791.2 1266.4,1788.9 1263.8,1786.3 1261.4,1783.5 1259.4,1780.5 1257.8,1777.3 1256.3,1773.9 1254.7,1770 1253,1765.4 1251.3,1760.1 1249.6,1755.1 1248,1751.2 1246.3,1748.9 1244.6,1747.8 1242.9,1747 1241.2,1745.8 1239.6,1747 1238,1745 1236.4,1743.2 1234.5,1742.1 1232.4,1742.1 1230.1,1742.8 1227.6,1743.8 1225.1,1744.8 1222.6,1745.6 1220,1746.4 1217.3,1747.4 1214.3,1748.8 1211.1,1750.8 1207.6,1753.2 1204.1,1755.8 1200.9,1758.2 1198.1,1757.5 1195.5,1759.8 1193,1762.1 1190.1,1764.6 1187,1767.6 1183.6,1771 1180.1,1774.1 1176.7,1776.7 1173.5,1778.7 1170.3,1780.1 1167,1781.2 1163.3,1782.1 1159,1782.8 1154.4,1783.3 1149.5,1783.5 1144.4,1783.5 1139.3,1783.1 1134,1782.5 1128.6,1781.6 1122.9,1780.8 1116.9,1779.9 1110.7,1778.8 1104.5,1777.8 1098.7,1776.7 1093.6,1775.7 1088.8,1774.6 1084.3,1773.5 1079.9,1772.7 1075.6,1772.2 1071.3,1771.8 1067.4,1771.6 1063.8,1771.4 1060.8,1771.3 1058.4,1771.5 1056,1771.5 1053,1771.4 1049.5,1770.9 1045.6,1770.2 1041.4,1769.4 1036.9,1768.7 1031.4,1767.9 1025.1,1767.2 1019.4,1766.5 1015.4,1766" fill="#16807b" fill-opacity="0.3" stroke="#16807b" stroke-opacity="0.3" stroke-width="1.2"/>
<polyline points="1015.4,1744 1019.2,1743.8 1024.8,1743.4 1031,1743 1036.9,1742.7 1042.5,1742.2 1048.1,1741.7 1053.6,1741.3 1058.4,1741.3 1062.2,1741.9 1065.3,1742.8 1068.3,1744 1071.8,1745.4 1076.3,1746.9 1081.3,1748.6 1086.2,1750.4 1090.7,1752.1 1094.3,1753.5 1097.4,1754.8 1100.5,1756.1 1104.1,1757.5 1108.4,1759 1113.1,1760.7 1118,1762.1 1123,1763 1128.3,1763.2 1133.9,1762.8 1139.4,1762.1 1144.4,1761 1148.9,1759.6 1153.2,1757.7 1157.1,1755.5 1160.6,1753 1163.7,1750.2 1166.3,1747 1168.8,1743.5 1171.3,1739.4 1174,1734.9 1176.6,1730 1179.3,1724.5 1182,1718 1184.7,1711 1187.4,1703.4 1190.1,1694.3 1192.8,1683 1195.5,1669.4 1198.2,1653.9 1200.9,1636.2 1203.6,1615.8 1206.3,1591.9 1209,1564.9 1211.6,1536.4 1214.3,1508 1216.9,1477.2 1219.6,1444.1 1222.2,1414.1 1225,1392.6 1228.1,1381.5 1231.3,1377.8 1234.5,1379.5 1237.2,1384.5 1239.3,1393.2 1240.9,1406.4 1242.3,1422.7 1244,1441 1245.9,1461.9 1247.9,1485.7 1250,1510.6 1252,1535 1254,1559.2 1256,1584 1258,1607.8 1260,1629 1262,1647.3 1264,1663.5 1266,1678 1268,1691 1269.9,1702.4 1271.8,1712 1273.8,1720.6 1276,1728.7 1278.5,1736.4 1281.2,1743.5 1284,1749.9 1287,1755.6 1290.1,1760.6 1293.2,1765 1296.6,1768.6 1300.4,1771.7 1304.8,1774 1309.8,1775.7 1314.8,1776.8 1319.2,1777.6 1322.9,1778.1 1326.1,1778.2 1329.2,1778 1332.7,1777.6 1336.5,1777 1340.6,1776.1 1344.7,1775 1348.8,1773.6 1352.7,1771.9 1356.5,1770 1360.5,1767.8 1364.9,1765.5 1369.9,1762.9 1375.2,1760 1380.7,1757.1 1386.4,1754.8 1392.4,1752.8 1398.7,1751.2 1404.9,1750 1410.6,1749.4 1415.7,1749.7 1420.2,1750.7 1424.7,1752.1 1429.5,1753.4 1434.7,1754.7 1440.1,1756.1 1445.6,1757.5 1451,1758.8 1456.6,1760 1462.4,1761.2 1467.5,1762.1 1471.1,1762.8" fill="none" stroke="#7f7f7f" stroke-width="4.2" stroke-linejoin="round"/>
<polyline points="1015.4,1769.6 1019.4,1769.2 1025.3,1768.7 1031.6,1768.3 1036.9,1768.2 1040.8,1768.7 1044.1,1769.6 1047.2,1770.4 1050.3,1770.9 1053.7,1770.9 1057.1,1770.7 1060.4,1770.2 1063.8,1769.6 1066.8,1768.6 1069.7,1767.5 1072.9,1766.3 1077.2,1765.5 1083,1765.1 1089.8,1764.9 1097.1,1765 1104.1,1765.5 1110.9,1766.8 1117.7,1768.7 1124.5,1770.7 1131,1772.2 1137.4,1773.3 1143.8,1774.1 1149.8,1774.6 1155.2,1774.9 1159.8,1774.8 1163.8,1774.3 1167.5,1773.7 1171.3,1773.6 1175.5,1774.2 1179.7,1775.3 1183.8,1776.2 1187.5,1776.3 1190.4,1775.2 1192.8,1773.3 1195.3,1771.3 1198.2,1769.6 1202,1768.5 1206.3,1767.8 1210.6,1766.9 1214.3,1765.5 1217.5,1763.6 1220.2,1761.2 1222.7,1758.4 1225.1,1754.8 1227.3,1750 1229.3,1744.4 1231.2,1738.5 1233.2,1733.3 1235.2,1728.7 1237.2,1724.4 1239.2,1720.6 1241.2,1717.1 1243.2,1714.1 1245.1,1711.4 1247.1,1709.3 1249.3,1707.7 1251.9,1706.6 1254.7,1706 1257.5,1706.3 1260.1,1707.7 1262.2,1710.8 1264.1,1715.1 1266,1720.1 1268.1,1725.2 1270.6,1730.4 1273.3,1736 1276.1,1741.6 1278.9,1746.7 1281.6,1751.3 1284.3,1755.5 1286.9,1759.4 1289.6,1762.8 1292.3,1765.7 1294.8,1768 1297.5,1770.1 1300.4,1772.2 1303.4,1774.5 1306.6,1776.7 1310,1778.7 1313.8,1780.3 1318.2,1781.4 1323.1,1782 1328,1782.5 1332.7,1783 1336.9,1783.7 1340.9,1784.4 1344.8,1785.1 1348.8,1785.7 1352.8,1786.2 1356.9,1786.7 1360.9,1787 1364.9,1787 1368.9,1786.7 1372.8,1786 1376.8,1785.2 1381.1,1784.3 1385.6,1783.5 1390.3,1782.6 1395.1,1781.5 1399.9,1780.3 1404.6,1779 1409.5,1777.5 1414.2,1775.8 1418.7,1773.6 1422.9,1770.5 1426.9,1766.7 1430.9,1763 1434.8,1760.1 1438.8,1758.4 1442.6,1757.5 1446.6,1756.8 1451,1756.1 1456.2,1755.3 1462.1,1754.5 1467.4,1753.9 1471.1,1753.4" fill="none" stroke="#c75b5c" stroke-width="4.2" stroke-linejoin="round"/>
<polyline points="1015.4,1761.5 1019.4,1762 1025.1,1762.7 1031.4,1763.4 1036.9,1764.2 1041.4,1764.9 1045.6,1765.7 1049.5,1766.4 1053,1766.9 1056,1767 1058.4,1767 1060.8,1766.8 1063.8,1766.9 1067.4,1767.1 1071.3,1767.3 1075.6,1767.7 1079.9,1768.2 1084.3,1769 1088.8,1770.1 1093.6,1771.2 1098.7,1772.2 1104.5,1773.3 1110.7,1774.3 1116.9,1775.4 1122.9,1776.3 1128.6,1777.1 1134,1778 1139.3,1778.6 1144.4,1779 1149.5,1779 1154.4,1778.8 1159,1778.3 1163.3,1777.6 1167,1776.7 1170.3,1775.6 1173.5,1774.2 1176.7,1772.2 1180.1,1769.6 1183.6,1766.5 1187,1763.1 1190.1,1760.1 1193,1757.6 1195.5,1755.3 1198.1,1753 1200.9,1750.7 1204.1,1748.3 1207.6,1745.7 1211.1,1743.3 1214.3,1741.3 1217.3,1739.9 1220,1738.9 1222.6,1738.1 1225.1,1737.3 1227.6,1736.3 1230.1,1735.3 1232.4,1734.6 1234.5,1734.6 1236.4,1735.7 1238,1737.5 1239.6,1739.5 1241.2,1741.3 1242.9,1742.5 1244.6,1743.3 1246.3,1744.4 1248,1746.7 1249.6,1750.6 1251.3,1755.6 1253,1760.9 1254.7,1765.5 1256.3,1769.4 1257.8,1772.8 1259.4,1776 1261.4,1779 1263.8,1781.8 1266.4,1784.4 1269.3,1786.7 1272.2,1788.4 1275.1,1789.4 1278.2,1789.8 1281.3,1789.9 1284.3,1789.7 1287,1789.5 1289.7,1789 1292.4,1788.2 1295,1787 1297.6,1785.5 1300.1,1783.6 1302.7,1781.4 1305.8,1779 1309.3,1776.2 1313.2,1773.2 1317.4,1770 1321.9,1766.9 1327.2,1763.6 1333,1760.1 1338.7,1756.9 1343.4,1754.8 1346.7,1753.8 1349,1753.7 1351.2,1754.1 1354.2,1754.8 1358.3,1755.7 1363.1,1757.1 1368.1,1758.7 1373,1760.1 1377.8,1761.5 1382.6,1762.9 1387.3,1764.3 1391.8,1765.5 1396,1766.7 1400,1767.8 1404,1768.8 1407.9,1769.6 1412,1770.2 1416.2,1770.7 1420.2,1770.9 1424.1,1770.9 1427.6,1770.4 1431,1769.4 1434.2,1768.5 1437.5,1768.2 1440.7,1768.9 1443.8,1770.3 1447.1,1771.7 1451,1772.2 1456,1771.7 1461.9,1770.5 1467.3,1769.1 1471.1,1768.2" fill="none" stroke="#16807b" stroke-width="4.2" stroke-linejoin="round"/>
<line x1="1242.6" y1="1322.6" x2="1242.6" y2="1815.2" stroke="#000" stroke-width="3.4" stroke-dasharray="12.5,6"/>
<line x1="1013.9" y1="1322.6" x2="1013.9" y2="1816.2" stroke="#000" stroke-width="2"/>
<line x1="1012.9" y1="1815.2" x2="1471.3" y2="1815.2" stroke="#000" stroke-width="2"/>
<line x1="1005.4" y1="1478.3" x2="1013.9" y2="1478.3" stroke="#000" stroke-width="2"/>
<text x="996.9" y="1493.4" font-size="41.5" fill="#000" font-family="'DejaVu Sans', 'Liberation Sans', sans-serif" text-anchor="end" font-weight="normal">100</text>
<line x1="1005.4" y1="1643.3" x2="1013.9" y2="1643.3" stroke="#000" stroke-width="2"/>
<text x="996.9" y="1658.4" font-size="41.5" fill="#000" font-family="'DejaVu Sans', 'Liberation Sans', sans-serif" text-anchor="end" font-weight="normal">50</text>
<line x1="1005.4" y1="1808.3" x2="1013.9" y2="1808.3" stroke="#000" stroke-width="2"/>
<text x="996.9" y="1823.4" font-size="41.5" fill="#000" font-family="'DejaVu Sans', 'Liberation Sans', sans-serif" text-anchor="end" font-weight="normal">0</text>
<line x1="1013.9" y1="1815.2" x2="1013.9" y2="1823.7" stroke="#000" stroke-width="2"/>
<text x="1013.9" y="1864.7" font-size="41.5" fill="#000" font-family="'DejaVu Sans', 'Liberation Sans', sans-serif" text-anchor="middle" font-weight="normal">−0.2</text>
<line x1="1242.6" y1="1815.2" x2="1242.6" y2="1823.7" stroke="#000" stroke-width="2"/>
<text x="1242.6" y="1864.7" font-size="41.5" fill="#000" font-family="'DejaVu Sans', 'Liberation Sans', sans-serif" text-anchor="middle" font-weight="normal">0.0</text>
<line x1="1471.3" y1="1815.2" x2="1471.3" y2="1823.7" stroke="#000" stroke-width="2"/>
<text x="1471.3" y="1864.7" font-size="41.5" fill="#000" font-family="'DejaVu Sans', 'Liberation Sans', sans-serif" text-anchor="middle" font-weight="normal">0.2</text>
<text x="0" y="0" font-size="44" fill="#000" font-family="'DejaVu Sans', 'Liberation Sans', sans-serif" text-anchor="middle" font-weight="normal" transform="translate(895.2,1569) rotate(-90)">Firing Rate (Hz)</text>
<text x="1242.6" y="1916" font-size="44" fill="#000" font-family="'DejaVu Sans', 'Liberation Sans', sans-serif" text-anchor="middle" font-weight="normal">Peri-Event Time (s)</text>
<text x="1299" y="1396.5" font-size="43" fill="#858585" font-family="'DejaVu Sans', 'Liberation Sans', sans-serif" text-anchor="start" font-weight="normal">SPW-R</text>
<text x="1299" y="1428" font-size="43" fill="#c75b5c" font-family="'DejaVu Sans', 'Liberation Sans', sans-serif" text-anchor="start" font-weight="normal">DS1</text>
<text x="1299" y="1459.6" font-size="43" fill="#16807b" font-family="'DejaVu Sans', 'Liberation Sans', sans-serif" text-anchor="start" font-weight="normal">DS2</text>
<polyline points="1457.4,1374.8 1462.6,1374.8 1462.6,1424 1457.4,1424" fill="none" stroke="#111" stroke-width="2.2" stroke-linejoin="round"/>
<polyline points="1503,1380 1508.3,1380 1508.3,1468.3 1503,1468.3" fill="none" stroke="#111" stroke-width="2.2" stroke-linejoin="round"/>
<text x="0" y="0" font-size="37" fill="#111" font-family="'Liberation Sans', Arial, Helvetica, sans-serif" text-anchor="middle" font-weight="normal" transform="translate(1495.5,1409.5) rotate(-90)"><tspan font-style="italic">P</tspan>&lt;0.0001</text>
<text x="0" y="0" font-size="37" fill="#111" font-family="'Liberation Sans', Arial, Helvetica, sans-serif" text-anchor="middle" font-weight="normal" transform="translate(1545.5,1435.7) rotate(-90)"><tspan font-style="italic">P</tspan>&lt;0.0001</text>
</svg></body></html>
